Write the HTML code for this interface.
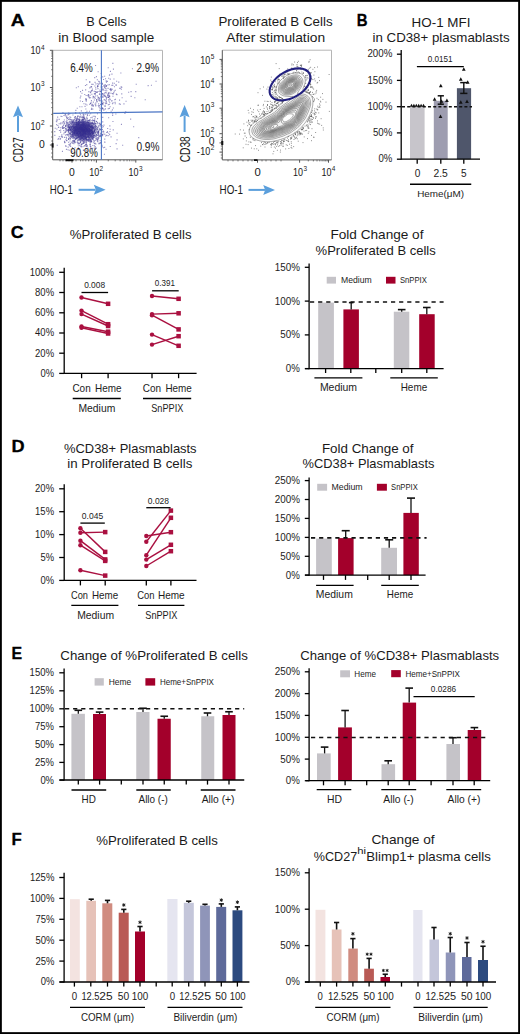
<!DOCTYPE html><html><head><meta charset="utf-8"><style>html,body{margin:0;padding:0;background:#fff}svg{display:block}text{font-family:"Liberation Sans",sans-serif}</style></head><body>
<svg width="520" height="1034" viewBox="0 0 520 1034">
<rect x="0" y="0" width="520" height="1034" fill="#fff"/>
<text x="17.75" y="25.75" font-size="17.4" font-weight="bold" fill="#000" text-anchor="middle" textLength="14" lengthAdjust="spacingAndGlyphs" stroke="#000" stroke-width="0.3">A</text>
<text x="362.1" y="26.2" font-size="17.4" font-weight="bold" fill="#000" text-anchor="middle" textLength="10.8" lengthAdjust="spacingAndGlyphs" stroke="#000" stroke-width="0.3">B</text>
<text x="17.15" y="238.3" font-size="17.4" font-weight="bold" fill="#000" text-anchor="middle" textLength="12.9" lengthAdjust="spacingAndGlyphs" stroke="#000" stroke-width="0.3">C</text>
<text x="17.95" y="452.1" font-size="17.4" font-weight="bold" fill="#000" text-anchor="middle" textLength="13.1" lengthAdjust="spacingAndGlyphs" stroke="#000" stroke-width="0.3">D</text>
<text x="16.8" y="659.2" font-size="17.4" font-weight="bold" fill="#000" text-anchor="middle" textLength="10.6" lengthAdjust="spacingAndGlyphs" stroke="#000" stroke-width="0.3">E</text>
<text x="16.62" y="844.5" font-size="17.4" font-weight="bold" fill="#000" text-anchor="middle" textLength="10.25" lengthAdjust="spacingAndGlyphs" stroke="#000" stroke-width="0.3">F</text>
<text x="106.5" y="25.75" font-size="12.8" fill="#1a1a1a" text-anchor="middle" textLength="40.3" lengthAdjust="spacingAndGlyphs">B Cells</text>
<text x="106.25" y="41.75" font-size="12.8" fill="#1a1a1a" text-anchor="middle" textLength="95.8" lengthAdjust="spacingAndGlyphs">in Blood sample</text>
<text x="275.5" y="25.9" font-size="12.8" fill="#1a1a1a" text-anchor="middle" textLength="114.2" lengthAdjust="spacingAndGlyphs">Proliferated B Cells</text>
<text x="275.65" y="41.7" font-size="12.8" fill="#1a1a1a" text-anchor="middle" textLength="98.9" lengthAdjust="spacingAndGlyphs">After stimulation</text>
<text x="441" y="26.6" font-size="12.8" fill="#1a1a1a" text-anchor="middle" textLength="58.8" lengthAdjust="spacingAndGlyphs">HO-1 MFI</text>
<text x="441.05" y="41.6" font-size="12.8" fill="#1a1a1a" text-anchor="middle" textLength="137.1" lengthAdjust="spacingAndGlyphs">in CD38+ plasmablasts</text>
<text x="130.65" y="238.8" font-size="12.8" fill="#1a1a1a" text-anchor="middle" textLength="121.7" lengthAdjust="spacingAndGlyphs">%Proliferated B cells</text>
<text x="376.95" y="239.4" font-size="12.8" fill="#1a1a1a" text-anchor="middle" textLength="93.1" lengthAdjust="spacingAndGlyphs">Fold Change of</text>
<text x="375.7" y="254.5" font-size="12.8" fill="#1a1a1a" text-anchor="middle" textLength="120.2" lengthAdjust="spacingAndGlyphs">%Proliferated B cells</text>
<text x="130.3" y="452.5" font-size="12.8" fill="#1a1a1a" text-anchor="middle" textLength="132.6" lengthAdjust="spacingAndGlyphs">%CD38+ Plasmablasts</text>
<text x="129.8" y="467.9" font-size="12.8" fill="#1a1a1a" text-anchor="middle" textLength="125" lengthAdjust="spacingAndGlyphs">in Proliferated B cells</text>
<text x="367.7" y="452.5" font-size="12.8" fill="#1a1a1a" text-anchor="middle" textLength="91.6" lengthAdjust="spacingAndGlyphs">Fold Change of</text>
<text x="368.45" y="467.8" font-size="12.8" fill="#1a1a1a" text-anchor="middle" textLength="131.9" lengthAdjust="spacingAndGlyphs">%CD38+ Plasmablasts</text>
<text x="154.12" y="659.7" font-size="12.8" fill="#1a1a1a" text-anchor="middle" textLength="187.55" lengthAdjust="spacingAndGlyphs">Change of %Proliferated B cells</text>
<text x="399.7" y="659.5" font-size="12.8" fill="#1a1a1a" text-anchor="middle" textLength="199" lengthAdjust="spacingAndGlyphs">Change of %CD38+ Plasmablasts</text>
<text x="157.05" y="845" font-size="12.8" fill="#1a1a1a" text-anchor="middle" textLength="121.5" lengthAdjust="spacingAndGlyphs">%Proliferated B cells</text>
<text x="403.05" y="844.4" font-size="12.8" fill="#1a1a1a" text-anchor="middle" textLength="63.1" lengthAdjust="spacingAndGlyphs">Change of</text>
<text x="335.5" y="860.8" font-size="12.8" fill="#1a1a1a" text-anchor="middle" textLength="43.4" lengthAdjust="spacingAndGlyphs">%CD27</text>
<text x="361.65" y="853.7" font-size="8.5" fill="#1a1a1a" text-anchor="middle" textLength="8.8" lengthAdjust="spacingAndGlyphs">hi</text>
<text x="428.55" y="860.8" font-size="12.8" fill="#1a1a1a" text-anchor="middle" textLength="124.5" lengthAdjust="spacingAndGlyphs">Blimp1+ plasma cells</text>
<rect x="410" y="106.7" width="14.6" height="52.5" fill="#c7c5cb"/>
<rect x="433.8" y="100.8" width="13.9" height="58.4" fill="#9e9db0"/>
<rect x="456.9" y="88.2" width="14.2" height="71" fill="#4f566b"/>
<line x1="402" y1="106.7" x2="472" y2="106.7" stroke="#111" stroke-width="1.6" stroke-dasharray="3 2.2"/>
<line x1="401.2" y1="50" x2="401.2" y2="159.8" stroke="#000" stroke-width="1.3"/>
<line x1="396.9" y1="54.2" x2="401.2" y2="54.2" stroke="#000" stroke-width="1.3"/>
<text x="379.84" y="57.38" font-size="10.3" fill="#1c1c1c" text-anchor="middle" textLength="24.93" lengthAdjust="spacingAndGlyphs">200%</text>
<line x1="396.9" y1="80.4" x2="401.2" y2="80.4" stroke="#000" stroke-width="1.3"/>
<text x="379.84" y="83.58" font-size="10.3" fill="#1c1c1c" text-anchor="middle" textLength="24.93" lengthAdjust="spacingAndGlyphs">150%</text>
<line x1="396.9" y1="106.7" x2="401.2" y2="106.7" stroke="#000" stroke-width="1.3"/>
<text x="379.84" y="109.88" font-size="10.3" fill="#1c1c1c" text-anchor="middle" textLength="24.93" lengthAdjust="spacingAndGlyphs">100%</text>
<line x1="396.9" y1="132.9" x2="401.2" y2="132.9" stroke="#000" stroke-width="1.3"/>
<text x="382.6" y="136.08" font-size="10.3" fill="#1c1c1c" text-anchor="middle" textLength="19.41" lengthAdjust="spacingAndGlyphs">50%</text>
<line x1="396.9" y1="159.2" x2="401.2" y2="159.2" stroke="#000" stroke-width="1.3"/>
<text x="385.36" y="162.38" font-size="10.3" fill="#1c1c1c" text-anchor="middle" textLength="13.89" lengthAdjust="spacingAndGlyphs">0%</text>
<line x1="401.2" y1="159.2" x2="480" y2="159.2" stroke="#000" stroke-width="1.3"/>
<line x1="417.2" y1="159.2" x2="417.2" y2="163.8" stroke="#000" stroke-width="1.3"/>
<line x1="440.8" y1="159.2" x2="440.8" y2="163.8" stroke="#000" stroke-width="1.3"/>
<line x1="463.8" y1="159.2" x2="463.8" y2="163.8" stroke="#000" stroke-width="1.3"/>
<text x="417.5" y="177" font-size="10" fill="#1c1c1c" text-anchor="middle" textLength="5.6" lengthAdjust="spacingAndGlyphs">0</text>
<text x="440.62" y="177" font-size="10" fill="#1c1c1c" text-anchor="middle" textLength="14.35" lengthAdjust="spacingAndGlyphs">2.5</text>
<text x="463.75" y="177" font-size="10" fill="#1c1c1c" text-anchor="middle" textLength="5.6" lengthAdjust="spacingAndGlyphs">5</text>
<line x1="410" y1="184.25" x2="471.25" y2="184.25" stroke="#000" stroke-width="1.3"/>
<text x="440.62" y="196.6" font-size="9.6" fill="#1c1c1c" text-anchor="middle" textLength="46.85" lengthAdjust="spacingAndGlyphs">Heme(μM)</text>
<line x1="416.9" y1="66.6" x2="463.8" y2="66.6" stroke="#000" stroke-width="1.3"/>
<text x="440.15" y="62.3" font-size="8.8" fill="#1c1c1c" text-anchor="middle" textLength="24.8" lengthAdjust="spacingAndGlyphs">0.0151</text>
<line x1="440.8" y1="95.8" x2="440.8" y2="104.2" stroke="#111" stroke-width="1.4"/>
<line x1="437.7" y1="95.8" x2="443.9" y2="95.8" stroke="#111" stroke-width="1.5"/>
<line x1="437.7" y1="104.2" x2="443.9" y2="104.2" stroke="#111" stroke-width="1.5"/>
<line x1="463.8" y1="82.6" x2="463.8" y2="93.4" stroke="#111" stroke-width="1.4"/>
<line x1="460.2" y1="82.6" x2="467.4" y2="82.6" stroke="#111" stroke-width="1.5"/>
<line x1="460.2" y1="93.4" x2="467.4" y2="93.4" stroke="#111" stroke-width="1.5"/>
<path d="M411.5 103.7L413.15 106.85L409.85 106.85Z" fill="#111"/>
<path d="M413.9 103.7L415.55 106.85L412.25 106.85Z" fill="#111"/>
<path d="M416.3 103.7L417.95 106.85L414.65 106.85Z" fill="#111"/>
<path d="M418.7 103.7L420.35 106.85L417.05 106.85Z" fill="#111"/>
<path d="M421.1 103.7L422.75 106.85L419.45 106.85Z" fill="#111"/>
<path d="M423.5 103.7L425.15 106.85L421.85 106.85Z" fill="#111"/>
<path d="M440.8 83.66L442.67 87.23L438.93 87.23Z" fill="#111"/>
<path d="M434.6 97.16L436.47 100.73L432.73 100.73Z" fill="#111"/>
<path d="M446.9 98.46L448.77 102.03L445.03 102.03Z" fill="#111"/>
<path d="M440.5 114.46L442.37 118.03L438.63 118.03Z" fill="#111"/>
<path d="M441.5 99.26L443.37 102.83L439.63 102.83Z" fill="#111"/>
<path d="M463.8 67.16L465.67 70.73L461.93 70.73Z" fill="#111"/>
<path d="M460.8 77.16L462.67 80.73L458.93 80.73Z" fill="#111"/>
<path d="M467.7 80.26L469.57 83.83L465.83 83.83Z" fill="#111"/>
<path d="M460.8 100.26L462.67 103.83L458.93 103.83Z" fill="#111"/>
<path d="M467 99.46L468.87 103.03L465.13 103.03Z" fill="#111"/>
<line x1="64.2" y1="267.7" x2="64.2" y2="374" stroke="#000" stroke-width="1.3"/>
<line x1="59.2" y1="272.3" x2="64.2" y2="272.3" stroke="#000" stroke-width="1.3"/>
<text x="41.9" y="275.7" font-size="11" fill="#1c1c1c" text-anchor="middle" textLength="24.4" lengthAdjust="spacingAndGlyphs">100%</text>
<line x1="59.2" y1="292.5" x2="64.2" y2="292.5" stroke="#000" stroke-width="1.3"/>
<text x="44.6" y="295.9" font-size="11" fill="#1c1c1c" text-anchor="middle" textLength="19" lengthAdjust="spacingAndGlyphs">80%</text>
<line x1="59.2" y1="312.8" x2="64.2" y2="312.8" stroke="#000" stroke-width="1.3"/>
<text x="44.6" y="316.2" font-size="11" fill="#1c1c1c" text-anchor="middle" textLength="19" lengthAdjust="spacingAndGlyphs">60%</text>
<line x1="59.2" y1="333" x2="64.2" y2="333" stroke="#000" stroke-width="1.3"/>
<text x="44.6" y="336.4" font-size="11" fill="#1c1c1c" text-anchor="middle" textLength="19" lengthAdjust="spacingAndGlyphs">40%</text>
<line x1="59.2" y1="353.2" x2="64.2" y2="353.2" stroke="#000" stroke-width="1.3"/>
<text x="44.6" y="356.6" font-size="11" fill="#1c1c1c" text-anchor="middle" textLength="19" lengthAdjust="spacingAndGlyphs">20%</text>
<line x1="59.2" y1="373.4" x2="64.2" y2="373.4" stroke="#000" stroke-width="1.3"/>
<text x="47.3" y="376.8" font-size="11" fill="#1c1c1c" text-anchor="middle" textLength="13.6" lengthAdjust="spacingAndGlyphs">0%</text>
<line x1="64.2" y1="373.4" x2="196.6" y2="373.4" stroke="#000" stroke-width="1.3"/>
<line x1="81.6" y1="373.4" x2="81.6" y2="378.2" stroke="#000" stroke-width="1.3"/>
<line x1="108.1" y1="373.4" x2="108.1" y2="378.2" stroke="#000" stroke-width="1.3"/>
<line x1="152" y1="373.4" x2="152" y2="378.2" stroke="#000" stroke-width="1.3"/>
<line x1="178.6" y1="373.4" x2="178.6" y2="378.2" stroke="#000" stroke-width="1.3"/>
<line x1="81.5" y1="297.5" x2="108.1" y2="303.8" stroke="#aa1040" stroke-width="1.45"/>
<line x1="81.5" y1="310.6" x2="108.1" y2="324.2" stroke="#aa1040" stroke-width="1.45"/>
<line x1="81.5" y1="314.1" x2="108.1" y2="326" stroke="#aa1040" stroke-width="1.45"/>
<line x1="81.5" y1="326.5" x2="108.1" y2="331.7" stroke="#aa1040" stroke-width="1.45"/>
<line x1="81.5" y1="327.7" x2="108.1" y2="333.5" stroke="#aa1040" stroke-width="1.45"/>
<circle cx="81.5" cy="297.5" r="2.2" fill="#aa1040"/>
<rect x="105.85" y="301.55" width="4.5" height="4.5" fill="#aa1040"/>
<circle cx="81.5" cy="310.6" r="2.2" fill="#aa1040"/>
<rect x="105.85" y="321.95" width="4.5" height="4.5" fill="#aa1040"/>
<circle cx="81.5" cy="314.1" r="2.2" fill="#aa1040"/>
<rect x="105.85" y="323.75" width="4.5" height="4.5" fill="#aa1040"/>
<circle cx="81.5" cy="326.5" r="2.2" fill="#aa1040"/>
<rect x="105.85" y="329.45" width="4.5" height="4.5" fill="#aa1040"/>
<circle cx="81.5" cy="327.7" r="2.2" fill="#aa1040"/>
<rect x="105.85" y="331.25" width="4.5" height="4.5" fill="#aa1040"/>
<line x1="152" y1="296" x2="178.6" y2="298.8" stroke="#aa1040" stroke-width="1.45"/>
<line x1="152" y1="314.1" x2="178.6" y2="313.3" stroke="#aa1040" stroke-width="1.45"/>
<line x1="152" y1="315.2" x2="178.6" y2="329.4" stroke="#aa1040" stroke-width="1.45"/>
<line x1="152" y1="334.6" x2="178.6" y2="345.8" stroke="#aa1040" stroke-width="1.45"/>
<line x1="152" y1="344.6" x2="178.6" y2="336.2" stroke="#aa1040" stroke-width="1.45"/>
<circle cx="152" cy="296" r="2.2" fill="#aa1040"/>
<rect x="176.35" y="296.55" width="4.5" height="4.5" fill="#aa1040"/>
<circle cx="152" cy="314.1" r="2.2" fill="#aa1040"/>
<rect x="176.35" y="311.05" width="4.5" height="4.5" fill="#aa1040"/>
<circle cx="152" cy="315.2" r="2.2" fill="#aa1040"/>
<rect x="176.35" y="327.15" width="4.5" height="4.5" fill="#aa1040"/>
<circle cx="152" cy="334.6" r="2.2" fill="#aa1040"/>
<rect x="176.35" y="343.55" width="4.5" height="4.5" fill="#aa1040"/>
<circle cx="152" cy="344.6" r="2.2" fill="#aa1040"/>
<rect x="176.35" y="333.95" width="4.5" height="4.5" fill="#aa1040"/>
<line x1="81.5" y1="292.5" x2="108.1" y2="292.5" stroke="#000" stroke-width="1.3"/>
<text x="94.6" y="288.2" font-size="8.8" fill="#1c1c1c" text-anchor="middle" textLength="20.9" lengthAdjust="spacingAndGlyphs">0.008</text>
<line x1="152.1" y1="290.8" x2="178.7" y2="290.8" stroke="#000" stroke-width="1.3"/>
<text x="164.8" y="285.9" font-size="8.8" fill="#1c1c1c" text-anchor="middle" textLength="20.1" lengthAdjust="spacingAndGlyphs">0.391</text>
<text x="81.55" y="391.5" font-size="10.8" fill="#1c1c1c" text-anchor="middle" textLength="18.3" lengthAdjust="spacingAndGlyphs">Con</text>
<text x="108.25" y="391.5" font-size="10.8" fill="#1c1c1c" text-anchor="middle" textLength="26.5" lengthAdjust="spacingAndGlyphs">Heme</text>
<line x1="72.7" y1="398.5" x2="120.8" y2="398.5" stroke="#000" stroke-width="1.3"/>
<text x="96.9" y="411.5" font-size="10.8" fill="#1c1c1c" text-anchor="middle" textLength="36.8" lengthAdjust="spacingAndGlyphs">Medium</text>
<text x="151.95" y="391.5" font-size="10.8" fill="#1c1c1c" text-anchor="middle" textLength="18.3" lengthAdjust="spacingAndGlyphs">Con</text>
<text x="178.6" y="391.5" font-size="10.8" fill="#1c1c1c" text-anchor="middle" textLength="26.4" lengthAdjust="spacingAndGlyphs">Heme</text>
<line x1="143" y1="398.5" x2="191.2" y2="398.5" stroke="#000" stroke-width="1.3"/>
<text x="167.25" y="411.5" font-size="10.8" fill="#1c1c1c" text-anchor="middle" textLength="32.1" lengthAdjust="spacingAndGlyphs">SnPPIX</text>
<rect x="318.2" y="302.6" width="15.7" height="66" fill="#c5c3c8"/>
<rect x="343.4" y="309.4" width="15.5" height="59.2" fill="#a3002b"/>
<rect x="393.8" y="311.7" width="15.5" height="56.9" fill="#c5c3c8"/>
<rect x="419.2" y="314.2" width="15.5" height="54.4" fill="#a3002b"/>
<line x1="351.2" y1="302.6" x2="351.2" y2="309.4" stroke="#111" stroke-width="1.3"/>
<line x1="348.9" y1="302.6" x2="353.5" y2="302.6" stroke="#111" stroke-width="1.6"/>
<line x1="401.7" y1="309.6" x2="401.7" y2="311.7" stroke="#111" stroke-width="1.3"/>
<line x1="397.9" y1="309.6" x2="405.5" y2="309.6" stroke="#111" stroke-width="1.6"/>
<line x1="426.8" y1="307.5" x2="426.8" y2="314.2" stroke="#111" stroke-width="1.3"/>
<line x1="423" y1="307.5" x2="430.6" y2="307.5" stroke="#111" stroke-width="1.6"/>
<line x1="310" y1="302" x2="443.6" y2="302" stroke="#111" stroke-width="1.6" stroke-dasharray="4.2 3.9"/>
<line x1="309.1" y1="263.5" x2="309.1" y2="369.2" stroke="#000" stroke-width="1.3"/>
<line x1="304.8" y1="267.3" x2="309.1" y2="267.3" stroke="#000" stroke-width="1.3"/>
<text x="287.3" y="270.7" font-size="11" fill="#1c1c1c" text-anchor="middle" textLength="25.19" lengthAdjust="spacingAndGlyphs">150%</text>
<line x1="304.8" y1="301.1" x2="309.1" y2="301.1" stroke="#000" stroke-width="1.3"/>
<text x="287.3" y="304.5" font-size="11" fill="#1c1c1c" text-anchor="middle" textLength="25.19" lengthAdjust="spacingAndGlyphs">100%</text>
<line x1="304.8" y1="334.9" x2="309.1" y2="334.9" stroke="#000" stroke-width="1.3"/>
<text x="290.09" y="338.3" font-size="11" fill="#1c1c1c" text-anchor="middle" textLength="19.61" lengthAdjust="spacingAndGlyphs">50%</text>
<line x1="304.8" y1="368.6" x2="309.1" y2="368.6" stroke="#000" stroke-width="1.3"/>
<text x="292.88" y="372" font-size="11" fill="#1c1c1c" text-anchor="middle" textLength="14.03" lengthAdjust="spacingAndGlyphs">0%</text>
<line x1="305" y1="368.6" x2="443.6" y2="368.6" stroke="#000" stroke-width="1.3"/>
<line x1="325.6" y1="368.6" x2="325.6" y2="373" stroke="#000" stroke-width="1.3"/>
<line x1="350.8" y1="368.6" x2="350.8" y2="373" stroke="#000" stroke-width="1.3"/>
<line x1="375.8" y1="368.6" x2="375.8" y2="373" stroke="#000" stroke-width="1.3"/>
<line x1="401.7" y1="368.6" x2="401.7" y2="373" stroke="#000" stroke-width="1.3"/>
<line x1="426.8" y1="368.6" x2="426.8" y2="373" stroke="#000" stroke-width="1.3"/>
<rect x="326.7" y="276.8" width="9.3" height="6.8" fill="#c5c3c8"/>
<text x="356.4" y="283.1" font-size="8.2" fill="#1c1c1c" text-anchor="middle" textLength="30.7" lengthAdjust="spacingAndGlyphs">Medium</text>
<rect x="386" y="276.8" width="9.5" height="6.8" fill="#a3002b"/>
<text x="413.4" y="283.1" font-size="8.2" fill="#1c1c1c" text-anchor="middle" textLength="26.9" lengthAdjust="spacingAndGlyphs">SnPPIX</text>
<line x1="314.4" y1="377.8" x2="362.4" y2="377.8" stroke="#000" stroke-width="1.3"/>
<line x1="390.3" y1="377.8" x2="437.8" y2="377.8" stroke="#000" stroke-width="1.3"/>
<text x="338.5" y="391.3" font-size="10.8" fill="#1c1c1c" text-anchor="middle" textLength="37.2" lengthAdjust="spacingAndGlyphs">Medium</text>
<text x="413.95" y="391.3" font-size="10.8" fill="#1c1c1c" text-anchor="middle" textLength="26.5" lengthAdjust="spacingAndGlyphs">Heme</text>
<line x1="64.2" y1="484.2" x2="64.2" y2="581" stroke="#000" stroke-width="1.3"/>
<line x1="59.2" y1="488.8" x2="64.2" y2="488.8" stroke="#000" stroke-width="1.3"/>
<text x="44.6" y="492.2" font-size="11" fill="#1c1c1c" text-anchor="middle" textLength="19" lengthAdjust="spacingAndGlyphs">20%</text>
<line x1="59.2" y1="511.7" x2="64.2" y2="511.7" stroke="#000" stroke-width="1.3"/>
<text x="44.6" y="515.1" font-size="11" fill="#1c1c1c" text-anchor="middle" textLength="19" lengthAdjust="spacingAndGlyphs">15%</text>
<line x1="59.2" y1="534.6" x2="64.2" y2="534.6" stroke="#000" stroke-width="1.3"/>
<text x="44.6" y="538" font-size="11" fill="#1c1c1c" text-anchor="middle" textLength="19" lengthAdjust="spacingAndGlyphs">10%</text>
<line x1="59.2" y1="557.5" x2="64.2" y2="557.5" stroke="#000" stroke-width="1.3"/>
<text x="47.3" y="560.9" font-size="11" fill="#1c1c1c" text-anchor="middle" textLength="13.6" lengthAdjust="spacingAndGlyphs">5%</text>
<line x1="59.2" y1="580.4" x2="64.2" y2="580.4" stroke="#000" stroke-width="1.3"/>
<text x="47.3" y="583.8" font-size="11" fill="#1c1c1c" text-anchor="middle" textLength="13.6" lengthAdjust="spacingAndGlyphs">0%</text>
<line x1="64.2" y1="580.4" x2="196.5" y2="580.4" stroke="#000" stroke-width="1.3"/>
<line x1="80.4" y1="580.4" x2="80.4" y2="585.4" stroke="#000" stroke-width="1.3"/>
<line x1="105.2" y1="580.4" x2="105.2" y2="585.4" stroke="#000" stroke-width="1.3"/>
<line x1="146.3" y1="580.4" x2="146.3" y2="585.4" stroke="#000" stroke-width="1.3"/>
<line x1="170.9" y1="580.4" x2="170.9" y2="585.4" stroke="#000" stroke-width="1.3"/>
<line x1="80.4" y1="528.3" x2="105.2" y2="551.9" stroke="#aa1040" stroke-width="1.45"/>
<line x1="80.4" y1="532.7" x2="105.2" y2="532.1" stroke="#aa1040" stroke-width="1.45"/>
<line x1="80.4" y1="540.7" x2="105.2" y2="559.4" stroke="#aa1040" stroke-width="1.45"/>
<line x1="80.4" y1="545.2" x2="105.2" y2="560.9" stroke="#aa1040" stroke-width="1.45"/>
<line x1="80.4" y1="570.2" x2="105.2" y2="575.6" stroke="#aa1040" stroke-width="1.45"/>
<circle cx="80.4" cy="528.3" r="2.2" fill="#aa1040"/>
<rect x="102.95" y="549.65" width="4.5" height="4.5" fill="#aa1040"/>
<circle cx="80.4" cy="532.7" r="2.2" fill="#aa1040"/>
<rect x="102.95" y="529.85" width="4.5" height="4.5" fill="#aa1040"/>
<circle cx="80.4" cy="540.7" r="2.2" fill="#aa1040"/>
<rect x="102.95" y="557.15" width="4.5" height="4.5" fill="#aa1040"/>
<circle cx="80.4" cy="545.2" r="2.2" fill="#aa1040"/>
<rect x="102.95" y="558.65" width="4.5" height="4.5" fill="#aa1040"/>
<circle cx="80.4" cy="570.2" r="2.2" fill="#aa1040"/>
<rect x="102.95" y="573.35" width="4.5" height="4.5" fill="#aa1040"/>
<line x1="146.3" y1="536" x2="170.9" y2="532.2" stroke="#aa1040" stroke-width="1.45"/>
<line x1="146.3" y1="541.7" x2="170.9" y2="510.6" stroke="#aa1040" stroke-width="1.45"/>
<line x1="146.3" y1="555.2" x2="170.9" y2="517.8" stroke="#aa1040" stroke-width="1.45"/>
<line x1="146.3" y1="559.6" x2="170.9" y2="544.8" stroke="#aa1040" stroke-width="1.45"/>
<line x1="146.3" y1="566" x2="170.9" y2="551.2" stroke="#aa1040" stroke-width="1.45"/>
<circle cx="146.3" cy="536" r="2.2" fill="#aa1040"/>
<rect x="168.65" y="529.95" width="4.5" height="4.5" fill="#aa1040"/>
<circle cx="146.3" cy="541.7" r="2.2" fill="#aa1040"/>
<rect x="168.65" y="508.35" width="4.5" height="4.5" fill="#aa1040"/>
<circle cx="146.3" cy="555.2" r="2.2" fill="#aa1040"/>
<rect x="168.65" y="515.55" width="4.5" height="4.5" fill="#aa1040"/>
<circle cx="146.3" cy="559.6" r="2.2" fill="#aa1040"/>
<rect x="168.65" y="542.55" width="4.5" height="4.5" fill="#aa1040"/>
<circle cx="146.3" cy="566" r="2.2" fill="#aa1040"/>
<rect x="168.65" y="548.95" width="4.5" height="4.5" fill="#aa1040"/>
<line x1="80.4" y1="523.1" x2="104.8" y2="523.1" stroke="#000" stroke-width="1.3"/>
<text x="92.5" y="518.5" font-size="8.8" fill="#1c1c1c" text-anchor="middle" textLength="21.3" lengthAdjust="spacingAndGlyphs">0.045</text>
<line x1="146.3" y1="507.7" x2="170.6" y2="507.7" stroke="#000" stroke-width="1.3"/>
<text x="158.45" y="503.7" font-size="8.8" fill="#1c1c1c" text-anchor="middle" textLength="21.2" lengthAdjust="spacingAndGlyphs">0.028</text>
<text x="79.5" y="598.7" font-size="10.8" fill="#1c1c1c" text-anchor="middle" textLength="17" lengthAdjust="spacingAndGlyphs">Con</text>
<text x="105.1" y="598.7" font-size="10.8" fill="#1c1c1c" text-anchor="middle" textLength="26.2" lengthAdjust="spacingAndGlyphs">Heme</text>
<line x1="71.3" y1="605.4" x2="118.4" y2="605.4" stroke="#000" stroke-width="1.3"/>
<text x="95.65" y="618.6" font-size="10.8" fill="#1c1c1c" text-anchor="middle" textLength="36.9" lengthAdjust="spacingAndGlyphs">Medium</text>
<text x="145.85" y="598.7" font-size="10.8" fill="#1c1c1c" text-anchor="middle" textLength="17.3" lengthAdjust="spacingAndGlyphs">Con</text>
<text x="171.35" y="598.7" font-size="10.8" fill="#1c1c1c" text-anchor="middle" textLength="26.7" lengthAdjust="spacingAndGlyphs">Heme</text>
<line x1="138" y1="605.4" x2="184.4" y2="605.4" stroke="#000" stroke-width="1.3"/>
<text x="161.35" y="618.6" font-size="10.8" fill="#1c1c1c" text-anchor="middle" textLength="32.1" lengthAdjust="spacingAndGlyphs">SnPPIX</text>
<rect x="316.1" y="538.6" width="15.7" height="36.5" fill="#c5c3c8"/>
<rect x="338.1" y="538.1" width="15.5" height="37" fill="#a3002b"/>
<rect x="381.2" y="547.8" width="15.8" height="27.3" fill="#c5c3c8"/>
<rect x="403.4" y="512.9" width="15.4" height="62.2" fill="#a3002b"/>
<line x1="345.7" y1="530.7" x2="345.7" y2="538.1" stroke="#111" stroke-width="1.3"/>
<line x1="341.7" y1="530.7" x2="349.7" y2="530.7" stroke="#111" stroke-width="1.6"/>
<line x1="389.2" y1="539.8" x2="389.2" y2="547.8" stroke="#111" stroke-width="1.3"/>
<line x1="385.2" y1="539.8" x2="393.2" y2="539.8" stroke="#111" stroke-width="1.6"/>
<line x1="411" y1="498.1" x2="411" y2="512.9" stroke="#111" stroke-width="1.3"/>
<line x1="407" y1="498.1" x2="415" y2="498.1" stroke="#111" stroke-width="1.6"/>
<line x1="311" y1="537.9" x2="426.6" y2="537.9" stroke="#111" stroke-width="1.6" stroke-dasharray="4.2 3.9"/>
<line x1="309.1" y1="477.4" x2="309.1" y2="575.7" stroke="#000" stroke-width="1.3"/>
<line x1="304.8" y1="480.6" x2="309.1" y2="480.6" stroke="#000" stroke-width="1.3"/>
<text x="287.3" y="484" font-size="11" fill="#1c1c1c" text-anchor="middle" textLength="25.19" lengthAdjust="spacingAndGlyphs">250%</text>
<line x1="304.8" y1="499.5" x2="309.1" y2="499.5" stroke="#000" stroke-width="1.3"/>
<text x="287.3" y="502.9" font-size="11" fill="#1c1c1c" text-anchor="middle" textLength="25.19" lengthAdjust="spacingAndGlyphs">200%</text>
<line x1="304.8" y1="518.4" x2="309.1" y2="518.4" stroke="#000" stroke-width="1.3"/>
<text x="287.3" y="521.8" font-size="11" fill="#1c1c1c" text-anchor="middle" textLength="25.19" lengthAdjust="spacingAndGlyphs">150%</text>
<line x1="304.8" y1="537.4" x2="309.1" y2="537.4" stroke="#000" stroke-width="1.3"/>
<text x="287.3" y="540.8" font-size="11" fill="#1c1c1c" text-anchor="middle" textLength="25.19" lengthAdjust="spacingAndGlyphs">100%</text>
<line x1="304.8" y1="556.3" x2="309.1" y2="556.3" stroke="#000" stroke-width="1.3"/>
<text x="290.09" y="559.7" font-size="11" fill="#1c1c1c" text-anchor="middle" textLength="19.61" lengthAdjust="spacingAndGlyphs">50%</text>
<line x1="304.8" y1="575.1" x2="309.1" y2="575.1" stroke="#000" stroke-width="1.3"/>
<text x="292.88" y="578.5" font-size="11" fill="#1c1c1c" text-anchor="middle" textLength="14.03" lengthAdjust="spacingAndGlyphs">0%</text>
<line x1="305" y1="575.1" x2="425.6" y2="575.1" stroke="#000" stroke-width="1.3"/>
<line x1="323.5" y1="575.1" x2="323.5" y2="579.9" stroke="#000" stroke-width="1.3"/>
<line x1="345.5" y1="575.1" x2="345.5" y2="579.9" stroke="#000" stroke-width="1.3"/>
<line x1="367.7" y1="575.1" x2="367.7" y2="579.9" stroke="#000" stroke-width="1.3"/>
<line x1="389.2" y1="575.1" x2="389.2" y2="579.9" stroke="#000" stroke-width="1.3"/>
<line x1="411" y1="575.1" x2="411" y2="579.9" stroke="#000" stroke-width="1.3"/>
<rect x="317.2" y="483.8" width="9.9" height="6.9" fill="#c5c3c8"/>
<text x="347.1" y="490.2" font-size="8.2" fill="#1c1c1c" text-anchor="middle" textLength="31.1" lengthAdjust="spacingAndGlyphs">Medium</text>
<rect x="376.9" y="483.8" width="10" height="6.9" fill="#a3002b"/>
<text x="404.4" y="490.2" font-size="8.2" fill="#1c1c1c" text-anchor="middle" textLength="26.7" lengthAdjust="spacingAndGlyphs">SnPPIX</text>
<line x1="316.1" y1="585.3" x2="353.6" y2="585.3" stroke="#000" stroke-width="1.3"/>
<line x1="381.2" y1="585.3" x2="418.8" y2="585.3" stroke="#000" stroke-width="1.3"/>
<text x="334.3" y="598.2" font-size="10.8" fill="#1c1c1c" text-anchor="middle" textLength="37" lengthAdjust="spacingAndGlyphs">Medium</text>
<text x="400" y="598.2" font-size="10.8" fill="#1c1c1c" text-anchor="middle" textLength="26.4" lengthAdjust="spacingAndGlyphs">Heme</text>
<rect x="71.4" y="713.8" width="13.5" height="66.2" fill="#c5c3c8"/>
<line x1="78.3" y1="710.3" x2="78.3" y2="713.8" stroke="#111" stroke-width="1.3"/>
<line x1="74.5" y1="710.3" x2="82.1" y2="710.3" stroke="#111" stroke-width="1.6"/>
<rect x="136.25" y="712" width="13.25" height="68" fill="#c5c3c8"/>
<line x1="143" y1="708.25" x2="143" y2="712" stroke="#111" stroke-width="1.3"/>
<line x1="139.2" y1="708.25" x2="146.8" y2="708.25" stroke="#111" stroke-width="1.6"/>
<rect x="201.25" y="716.25" width="13" height="63.75" fill="#c5c3c8"/>
<line x1="207.5" y1="713" x2="207.5" y2="716.25" stroke="#111" stroke-width="1.3"/>
<line x1="203.7" y1="713" x2="211.3" y2="713" stroke="#111" stroke-width="1.6"/>
<rect x="93" y="714" width="13" height="66" fill="#a3002b"/>
<line x1="99.6" y1="712.1" x2="99.6" y2="714" stroke="#111" stroke-width="1.3"/>
<line x1="95.8" y1="712.1" x2="103.4" y2="712.1" stroke="#111" stroke-width="1.6"/>
<rect x="157.5" y="718.75" width="13.25" height="61.25" fill="#a3002b"/>
<line x1="164.25" y1="716.25" x2="164.25" y2="718.75" stroke="#111" stroke-width="1.3"/>
<line x1="160.45" y1="716.25" x2="168.05" y2="716.25" stroke="#111" stroke-width="1.6"/>
<rect x="222.5" y="715" width="13" height="65" fill="#a3002b"/>
<line x1="229" y1="711.75" x2="229" y2="715" stroke="#111" stroke-width="1.3"/>
<line x1="225.2" y1="711.75" x2="232.8" y2="711.75" stroke="#111" stroke-width="1.6"/>
<line x1="65" y1="708.8" x2="244.2" y2="708.8" stroke="#111" stroke-width="1.6" stroke-dasharray="4.2 3.9"/>
<line x1="64.1" y1="668.5" x2="64.1" y2="780.6" stroke="#000" stroke-width="1.3"/>
<line x1="59.3" y1="672.8" x2="64.1" y2="672.8" stroke="#000" stroke-width="1.3"/>
<text x="41.8" y="676.2" font-size="11" fill="#1c1c1c" text-anchor="middle" textLength="24.4" lengthAdjust="spacingAndGlyphs">150%</text>
<line x1="59.3" y1="690.8" x2="64.1" y2="690.8" stroke="#000" stroke-width="1.3"/>
<text x="41.8" y="694.2" font-size="11" fill="#1c1c1c" text-anchor="middle" textLength="24.4" lengthAdjust="spacingAndGlyphs">125%</text>
<line x1="59.3" y1="708.8" x2="64.1" y2="708.8" stroke="#000" stroke-width="1.3"/>
<text x="41.8" y="712.2" font-size="11" fill="#1c1c1c" text-anchor="middle" textLength="24.4" lengthAdjust="spacingAndGlyphs">100%</text>
<line x1="59.3" y1="726.7" x2="64.1" y2="726.7" stroke="#000" stroke-width="1.3"/>
<text x="44.5" y="730.1" font-size="11" fill="#1c1c1c" text-anchor="middle" textLength="19" lengthAdjust="spacingAndGlyphs">75%</text>
<line x1="59.3" y1="744.6" x2="64.1" y2="744.6" stroke="#000" stroke-width="1.3"/>
<text x="44.5" y="748" font-size="11" fill="#1c1c1c" text-anchor="middle" textLength="19" lengthAdjust="spacingAndGlyphs">50%</text>
<line x1="59.3" y1="762.4" x2="64.1" y2="762.4" stroke="#000" stroke-width="1.3"/>
<text x="44.5" y="765.8" font-size="11" fill="#1c1c1c" text-anchor="middle" textLength="19" lengthAdjust="spacingAndGlyphs">25%</text>
<line x1="59.3" y1="780.1" x2="64.1" y2="780.1" stroke="#000" stroke-width="1.3"/>
<text x="47.2" y="783.5" font-size="11" fill="#1c1c1c" text-anchor="middle" textLength="13.6" lengthAdjust="spacingAndGlyphs">0%</text>
<line x1="59.5" y1="780" x2="244.25" y2="780" stroke="#000" stroke-width="1.3"/>
<line x1="78.3" y1="780" x2="78.3" y2="784.6" stroke="#000" stroke-width="1.3"/>
<line x1="99.6" y1="780" x2="99.6" y2="784.6" stroke="#000" stroke-width="1.3"/>
<line x1="121.3" y1="780" x2="121.3" y2="784.6" stroke="#000" stroke-width="1.3"/>
<line x1="143" y1="780" x2="143" y2="784.6" stroke="#000" stroke-width="1.3"/>
<line x1="164.25" y1="780" x2="164.25" y2="784.6" stroke="#000" stroke-width="1.3"/>
<line x1="186.25" y1="780" x2="186.25" y2="784.6" stroke="#000" stroke-width="1.3"/>
<line x1="207.5" y1="780" x2="207.5" y2="784.6" stroke="#000" stroke-width="1.3"/>
<line x1="229" y1="780" x2="229" y2="784.6" stroke="#000" stroke-width="1.3"/>
<rect x="94.6" y="678.2" width="9.2" height="7.4" fill="#c5c3c8"/>
<text x="120" y="684.8" font-size="8.2" fill="#1c1c1c" text-anchor="middle" textLength="22.5" lengthAdjust="spacingAndGlyphs">Heme</text>
<rect x="145.4" y="678.2" width="9.8" height="7.4" fill="#a3002b"/>
<text x="186.95" y="684.8" font-size="8.2" fill="#1c1c1c" text-anchor="middle" textLength="54" lengthAdjust="spacingAndGlyphs">Heme+SnPPIX</text>
<line x1="71.5" y1="790" x2="106.2" y2="790" stroke="#000" stroke-width="1.3"/>
<line x1="136.3" y1="790" x2="170.75" y2="790" stroke="#000" stroke-width="1.3"/>
<line x1="200.75" y1="790" x2="235.5" y2="790" stroke="#000" stroke-width="1.3"/>
<text x="88.75" y="803.1" font-size="10.8" fill="#1c1c1c" text-anchor="middle" textLength="14.3" lengthAdjust="spacingAndGlyphs">HD</text>
<text x="153.15" y="803.1" font-size="10.8" fill="#1c1c1c" text-anchor="middle" textLength="29.3" lengthAdjust="spacingAndGlyphs">Allo (-)</text>
<text x="218.1" y="803.1" font-size="10.8" fill="#1c1c1c" text-anchor="middle" textLength="32.8" lengthAdjust="spacingAndGlyphs">Allo (+)</text>
<rect x="317" y="753.4" width="13.7" height="27.3" fill="#c5c3c8"/>
<line x1="324.6" y1="747.1" x2="324.6" y2="753.4" stroke="#111" stroke-width="1.3"/>
<line x1="320.8" y1="747.1" x2="328.4" y2="747.1" stroke="#111" stroke-width="1.6"/>
<rect x="381.5" y="764.2" width="13.6" height="16.5" fill="#c5c3c8"/>
<line x1="388.2" y1="760.8" x2="388.2" y2="764.2" stroke="#111" stroke-width="1.3"/>
<line x1="384.4" y1="760.8" x2="392" y2="760.8" stroke="#111" stroke-width="1.6"/>
<rect x="446.4" y="744" width="13.6" height="36.7" fill="#c5c3c8"/>
<line x1="453" y1="737.7" x2="453" y2="744" stroke="#111" stroke-width="1.3"/>
<line x1="449.2" y1="737.7" x2="456.8" y2="737.7" stroke="#111" stroke-width="1.6"/>
<rect x="338.1" y="727.4" width="13.8" height="53.3" fill="#a3002b"/>
<line x1="345.1" y1="710.5" x2="345.1" y2="727.4" stroke="#111" stroke-width="1.3"/>
<line x1="341.3" y1="710.5" x2="348.9" y2="710.5" stroke="#111" stroke-width="1.6"/>
<rect x="402.7" y="702.6" width="13.4" height="78.1" fill="#a3002b"/>
<line x1="409.2" y1="688.1" x2="409.2" y2="702.6" stroke="#111" stroke-width="1.3"/>
<line x1="405.4" y1="688.1" x2="413" y2="688.1" stroke="#111" stroke-width="1.6"/>
<rect x="467.7" y="730" width="13.5" height="50.7" fill="#a3002b"/>
<line x1="474.4" y1="727.6" x2="474.4" y2="730" stroke="#111" stroke-width="1.3"/>
<line x1="470.6" y1="727.6" x2="478.2" y2="727.6" stroke="#111" stroke-width="1.6"/>
<line x1="311" y1="737.5" x2="488.8" y2="737.5" stroke="#111" stroke-width="1.6" stroke-dasharray="4.2 3.9"/>
<line x1="309.1" y1="668.2" x2="309.1" y2="781.3" stroke="#000" stroke-width="1.3"/>
<line x1="304.8" y1="671.8" x2="309.1" y2="671.8" stroke="#000" stroke-width="1.3"/>
<text x="287.3" y="675.2" font-size="11" fill="#1c1c1c" text-anchor="middle" textLength="25.19" lengthAdjust="spacingAndGlyphs">250%</text>
<line x1="304.8" y1="693.6" x2="309.1" y2="693.6" stroke="#000" stroke-width="1.3"/>
<text x="287.3" y="697" font-size="11" fill="#1c1c1c" text-anchor="middle" textLength="25.19" lengthAdjust="spacingAndGlyphs">200%</text>
<line x1="304.8" y1="715.4" x2="309.1" y2="715.4" stroke="#000" stroke-width="1.3"/>
<text x="287.3" y="718.8" font-size="11" fill="#1c1c1c" text-anchor="middle" textLength="25.19" lengthAdjust="spacingAndGlyphs">150%</text>
<line x1="304.8" y1="737.3" x2="309.1" y2="737.3" stroke="#000" stroke-width="1.3"/>
<text x="287.3" y="740.7" font-size="11" fill="#1c1c1c" text-anchor="middle" textLength="25.19" lengthAdjust="spacingAndGlyphs">100%</text>
<line x1="304.8" y1="759.1" x2="309.1" y2="759.1" stroke="#000" stroke-width="1.3"/>
<text x="290.09" y="762.5" font-size="11" fill="#1c1c1c" text-anchor="middle" textLength="19.61" lengthAdjust="spacingAndGlyphs">50%</text>
<line x1="304.8" y1="780.7" x2="309.1" y2="780.7" stroke="#000" stroke-width="1.3"/>
<text x="292.88" y="784.1" font-size="11" fill="#1c1c1c" text-anchor="middle" textLength="14.03" lengthAdjust="spacingAndGlyphs">0%</text>
<line x1="305.8" y1="780.7" x2="490.2" y2="780.7" stroke="#000" stroke-width="1.3"/>
<line x1="323.5" y1="780.7" x2="323.5" y2="785.3" stroke="#000" stroke-width="1.3"/>
<line x1="345.1" y1="780.7" x2="345.1" y2="785.3" stroke="#000" stroke-width="1.3"/>
<line x1="366.7" y1="780.7" x2="366.7" y2="785.3" stroke="#000" stroke-width="1.3"/>
<line x1="388.2" y1="780.7" x2="388.2" y2="785.3" stroke="#000" stroke-width="1.3"/>
<line x1="409.2" y1="780.7" x2="409.2" y2="785.3" stroke="#000" stroke-width="1.3"/>
<line x1="431.1" y1="780.7" x2="431.1" y2="785.3" stroke="#000" stroke-width="1.3"/>
<line x1="453" y1="780.7" x2="453" y2="785.3" stroke="#000" stroke-width="1.3"/>
<line x1="474.2" y1="780.7" x2="474.2" y2="785.3" stroke="#000" stroke-width="1.3"/>
<line x1="413.5" y1="696.6" x2="474.7" y2="696.6" stroke="#000" stroke-width="1.3"/>
<text x="443.45" y="692.2" font-size="8.8" fill="#1c1c1c" text-anchor="middle" textLength="25.2" lengthAdjust="spacingAndGlyphs">0.0286</text>
<rect x="340.2" y="670.3" width="9.8" height="7" fill="#c5c3c8"/>
<text x="365.2" y="676.8" font-size="8.2" fill="#1c1c1c" text-anchor="middle" textLength="21.7" lengthAdjust="spacingAndGlyphs">Heme</text>
<rect x="391.2" y="670.1" width="9.6" height="7.1" fill="#a3002b"/>
<text x="432.7" y="676.8" font-size="8.2" fill="#1c1c1c" text-anchor="middle" textLength="54.5" lengthAdjust="spacingAndGlyphs">Heme+SnPPIX</text>
<line x1="316.7" y1="789.6" x2="351.3" y2="789.6" stroke="#000" stroke-width="1.3"/>
<line x1="381.3" y1="789.6" x2="416.2" y2="789.6" stroke="#000" stroke-width="1.3"/>
<line x1="446.3" y1="789.6" x2="481.2" y2="789.6" stroke="#000" stroke-width="1.3"/>
<text x="334.6" y="803" font-size="10.8" fill="#1c1c1c" text-anchor="middle" textLength="15" lengthAdjust="spacingAndGlyphs">HD</text>
<text x="398.5" y="803" font-size="10.8" fill="#1c1c1c" text-anchor="middle" textLength="30.4" lengthAdjust="spacingAndGlyphs">Allo (-)</text>
<text x="463.95" y="803" font-size="10.8" fill="#1c1c1c" text-anchor="middle" textLength="32.7" lengthAdjust="spacingAndGlyphs">Allo (+)</text>
<rect x="70" y="899.2" width="9.8" height="82.8" fill="#f3e3e0"/>
<rect x="86.3" y="900.8" width="9.7" height="81.2" fill="#e6c2b8"/>
<line x1="91.2" y1="899.2" x2="91.2" y2="900.8" stroke="#111" stroke-width="1.6"/>
<line x1="88.6" y1="899.2" x2="93.8" y2="899.2" stroke="#111" stroke-width="1.6"/>
<rect x="102.3" y="903.3" width="10" height="78.7" fill="#d08c80"/>
<line x1="107.5" y1="900.4" x2="107.5" y2="903.3" stroke="#111" stroke-width="1.6"/>
<line x1="104.9" y1="900.4" x2="110.1" y2="900.4" stroke="#111" stroke-width="1.6"/>
<rect x="118.7" y="912.7" width="10" height="69.3" fill="#b95a55"/>
<line x1="123.8" y1="909.4" x2="123.8" y2="912.7" stroke="#111" stroke-width="1.6"/>
<line x1="121.2" y1="909.4" x2="126.4" y2="909.4" stroke="#111" stroke-width="1.6"/>
<rect x="135" y="931.5" width="10" height="50.5" fill="#a3002a"/>
<line x1="140" y1="926.5" x2="140" y2="931.5" stroke="#111" stroke-width="1.6"/>
<line x1="137.4" y1="926.5" x2="142.6" y2="926.5" stroke="#111" stroke-width="1.6"/>
<path d="M123.8 903.2L123.8 906.8M125.36 904.1L122.24 905.9M125.36 905.9L122.24 904.1" stroke="#111" stroke-width="0.9" fill="none"/>
<path d="M140 920.5L140 924.1M141.56 921.4L138.44 923.2M141.56 923.2L138.44 921.4" stroke="#111" stroke-width="0.9" fill="none"/>
<rect x="167.3" y="899" width="10.2" height="83" fill="#e5e5f0"/>
<rect x="183.8" y="902.8" width="10" height="79.2" fill="#c4c6da"/>
<line x1="188.7" y1="901.2" x2="188.7" y2="902.8" stroke="#111" stroke-width="1.6"/>
<line x1="186.1" y1="901.2" x2="191.3" y2="901.2" stroke="#111" stroke-width="1.6"/>
<rect x="200.1" y="905.6" width="9.8" height="76.4" fill="#8f95b9"/>
<line x1="205" y1="904.3" x2="205" y2="905.6" stroke="#111" stroke-width="1.6"/>
<line x1="202.4" y1="904.3" x2="207.6" y2="904.3" stroke="#111" stroke-width="1.6"/>
<rect x="216.2" y="906.9" width="10" height="75.1" fill="#5e6a9a"/>
<line x1="221.3" y1="903.9" x2="221.3" y2="906.9" stroke="#111" stroke-width="1.6"/>
<line x1="218.7" y1="903.9" x2="223.9" y2="903.9" stroke="#111" stroke-width="1.6"/>
<rect x="232.5" y="910.3" width="9.9" height="71.7" fill="#2c4a7f"/>
<line x1="237.4" y1="906.9" x2="237.4" y2="910.3" stroke="#111" stroke-width="1.6"/>
<line x1="234.8" y1="906.9" x2="240" y2="906.9" stroke="#111" stroke-width="1.6"/>
<path d="M221.3 898.3L221.3 901.9M222.86 899.2L219.74 901M222.86 901L219.74 899.2" stroke="#111" stroke-width="0.9" fill="none"/>
<path d="M237.4 900.4L237.4 904M238.96 901.3L235.84 903.1M238.96 903.1L235.84 901.3" stroke="#111" stroke-width="0.9" fill="none"/>
<line x1="64.1" y1="872.8" x2="64.1" y2="982.6" stroke="#000" stroke-width="1.3"/>
<line x1="59.3" y1="877.5" x2="64.1" y2="877.5" stroke="#000" stroke-width="1.3"/>
<text x="42.2" y="880.9" font-size="11" fill="#1c1c1c" text-anchor="middle" textLength="24.4" lengthAdjust="spacingAndGlyphs">125%</text>
<line x1="59.3" y1="898.4" x2="64.1" y2="898.4" stroke="#000" stroke-width="1.3"/>
<text x="42.2" y="901.8" font-size="11" fill="#1c1c1c" text-anchor="middle" textLength="24.4" lengthAdjust="spacingAndGlyphs">100%</text>
<line x1="59.3" y1="919.3" x2="64.1" y2="919.3" stroke="#000" stroke-width="1.3"/>
<text x="44.9" y="922.7" font-size="11" fill="#1c1c1c" text-anchor="middle" textLength="19" lengthAdjust="spacingAndGlyphs">75%</text>
<line x1="59.3" y1="940.2" x2="64.1" y2="940.2" stroke="#000" stroke-width="1.3"/>
<text x="44.9" y="943.6" font-size="11" fill="#1c1c1c" text-anchor="middle" textLength="19" lengthAdjust="spacingAndGlyphs">50%</text>
<line x1="59.3" y1="961.1" x2="64.1" y2="961.1" stroke="#000" stroke-width="1.3"/>
<text x="44.9" y="964.5" font-size="11" fill="#1c1c1c" text-anchor="middle" textLength="19" lengthAdjust="spacingAndGlyphs">25%</text>
<line x1="59.3" y1="982" x2="64.1" y2="982" stroke="#000" stroke-width="1.3"/>
<text x="47.6" y="985.4" font-size="11" fill="#1c1c1c" text-anchor="middle" textLength="13.6" lengthAdjust="spacingAndGlyphs">0%</text>
<line x1="59.5" y1="982" x2="249.4" y2="982" stroke="#000" stroke-width="1.3"/>
<line x1="74.4" y1="982" x2="74.4" y2="986.6" stroke="#000" stroke-width="1.3"/>
<line x1="90.8" y1="982" x2="90.8" y2="986.6" stroke="#000" stroke-width="1.3"/>
<line x1="107.5" y1="982" x2="107.5" y2="986.6" stroke="#000" stroke-width="1.3"/>
<line x1="123.8" y1="982" x2="123.8" y2="986.6" stroke="#000" stroke-width="1.3"/>
<line x1="140" y1="982" x2="140" y2="986.6" stroke="#000" stroke-width="1.3"/>
<line x1="156.2" y1="982" x2="156.2" y2="986.6" stroke="#000" stroke-width="1.3"/>
<line x1="172.2" y1="982" x2="172.2" y2="986.6" stroke="#000" stroke-width="1.3"/>
<line x1="188.7" y1="982" x2="188.7" y2="986.6" stroke="#000" stroke-width="1.3"/>
<line x1="205" y1="982" x2="205" y2="986.6" stroke="#000" stroke-width="1.3"/>
<line x1="221.3" y1="982" x2="221.3" y2="986.6" stroke="#000" stroke-width="1.3"/>
<line x1="237.4" y1="982" x2="237.4" y2="986.6" stroke="#000" stroke-width="1.3"/>
<text x="74.5" y="1000.2" font-size="10" fill="#1c1c1c" text-anchor="middle" textLength="5.4" lengthAdjust="spacingAndGlyphs">0</text>
<text x="90.45" y="1000.2" font-size="10" fill="#1c1c1c" text-anchor="middle" textLength="18.1" lengthAdjust="spacingAndGlyphs">12.5</text>
<text x="105.95" y="1000.2" font-size="10" fill="#1c1c1c" text-anchor="middle" textLength="13.3" lengthAdjust="spacingAndGlyphs">25</text>
<text x="123.4" y="1000.2" font-size="10" fill="#1c1c1c" text-anchor="middle" textLength="11.4" lengthAdjust="spacingAndGlyphs">50</text>
<text x="140" y="1000.2" font-size="10" fill="#1c1c1c" text-anchor="middle" textLength="16.4" lengthAdjust="spacingAndGlyphs">100</text>
<text x="172.4" y="1000.2" font-size="10" fill="#1c1c1c" text-anchor="middle" textLength="5.4" lengthAdjust="spacingAndGlyphs">0</text>
<text x="188.3" y="1000.2" font-size="10" fill="#1c1c1c" text-anchor="middle" textLength="18" lengthAdjust="spacingAndGlyphs">12.5</text>
<text x="204.2" y="1000.2" font-size="10" fill="#1c1c1c" text-anchor="middle" textLength="13.8" lengthAdjust="spacingAndGlyphs">25</text>
<text x="221.05" y="1000.2" font-size="10" fill="#1c1c1c" text-anchor="middle" textLength="11.5" lengthAdjust="spacingAndGlyphs">50</text>
<text x="237.7" y="1000.2" font-size="10" fill="#1c1c1c" text-anchor="middle" textLength="16" lengthAdjust="spacingAndGlyphs">100</text>
<line x1="70" y1="1007.3" x2="145" y2="1007.3" stroke="#000" stroke-width="1.3"/>
<line x1="167.5" y1="1007.3" x2="242.5" y2="1007.3" stroke="#000" stroke-width="1.3"/>
<text x="107.45" y="1020.8" font-size="10" fill="#1c1c1c" text-anchor="middle" textLength="53.1" lengthAdjust="spacingAndGlyphs">CORM (μm)</text>
<text x="205.4" y="1020.8" font-size="10" fill="#1c1c1c" text-anchor="middle" textLength="64" lengthAdjust="spacingAndGlyphs">Biliverdin (μm)</text>
<rect x="315.5" y="909.8" width="9.9" height="72.2" fill="#f3e3e0"/>
<rect x="331.8" y="929.5" width="9.7" height="52.5" fill="#e6c2b8"/>
<line x1="336.6" y1="922.5" x2="336.6" y2="929.5" stroke="#111" stroke-width="1.6"/>
<line x1="334" y1="922.5" x2="339.2" y2="922.5" stroke="#111" stroke-width="1.6"/>
<rect x="348.3" y="948.6" width="9.5" height="33.4" fill="#d08c80"/>
<line x1="352.9" y1="938.6" x2="352.9" y2="948.6" stroke="#111" stroke-width="1.6"/>
<line x1="350.3" y1="938.6" x2="355.5" y2="938.6" stroke="#111" stroke-width="1.6"/>
<rect x="364.2" y="968.7" width="9.7" height="13.3" fill="#b95a55"/>
<line x1="369.1" y1="958.4" x2="369.1" y2="968.7" stroke="#111" stroke-width="1.6"/>
<line x1="366.5" y1="958.4" x2="371.7" y2="958.4" stroke="#111" stroke-width="1.6"/>
<rect x="380.5" y="977" width="9.5" height="5" fill="#a3002a"/>
<line x1="385.25" y1="974.25" x2="385.25" y2="977" stroke="#111" stroke-width="1.6"/>
<line x1="382.65" y1="974.25" x2="387.85" y2="974.25" stroke="#111" stroke-width="1.6"/>
<path d="M352.9 932L352.9 935.6M354.46 932.9L351.34 934.7M354.46 934.7L351.34 932.9" stroke="#111" stroke-width="0.9" fill="none"/>
<path d="M367.2 952.6L367.2 955.8M368.59 953.4L365.81 955M368.59 955L365.81 953.4" stroke="#111" stroke-width="0.9" fill="none"/>
<path d="M371 952.6L371 955.8M372.39 953.4L369.61 955M372.39 955L369.61 953.4" stroke="#111" stroke-width="0.9" fill="none"/>
<path d="M383.35 968.9L383.35 972.1M384.74 969.7L381.96 971.3M384.74 971.3L381.96 969.7" stroke="#111" stroke-width="0.9" fill="none"/>
<path d="M387.15 968.9L387.15 972.1M388.54 969.7L385.76 971.3M388.54 971.3L385.76 969.7" stroke="#111" stroke-width="0.9" fill="none"/>
<rect x="413.25" y="910" width="9.25" height="72" fill="#e5e5f0"/>
<rect x="429.5" y="939.5" width="9.5" height="42.5" fill="#c4c6da"/>
<line x1="434" y1="927.5" x2="434" y2="939.5" stroke="#111" stroke-width="1.6"/>
<line x1="431.4" y1="927.5" x2="436.6" y2="927.5" stroke="#111" stroke-width="1.6"/>
<rect x="445.75" y="952.5" width="9.5" height="29.5" fill="#8f95b9"/>
<line x1="450.25" y1="937.5" x2="450.25" y2="952.5" stroke="#111" stroke-width="1.6"/>
<line x1="447.65" y1="937.5" x2="452.85" y2="937.5" stroke="#111" stroke-width="1.6"/>
<rect x="462" y="957" width="9.5" height="25" fill="#5e6a9a"/>
<line x1="467" y1="942.5" x2="467" y2="957" stroke="#111" stroke-width="1.6"/>
<line x1="464.4" y1="942.5" x2="469.6" y2="942.5" stroke="#111" stroke-width="1.6"/>
<rect x="478" y="960" width="10" height="22" fill="#2c4a7f"/>
<line x1="483" y1="946.25" x2="483" y2="960" stroke="#111" stroke-width="1.6"/>
<line x1="480.4" y1="946.25" x2="485.6" y2="946.25" stroke="#111" stroke-width="1.6"/>
<path d="M450.25 931.95L450.25 935.55M451.81 932.85L448.69 934.65M451.81 934.65L448.69 932.85" stroke="#111" stroke-width="0.9" fill="none"/>
<path d="M467 936.2L467 939.8M468.56 937.1L465.44 938.9M468.56 938.9L465.44 937.1" stroke="#111" stroke-width="0.9" fill="none"/>
<path d="M483 939.95L483 943.55M484.56 940.85L481.44 942.65M484.56 942.65L481.44 940.85" stroke="#111" stroke-width="0.9" fill="none"/>
<line x1="309.1" y1="868.2" x2="309.1" y2="982.6" stroke="#000" stroke-width="1.3"/>
<line x1="304.8" y1="872.8" x2="309.1" y2="872.8" stroke="#000" stroke-width="1.3"/>
<text x="287.3" y="876.2" font-size="11" fill="#1c1c1c" text-anchor="middle" textLength="25.19" lengthAdjust="spacingAndGlyphs">150%</text>
<line x1="304.8" y1="909.2" x2="309.1" y2="909.2" stroke="#000" stroke-width="1.3"/>
<text x="287.3" y="912.6" font-size="11" fill="#1c1c1c" text-anchor="middle" textLength="25.19" lengthAdjust="spacingAndGlyphs">100%</text>
<line x1="304.8" y1="945.6" x2="309.1" y2="945.6" stroke="#000" stroke-width="1.3"/>
<text x="290.09" y="949" font-size="11" fill="#1c1c1c" text-anchor="middle" textLength="19.61" lengthAdjust="spacingAndGlyphs">50%</text>
<line x1="304.8" y1="982" x2="309.1" y2="982" stroke="#000" stroke-width="1.3"/>
<text x="292.88" y="985.4" font-size="11" fill="#1c1c1c" text-anchor="middle" textLength="14.03" lengthAdjust="spacingAndGlyphs">0%</text>
<line x1="305" y1="982" x2="496" y2="982" stroke="#000" stroke-width="1.3"/>
<line x1="320.3" y1="982" x2="320.3" y2="986.6" stroke="#000" stroke-width="1.3"/>
<line x1="336.6" y1="982" x2="336.6" y2="986.6" stroke="#000" stroke-width="1.3"/>
<line x1="352.9" y1="982" x2="352.9" y2="986.6" stroke="#000" stroke-width="1.3"/>
<line x1="369.1" y1="982" x2="369.1" y2="986.6" stroke="#000" stroke-width="1.3"/>
<line x1="385.3" y1="982" x2="385.3" y2="986.6" stroke="#000" stroke-width="1.3"/>
<line x1="401.5" y1="982" x2="401.5" y2="986.6" stroke="#000" stroke-width="1.3"/>
<line x1="418" y1="982" x2="418" y2="986.6" stroke="#000" stroke-width="1.3"/>
<line x1="434" y1="982" x2="434" y2="986.6" stroke="#000" stroke-width="1.3"/>
<line x1="450.25" y1="982" x2="450.25" y2="986.6" stroke="#000" stroke-width="1.3"/>
<line x1="467" y1="982" x2="467" y2="986.6" stroke="#000" stroke-width="1.3"/>
<line x1="483" y1="982" x2="483" y2="986.6" stroke="#000" stroke-width="1.3"/>
<text x="320.15" y="1000.2" font-size="10" fill="#1c1c1c" text-anchor="middle" textLength="5.3" lengthAdjust="spacingAndGlyphs">0</text>
<text x="337.1" y="1000.2" font-size="10" fill="#1c1c1c" text-anchor="middle" textLength="18.4" lengthAdjust="spacingAndGlyphs">12.5</text>
<text x="352.3" y="1000.2" font-size="10" fill="#1c1c1c" text-anchor="middle" textLength="12.2" lengthAdjust="spacingAndGlyphs">25</text>
<text x="369.15" y="1000.2" font-size="10" fill="#1c1c1c" text-anchor="middle" textLength="11.5" lengthAdjust="spacingAndGlyphs">50</text>
<text x="385.45" y="1000.2" font-size="10" fill="#1c1c1c" text-anchor="middle" textLength="16.5" lengthAdjust="spacingAndGlyphs">100</text>
<text x="417.85" y="1000.2" font-size="10" fill="#1c1c1c" text-anchor="middle" textLength="5.3" lengthAdjust="spacingAndGlyphs">0</text>
<text x="434.8" y="1000.2" font-size="10" fill="#1c1c1c" text-anchor="middle" textLength="18.4" lengthAdjust="spacingAndGlyphs">12.5</text>
<text x="450" y="1000.2" font-size="10" fill="#1c1c1c" text-anchor="middle" textLength="12.2" lengthAdjust="spacingAndGlyphs">25</text>
<text x="466.85" y="1000.2" font-size="10" fill="#1c1c1c" text-anchor="middle" textLength="11.5" lengthAdjust="spacingAndGlyphs">50</text>
<text x="483.1" y="1000.2" font-size="10" fill="#1c1c1c" text-anchor="middle" textLength="16.4" lengthAdjust="spacingAndGlyphs">100</text>
<line x1="315.2" y1="1007.4" x2="390.5" y2="1007.4" stroke="#000" stroke-width="1.3"/>
<line x1="413.5" y1="1007.4" x2="487.7" y2="1007.4" stroke="#000" stroke-width="1.3"/>
<text x="353" y="1020.8" font-size="10" fill="#1c1c1c" text-anchor="middle" textLength="53" lengthAdjust="spacingAndGlyphs">CORM (μm)</text>
<text x="450.6" y="1020.8" font-size="10" fill="#1c1c1c" text-anchor="middle" textLength="64.8" lengthAdjust="spacingAndGlyphs">Biliverdin (μm)</text>
<defs><radialGradient id="core"><stop offset="0" stop-color="#1e1666" stop-opacity="0.8"/><stop offset="0.5" stop-color="#231a6c" stop-opacity="0.6"/><stop offset="1" stop-color="#2a2278" stop-opacity="0"/></radialGradient></defs>
<ellipse cx="83" cy="130" rx="16" ry="11.5" fill="url(#core)"/>
<path d="M83.0 131.7h1.1M79.6 128.4h1.1M79.3 133.8h1.1M83.8 129.8h1.1M72.9 130.9h1.1M69.2 127.7h1.1M84.2 137.8h1.1M82.6 126.1h1.1M75.7 124.7h1.1M82.8 129.7h1.1M83.8 125.7h1.1M93.2 137.2h1.1M78.2 131.5h1.1M83.6 130.4h1.1M82.5 143.4h1.1M84.5 132.7h1.1M78.7 120.1h1.1M73.1 123.0h1.1M79.5 126.2h1.1M80.5 139.0h1.1M79.8 127.5h1.1M81.5 129.4h1.1M91.7 127.9h1.1M80.5 126.9h1.1M73.3 136.8h1.1M80.7 121.9h1.1M76.8 119.3h1.1M81.7 135.5h1.1M75.2 131.4h1.1M84.9 130.0h1.1M83.7 123.2h1.1M74.5 132.8h1.1M69.9 126.5h1.1M84.0 137.1h1.1M82.5 121.2h1.1M91.2 136.2h1.1M78.3 133.3h1.1M90.2 132.8h1.1M78.8 123.9h1.1M72.7 122.3h1.1M75.1 130.4h1.1M81.4 127.0h1.1M82.8 126.3h1.1M79.0 125.5h1.1M93.0 135.3h1.1M79.7 126.2h1.1M81.9 137.9h1.1M85.9 131.3h1.1M90.2 140.0h1.1M89.2 140.6h1.1M73.7 129.4h1.1M97.1 140.9h1.1M89.1 131.8h1.1M70.7 119.5h1.1M81.2 130.8h1.1M81.8 138.8h1.1M82.5 138.2h1.1M75.5 119.8h1.1M85.7 137.6h1.1M89.7 123.7h1.1M79.5 132.0h1.1M80.8 130.1h1.1M77.8 126.6h1.1M93.0 132.2h1.1M91.5 127.1h1.1M83.3 139.8h1.1M75.2 131.0h1.1M73.5 132.0h1.1M95.9 134.8h1.1M85.8 127.0h1.1M83.6 139.1h1.1M91.9 136.5h1.1M78.8 122.9h1.1M90.2 147.1h1.1M84.6 138.6h1.1M94.3 124.4h1.1M78.2 130.0h1.1M80.4 140.8h1.1M80.1 125.2h1.1M71.1 127.0h1.1M77.2 125.0h1.1M78.5 122.4h1.1M86.5 126.3h1.1M75.2 130.8h1.1M92.6 128.8h1.1M84.9 129.4h1.1M78.6 121.3h1.1M90.2 140.6h1.1M85.2 121.6h1.1M80.8 144.9h1.1M86.8 129.2h1.1M70.4 131.2h1.1M89.4 144.2h1.1M80.2 122.5h1.1M84.6 129.8h1.1M81.7 127.1h1.1M91.3 125.8h1.1M86.9 145.7h1.1M73.3 124.0h1.1M84.6 127.7h1.1M84.3 123.2h1.1M84.6 134.8h1.1M86.5 145.9h1.1M93.1 133.6h1.1M102.0 134.6h1.1M84.2 129.3h1.1M73.6 140.5h1.1M79.2 129.0h1.1M76.8 133.6h1.1M82.6 132.1h1.1M78.1 130.4h1.1M94.2 132.0h1.1M77.3 134.5h1.1M82.6 114.7h1.1M90.2 139.9h1.1M87.9 131.3h1.1M91.3 130.6h1.1M74.5 129.3h1.1M87.4 130.5h1.1M73.9 132.7h1.1M84.8 120.3h1.1M97.3 133.9h1.1M73.0 141.4h1.1M72.6 131.2h1.1M86.9 118.9h1.1M80.9 120.1h1.1M89.2 124.0h1.1M80.0 137.4h1.1M74.6 126.8h1.1M97.0 118.6h1.1M78.4 124.4h1.1M87.5 131.2h1.1M77.5 139.0h1.1M84.8 124.8h1.1M72.9 127.6h1.1M83.7 124.1h1.1M80.2 127.3h1.1M83.7 133.8h1.1M81.9 138.2h1.1M86.5 129.7h1.1M78.1 134.5h1.1M84.6 128.9h1.1M90.6 132.5h1.1M81.9 125.1h1.1M73.3 137.6h1.1M85.0 121.8h1.1M81.2 127.9h1.1M86.0 133.2h1.1M82.6 123.3h1.1M86.0 133.7h1.1M70.7 123.3h1.1M70.3 125.7h1.1M66.1 130.0h1.1M78.5 136.6h1.1M82.1 130.4h1.1M91.5 123.5h1.1M79.0 116.9h1.1M81.8 130.4h1.1M82.8 135.0h1.1M81.5 134.5h1.1M76.1 124.4h1.1M90.8 137.7h1.1M90.7 137.6h1.1M76.6 124.3h1.1M85.0 135.9h1.1M89.9 127.1h1.1M99.8 125.0h1.1M94.5 126.9h1.1M86.4 128.2h1.1M88.0 137.2h1.1M87.6 135.7h1.1M80.3 124.2h1.1M77.5 135.2h1.1M71.0 121.0h1.1M90.2 117.7h1.1M81.2 133.7h1.1M88.0 125.6h1.1M87.2 127.9h1.1M81.5 125.5h1.1M70.3 129.2h1.1M78.5 133.7h1.1M84.9 126.9h1.1M69.5 122.8h1.1M83.6 127.8h1.1M85.2 133.6h1.1M79.0 122.7h1.1M96.8 137.7h1.1M77.9 123.2h1.1M80.8 129.8h1.1M74.9 131.9h1.1M81.2 135.5h1.1M81.4 135.5h1.1M94.7 129.6h1.1M94.2 143.7h1.1M88.0 132.6h1.1M88.6 134.1h1.1M76.1 127.7h1.1M78.1 126.9h1.1M81.5 135.7h1.1M73.9 127.6h1.1M88.2 137.0h1.1M87.7 132.5h1.1M85.9 127.1h1.1M81.1 137.4h1.1M83.8 131.9h1.1M82.3 138.0h1.1M87.1 134.5h1.1M102.3 131.9h1.1M88.9 128.7h1.1M75.7 127.1h1.1M72.2 131.8h1.1M69.7 126.1h1.1M82.4 124.0h1.1M74.2 131.1h1.1M91.7 132.7h1.1M81.8 123.6h1.1M82.4 125.7h1.1M69.9 119.4h1.1M92.9 136.4h1.1M89.5 135.4h1.1M84.2 140.2h1.1M86.5 134.5h1.1M80.9 126.7h1.1M82.8 130.8h1.1M88.0 126.7h1.1M91.5 128.9h1.1M88.6 135.2h1.1M73.1 124.3h1.1M84.4 134.3h1.1M83.3 137.5h1.1M89.8 124.8h1.1M90.8 138.1h1.1M91.9 133.5h1.1M74.7 122.5h1.1M80.3 116.1h1.1M86.0 142.5h1.1M82.8 124.0h1.1M83.2 127.4h1.1M84.6 133.2h1.1M100.0 142.6h1.1M96.9 129.6h1.1M88.0 130.6h1.1M86.4 130.7h1.1M66.1 124.3h1.1M81.3 122.1h1.1M76.2 122.6h1.1M90.7 129.2h1.1M82.3 126.6h1.1M81.2 125.6h1.1M90.7 141.9h1.1M85.7 139.4h1.1M85.8 128.6h1.1M80.1 136.6h1.1M80.9 129.2h1.1M85.8 134.6h1.1M85.0 131.6h1.1M67.7 125.8h1.1M87.9 130.8h1.1M82.6 127.0h1.1M83.9 133.8h1.1M89.2 125.4h1.1M80.8 124.4h1.1M81.0 136.3h1.1M91.6 134.2h1.1M90.5 135.8h1.1M89.5 138.1h1.1M77.8 118.7h1.1M86.6 122.0h1.1M89.5 126.7h1.1M82.2 129.9h1.1M74.7 123.9h1.1M85.0 128.4h1.1M83.0 134.2h1.1M76.2 129.7h1.1M77.9 124.8h1.1M65.7 137.2h1.1M70.1 136.6h1.1M78.0 121.9h1.1M60.0 138.7h1.1M82.6 124.9h1.1M88.6 139.2h1.1M91.8 138.6h1.1M72.1 135.0h1.1M79.6 132.9h1.1M73.2 142.1h1.1M69.4 141.0h1.1M84.7 128.2h1.1M71.0 137.2h1.1M88.1 137.3h1.1M94.0 131.2h1.1M78.6 130.7h1.1M97.0 133.3h1.1M75.3 120.2h1.1M70.1 133.9h1.1M85.3 133.3h1.1M77.7 116.1h1.1M76.6 130.3h1.1M62.4 112.9h1.1M76.0 126.3h1.1M68.2 126.2h1.1M90.1 133.9h1.1M72.2 138.3h1.1M82.9 130.3h1.1M82.0 138.5h1.1M84.0 118.7h1.1M75.0 129.8h1.1M80.8 110.9h1.1M79.1 130.7h1.1M73.6 131.2h1.1M77.8 136.0h1.1M76.6 125.4h1.1M79.1 143.4h1.1M85.3 125.4h1.1M77.4 132.1h1.1M112.1 115.5h1.1M87.7 135.8h1.1M96.9 141.5h1.1M98.8 143.1h1.1M82.9 133.8h1.1M86.7 129.3h1.1M77.8 147.3h1.1M78.0 134.7h1.1M91.0 133.1h1.1M62.8 127.7h1.1M68.0 127.3h1.1M76.3 138.2h1.1M87.4 140.2h1.1M82.8 141.9h1.1M87.0 131.7h1.1M85.2 148.5h1.1M96.2 126.3h1.1M82.8 131.5h1.1M78.5 133.8h1.1M84.0 138.2h1.1M92.9 132.7h1.1M84.3 139.1h1.1M73.6 134.8h1.1M62.6 127.1h1.1M99.3 135.9h1.1M85.8 141.9h1.1M74.5 131.6h1.1M65.0 126.0h1.1M85.2 129.4h1.1M81.4 144.3h1.1M81.2 119.8h1.1M93.3 131.7h1.1M86.7 133.3h1.1M90.6 126.0h1.1M58.2 127.3h1.1M78.8 131.3h1.1M63.7 122.7h1.1M69.4 134.0h1.1M76.4 133.4h1.1M60.0 132.1h1.1M85.8 124.5h1.1M74.5 132.6h1.1M103.3 134.0h1.1M63.8 120.0h1.1M81.8 140.4h1.1M87.6 124.4h1.1M92.7 137.0h1.1M82.3 119.5h1.1M72.1 126.7h1.1M93.8 135.8h1.1M72.7 123.0h1.1M97.5 131.6h1.1M85.2 125.5h1.1M83.7 117.3h1.1M77.7 143.1h1.1M89.8 142.2h1.1M91.3 120.5h1.1M85.3 140.9h1.1M72.0 129.4h1.1M68.8 134.0h1.1M87.7 122.6h1.1M82.5 128.0h1.1M92.0 130.0h1.1M85.5 145.1h1.1M82.3 130.4h1.1M81.4 127.3h1.1M80.4 129.6h1.1M67.8 129.6h1.1M104.3 134.2h1.1M71.7 134.5h1.1M88.9 130.7h1.1M94.4 149.4h1.1M97.2 123.7h1.1M73.4 123.3h1.1M85.1 121.7h1.1M68.1 139.1h1.1M79.6 122.2h1.1M63.2 130.5h1.1M87.0 128.3h1.1M89.5 135.1h1.1M69.3 122.2h1.1M78.7 131.9h1.1M86.0 124.0h1.1M77.3 131.3h1.1M94.1 120.1h1.1M60.4 116.2h1.1M75.6 126.3h1.1M75.5 129.1h1.1M101.9 129.5h1.1M87.7 133.0h1.1M88.5 122.7h1.1M82.4 146.7h1.1M98.8 123.4h1.1M62.4 122.3h1.1M68.6 127.4h1.1M74.6 139.5h1.1M74.3 142.2h1.1M78.6 145.0h1.1M83.4 130.3h1.1M70.5 126.6h1.1M68.8 129.0h1.1M86.5 135.7h1.1M101.7 146.8h1.1M97.5 139.2h1.1M78.2 116.2h1.1M79.1 120.6h1.1M89.7 135.0h1.1M92.9 124.6h1.1M83.4 138.5h1.1M93.4 128.8h1.1M91.9 131.8h1.1M92.3 145.5h1.1M98.2 131.2h1.1M69.9 134.9h1.1M73.3 136.5h1.1M73.9 130.9h1.1M70.0 129.9h1.1M72.9 140.3h1.1M66.3 117.1h1.1M93.5 124.9h1.1M80.9 124.2h1.1M96.4 123.8h1.1M76.9 128.6h1.1M78.4 130.4h1.1M71.8 131.6h1.1M97.3 141.7h1.1M69.2 127.7h1.1M60.1 132.1h1.1M78.9 129.2h1.1M84.9 135.2h1.1M82.7 123.6h1.1M83.1 150.2h1.1M89.2 141.9h1.1M109.6 129.2h1.1M80.1 135.3h1.1M73.7 141.5h1.1M77.5 128.9h1.1M61.2 136.7h1.1M90.7 130.0h1.1M107.1 128.5h1.1M61.5 127.7h1.1M83.0 136.6h1.1M85.2 127.2h1.1M92.3 137.4h1.1M87.5 148.3h1.1M79.4 139.4h1.1M87.9 127.7h1.1M99.8 129.6h1.1M64.7 132.2h1.1M101.4 135.2h1.1M54.3 135.4h1.1M103.9 154.2h1.1M73.6 133.4h1.1M80.7 154.0h1.1M70.8 127.0h1.1M77.1 116.3h1.1M65.1 135.2h1.1M65.6 146.3h1.1M94.2 118.7h1.1M88.3 129.3h1.1M87.7 140.7h1.1M82.7 136.2h1.1M77.1 131.0h1.1M85.7 133.8h1.1M90.7 126.1h1.1M65.9 149.4h1.1M82.6 139.3h1.1M66.1 122.8h1.1M112.4 121.5h1.1M83.8 145.9h1.1M107.3 95.0h1.1M94.5 93.6h1.1M109.9 71.4h1.1M90.8 91.1h1.1M101.3 87.7h1.1M99.3 110.4h1.1M105.4 112.5h1.1M100.8 86.4h1.1M99.5 97.7h1.1M75.8 87.7h1.1M80.0 91.6h1.1M94.6 104.2h1.1M98.0 106.8h1.1M98.1 81.2h1.1M92.1 104.3h1.1M105.2 92.4h1.1M121.2 87.4h1.1M97.5 91.5h1.1M108.7 84.6h1.1M89.2 81.9h1.1M106.1 103.4h1.1M94.5 82.4h1.1M99.0 105.5h1.1M96.0 99.7h1.1M90.9 86.6h1.1M83.4 103.8h1.1M102.4 109.1h1.1M98.8 100.8h1.1M101.5 108.5h1.1M105.0 96.2h1.1M93.8 93.7h1.1M96.9 101.8h1.1M96.9 86.9h1.1M116.1 81.3h1.1M100.1 91.5h1.1M100.0 104.5h1.1M79.8 101.0h1.1M96.0 101.1h1.1M105.9 82.3h1.1M79.7 97.9h1.1M93.1 96.6h1.1M109.0 96.5h1.1M98.9 98.7h1.1M106.0 97.8h1.1M113.8 83.3h1.1M92.8 102.1h1.1M113.4 79.0h1.1M106.7 81.5h1.1M101.1 95.5h1.1M100.2 96.3h1.1M107.8 97.4h1.1M85.2 104.1h1.1M103.1 86.0h1.1M112.3 85.3h1.1M97.7 99.9h1.1M81.4 106.8h1.1M95.0 91.6h1.1M108.6 101.2h1.1M101.9 84.3h1.1M79.3 106.7h1.1M105.8 85.6h1.1M100.9 95.5h1.1M88.6 97.4h1.1M110.5 89.1h1.1M90.1 92.6h1.1M84.2 94.5h1.1M118.8 103.9h1.1M111.4 74.1h1.1M128.1 92.2h1.1M131.9 68.7h1.1M93.0 97.0h1.1M109.4 89.4h1.1M119.9 104.2h1.1M94.6 104.0h1.1M77.8 86.7h1.1M100.4 104.5h1.1M136.4 71.2h1.1M104.9 84.9h1.1M105.7 101.6h1.1M112.8 93.9h1.1M133.1 126.8h1.1M135.7 84.3h1.1M120.9 124.4h1.1M116.5 148.9h1.1M116.5 133.3h1.1M148.0 68.0h1.1M147.6 85.6h1.1" stroke="#30288e" stroke-opacity="0.5" stroke-width="1.1" fill="none"/>
<path d="M85.2 144.6h1.1M75.6 126.0h1.1M78.3 127.2h1.1M76.0 124.1h1.1M79.6 132.5h1.1M81.2 128.0h1.1M81.6 130.0h1.1M83.8 131.0h1.1M76.9 116.3h1.1M89.6 136.8h1.1M83.5 140.3h1.1M71.4 142.7h1.1M98.0 135.3h1.1M87.3 125.1h1.1M88.0 125.7h1.1M79.5 135.6h1.1M81.5 124.5h1.1M77.0 127.2h1.1M82.3 128.5h1.1M80.2 117.1h1.1M80.7 125.1h1.1M74.6 118.3h1.1M87.9 131.9h1.1M90.9 136.2h1.1M85.6 129.5h1.1M76.3 130.4h1.1M78.3 124.4h1.1M81.5 129.4h1.1M82.4 128.5h1.1M76.6 120.7h1.1M78.6 137.0h1.1M85.7 137.5h1.1M88.7 132.3h1.1M71.5 135.5h1.1M80.9 129.0h1.1M78.9 127.5h1.1M73.4 130.1h1.1M83.1 115.9h1.1M83.1 131.1h1.1M76.9 140.9h1.1M85.5 132.7h1.1M78.3 124.2h1.1M83.5 132.0h1.1M81.9 137.8h1.1M79.2 134.7h1.1M79.2 126.5h1.1M83.2 132.4h1.1M78.8 121.0h1.1M81.9 125.0h1.1M89.9 136.6h1.1M89.5 131.8h1.1M94.1 121.5h1.1M75.4 133.9h1.1M67.2 134.5h1.1M83.3 115.2h1.1M75.7 130.8h1.1M86.0 140.7h1.1M76.4 134.3h1.1M85.5 133.4h1.1M82.3 128.7h1.1M88.6 132.9h1.1M91.7 126.9h1.1M68.2 117.7h1.1M83.4 132.4h1.1M84.2 135.4h1.1M89.0 128.8h1.1M86.8 132.2h1.1M82.0 133.2h1.1M94.0 121.0h1.1M63.4 115.5h1.1M74.9 116.5h1.1M85.5 137.4h1.1M80.1 133.3h1.1M89.9 134.9h1.1M81.1 138.9h1.1M87.2 129.5h1.1M95.0 125.7h1.1M74.7 136.5h1.1M81.3 127.9h1.1M81.2 122.2h1.1M87.3 131.8h1.1M84.4 138.5h1.1M98.1 135.8h1.1M85.4 131.9h1.1M76.2 119.3h1.1M87.2 125.0h1.1M72.9 124.2h1.1M75.9 134.1h1.1M81.5 138.4h1.1M82.7 139.0h1.1M97.0 132.2h1.1M85.9 131.6h1.1M88.3 126.5h1.1M77.9 137.0h1.1M77.2 123.3h1.1M74.4 133.3h1.1M91.0 132.5h1.1M82.0 134.7h1.1M72.2 123.5h1.1M90.5 135.1h1.1M85.9 139.8h1.1M73.9 137.5h1.1M68.8 121.3h1.1M80.1 134.1h1.1M81.7 124.8h1.1M70.5 129.4h1.1M91.0 137.7h1.1M79.6 132.8h1.1M80.7 146.9h1.1M89.6 130.1h1.1M75.7 137.8h1.1M77.2 126.7h1.1M87.4 123.1h1.1M74.9 129.0h1.1M76.2 122.6h1.1M74.9 138.1h1.1M71.6 135.9h1.1M85.8 129.7h1.1M77.3 122.7h1.1M69.2 127.6h1.1M82.8 122.3h1.1M75.2 136.3h1.1M88.6 134.6h1.1M80.3 124.6h1.1M74.9 128.0h1.1M71.7 126.6h1.1M80.0 133.4h1.1M82.8 125.9h1.1M82.5 128.2h1.1M82.0 125.0h1.1M77.4 124.4h1.1M82.2 132.3h1.1M75.9 131.1h1.1M83.0 131.6h1.1M78.4 136.0h1.1M84.1 125.3h1.1M75.7 126.1h1.1M74.0 130.0h1.1M79.7 131.2h1.1M84.8 129.8h1.1M81.1 127.6h1.1M71.6 131.0h1.1M84.8 131.0h1.1M64.0 127.5h1.1M78.2 134.3h1.1M96.1 121.6h1.1M73.5 125.9h1.1M83.8 122.0h1.1M88.5 122.8h1.1M80.7 133.0h1.1M87.4 133.1h1.1M80.3 125.2h1.1M80.5 135.7h1.1M82.9 129.4h1.1M87.1 125.2h1.1M85.3 134.0h1.1M82.7 129.4h1.1M82.6 116.3h1.1M94.0 120.7h1.1M88.9 125.4h1.1M85.5 126.2h1.1M86.7 140.3h1.1M81.2 136.1h1.1M84.5 129.2h1.1M76.1 125.3h1.1M78.3 134.0h1.1M98.0 133.9h1.1M82.1 135.7h1.1M76.8 124.9h1.1M77.3 133.4h1.1M80.5 132.3h1.1M75.3 134.4h1.1M80.4 125.5h1.1M75.2 122.5h1.1M82.2 134.2h1.1M80.3 129.3h1.1M79.2 131.0h1.1M88.1 136.4h1.1M86.3 128.3h1.1M85.8 143.2h1.1M80.4 122.9h1.1M91.3 127.4h1.1M76.3 132.5h1.1M68.0 126.7h1.1M82.2 128.9h1.1M78.4 131.5h1.1M97.9 137.6h1.1M93.8 137.1h1.1M83.7 136.9h1.1M80.2 132.0h1.1M87.0 127.5h1.1M89.9 130.3h1.1M77.9 122.1h1.1M68.4 129.5h1.1M87.5 134.4h1.1M80.8 131.5h1.1M67.4 114.9h1.1M85.8 122.6h1.1M71.5 136.8h1.1M86.3 130.0h1.1M82.2 130.6h1.1M83.3 124.9h1.1M86.1 129.7h1.1M84.6 132.8h1.1M73.9 128.4h1.1M77.6 129.3h1.1M77.6 123.6h1.1M75.4 134.4h1.1M74.4 121.0h1.1M75.8 125.2h1.1M79.9 138.3h1.1M79.5 132.4h1.1M76.3 133.2h1.1M77.0 127.9h1.1M79.4 128.7h1.1M101.6 127.7h1.1M85.4 123.5h1.1M80.9 129.9h1.1M85.4 126.4h1.1M98.7 129.9h1.1M96.4 135.3h1.1M88.6 133.4h1.1M83.9 129.6h1.1M89.6 146.3h1.1M75.0 129.7h1.1M100.3 134.0h1.1M83.9 127.0h1.1M90.9 134.7h1.1M78.0 127.3h1.1M86.7 136.7h1.1M88.2 136.2h1.1M79.6 126.1h1.1M72.6 120.0h1.1M92.5 123.3h1.1M90.0 135.4h1.1M88.4 131.4h1.1M79.0 125.2h1.1M78.8 139.1h1.1M89.6 133.5h1.1M76.8 123.8h1.1M95.8 134.5h1.1M88.9 128.6h1.1M87.9 120.6h1.1M87.8 124.8h1.1M76.3 138.2h1.1M71.2 134.6h1.1M81.9 135.9h1.1M87.3 133.6h1.1M81.8 117.2h1.1M80.0 127.7h1.1M85.9 130.0h1.1M96.3 132.0h1.1M86.3 122.4h1.1M69.4 124.0h1.1M77.6 131.0h1.1M72.3 119.8h1.1M75.7 135.8h1.1M72.7 120.5h1.1M87.3 130.9h1.1M75.7 136.5h1.1M82.7 131.6h1.1M89.6 126.7h1.1M72.7 121.4h1.1M74.7 131.7h1.1M76.8 132.5h1.1M80.2 128.2h1.1M66.3 125.9h1.1M97.0 139.8h1.1M91.7 126.5h1.1M71.0 127.6h1.1M81.0 130.7h1.1M81.4 120.5h1.1M77.6 125.0h1.1M78.2 137.5h1.1M98.3 136.8h1.1M65.5 128.1h1.1M91.5 122.8h1.1M78.4 127.9h1.1M85.2 134.0h1.1M90.7 126.5h1.1M58.6 123.8h1.1M92.2 127.5h1.1M74.5 138.0h1.1M60.0 127.8h1.1M73.1 137.9h1.1M72.1 132.8h1.1M73.1 128.2h1.1M97.0 122.5h1.1M89.2 131.1h1.1M76.9 118.9h1.1M70.1 146.5h1.1M102.6 131.0h1.1M80.2 139.3h1.1M82.1 121.2h1.1M78.1 119.5h1.1M82.4 112.9h1.1M89.2 129.6h1.1M76.7 128.3h1.1M75.4 129.6h1.1M95.7 148.1h1.1M72.9 135.2h1.1M76.9 124.5h1.1M81.4 136.7h1.1M60.1 130.1h1.1M76.7 136.9h1.1M74.6 126.6h1.1M91.5 138.8h1.1M86.1 137.2h1.1M72.4 128.9h1.1M97.1 128.8h1.1M106.9 131.8h1.1M65.4 128.8h1.1M78.4 134.9h1.1M65.0 125.3h1.1M90.7 132.2h1.1M74.5 147.7h1.1M87.5 132.1h1.1M69.3 133.6h1.1M95.3 138.5h1.1M78.4 125.9h1.1M76.7 134.1h1.1M79.8 130.3h1.1M84.2 127.3h1.1M69.4 145.5h1.1M70.6 136.0h1.1M89.1 137.0h1.1M84.4 136.8h1.1M81.5 130.9h1.1M84.8 136.9h1.1M108.3 133.2h1.1M78.2 136.5h1.1M74.8 128.1h1.1M89.5 151.3h1.1M94.0 130.0h1.1M79.7 133.6h1.1M83.2 133.7h1.1M58.7 136.7h1.1M88.6 120.3h1.1M101.6 145.2h1.1M85.6 139.3h1.1M71.9 122.5h1.1M69.5 145.9h1.1M60.2 123.9h1.1M74.6 135.4h1.1M81.1 130.3h1.1M86.1 144.6h1.1M92.2 133.5h1.1M82.3 135.0h1.1M95.7 126.6h1.1M71.3 132.7h1.1M87.0 139.8h1.1M56.3 129.0h1.1M57.4 139.2h1.1M93.9 145.9h1.1M78.9 128.1h1.1M88.8 115.3h1.1M77.2 123.1h1.1M66.1 121.3h1.1M93.3 133.6h1.1M69.1 128.7h1.1M86.0 130.2h1.1M72.6 125.3h1.1M91.2 141.3h1.1M77.7 127.2h1.1M76.1 119.1h1.1M78.2 127.5h1.1M90.7 141.6h1.1M67.8 125.3h1.1M91.8 131.2h1.1M72.8 121.6h1.1M66.3 140.6h1.1M85.8 125.9h1.1M100.5 129.2h1.1M88.0 134.5h1.1M89.8 144.1h1.1M93.2 126.3h1.1M82.2 116.9h1.1M79.3 129.4h1.1M76.5 129.7h1.1M85.7 139.3h1.1M64.4 121.8h1.1M87.8 125.8h1.1M64.7 115.8h1.1M87.2 139.9h1.1M69.7 121.6h1.1M86.6 130.6h1.1M97.9 131.9h1.1M92.5 135.1h1.1M86.6 139.5h1.1M90.8 130.6h1.1M86.5 124.8h1.1M77.7 134.0h1.1M89.0 132.2h1.1M75.1 136.0h1.1M70.0 138.9h1.1M81.7 135.9h1.1M88.4 139.0h1.1M78.6 140.4h1.1M72.4 143.4h1.1M91.5 117.4h1.1M71.7 137.8h1.1M74.6 133.3h1.1M67.8 125.1h1.1M67.0 122.7h1.1M85.2 112.5h1.1M87.2 126.3h1.1M66.0 117.3h1.1M75.2 113.0h1.1M95.9 131.7h1.1M63.9 141.2h1.1M84.9 128.4h1.1M69.9 129.4h1.1M73.8 133.1h1.1M79.9 141.3h1.1M78.6 134.1h1.1M73.6 141.2h1.1M72.0 134.5h1.1M78.5 133.6h1.1M95.1 140.3h1.1M88.7 125.2h1.1M86.3 117.0h1.1M77.9 133.6h1.1M75.8 135.5h1.1M91.9 132.2h1.1M73.8 127.5h1.1M68.3 126.6h1.1M79.5 125.0h1.1M82.7 119.0h1.1M110.5 136.9h1.1M76.2 133.9h1.1M90.7 140.2h1.1M68.1 138.6h1.1M74.1 121.2h1.1M58.9 130.5h1.1M83.3 114.3h1.1M73.7 127.1h1.1M77.4 131.7h1.1M99.9 124.4h1.1M92.3 133.3h1.1M74.0 119.4h1.1M88.5 137.4h1.1M83.9 132.2h1.1M90.7 132.9h1.1M75.9 138.6h1.1M85.4 128.6h1.1M62.3 128.4h1.1M73.4 155.5h1.1M56.5 119.2h1.1M55.8 121.2h1.1M56.2 121.8h1.1M68.6 127.9h1.1M72.9 126.6h1.1M68.5 130.5h1.1M91.7 127.0h1.1M94.2 116.2h1.1M59.2 136.7h1.1M67.9 131.3h1.1M94.9 146.9h1.1M73.7 138.3h1.1M99.3 128.3h1.1M64.8 114.4h1.1M92.8 120.5h1.1M73.8 141.2h1.1M85.5 138.5h1.1M88.4 135.1h1.1M65.5 115.9h1.1M77.6 145.0h1.1M86.5 131.4h1.1M99.5 123.2h1.1M92.2 119.3h1.1M68.4 144.6h1.1M61.2 136.8h1.1M81.6 125.1h1.1M89.6 131.7h1.1M101.0 145.7h1.1M81.0 130.0h1.1M62.3 123.3h1.1M56.7 145.3h1.1M54.2 131.6h1.1M79.0 122.9h1.1M84.5 135.8h1.1M54.7 128.2h1.1M95.1 123.3h1.1M81.1 128.6h1.1M92.5 97.9h1.1M97.0 85.3h1.1M85.3 98.9h1.1M82.0 101.5h1.1M92.6 106.1h1.1M120.0 88.2h1.1M91.3 105.7h1.1M102.5 104.8h1.1M112.8 108.0h1.1M105.8 99.9h1.1M88.2 96.4h1.1M101.1 101.6h1.1M93.8 100.0h1.1M85.7 79.7h1.1M107.5 94.4h1.1M103.7 99.6h1.1M87.5 113.2h1.1M91.3 94.3h1.1M112.3 63.4h1.1M100.6 104.3h1.1M109.2 98.8h1.1M89.3 87.9h1.1M101.8 83.4h1.1M99.0 93.7h1.1M94.7 93.2h1.1M84.1 118.4h1.1M107.5 88.4h1.1M89.2 104.4h1.1M101.1 104.7h1.1M101.0 103.2h1.1M89.2 82.1h1.1M95.1 87.8h1.1M101.5 102.8h1.1M107.9 95.3h1.1M108.1 99.9h1.1M107.6 96.2h1.1M110.3 90.8h1.1M90.9 109.4h1.1M94.0 97.3h1.1M101.8 93.8h1.1M96.9 113.7h1.1M118.2 82.1h1.1M87.8 94.5h1.1M123.4 103.9h1.1M86.2 84.6h1.1M105.6 89.0h1.1M106.3 81.0h1.1M88.9 111.2h1.1M113.9 86.7h1.1M91.1 108.2h1.1M102.7 94.9h1.1M115.8 94.1h1.1M105.4 86.4h1.1M84.9 85.5h1.1M99.1 107.1h1.1M99.4 91.8h1.1M103.3 110.1h1.1M95.2 106.0h1.1M107.1 95.5h1.1M81.4 93.2h1.1M112.4 96.2h1.1M111.9 93.6h1.1M112.1 83.1h1.1M114.2 99.8h1.1M86.9 114.9h1.1M94.2 77.6h1.1M115.6 85.3h1.1M110.4 89.5h1.1M124.4 113.5h1.1M98.1 103.9h1.1M109.0 95.4h1.1M130.5 91.6h1.1M101.7 86.7h1.1M98.9 94.5h1.1M119.0 88.2h1.1M92.5 96.3h1.1M114.8 90.3h1.1M89.9 103.4h1.1M104.1 76.3h1.1M87.3 95.6h1.1M138.2 137.6h1.1M103.2 102.8h1.1M121.6 97.7h1.1M150.9 85.3h1.1M105.5 149.2h1.1M130.6 96.4h1.1" stroke="#30288e" stroke-opacity="0.5" stroke-width="1.1" fill="none"/>
<path d="M80.9 134.3h1.1M83.5 128.8h1.1M86.7 127.9h1.1M82.8 128.9h1.1M68.7 130.4h1.1M73.5 133.3h1.1M64.1 123.5h1.1M71.5 124.6h1.1M91.0 126.7h1.1M78.6 133.2h1.1M73.8 130.8h1.1M89.4 138.2h1.1M88.7 127.1h1.1M81.6 129.5h1.1M93.8 130.6h1.1M84.0 127.3h1.1M89.7 133.9h1.1M87.9 130.7h1.1M92.4 120.7h1.1M81.1 127.8h1.1M85.6 130.0h1.1M82.9 129.1h1.1M82.8 133.7h1.1M83.0 136.7h1.1M70.3 127.5h1.1M84.2 127.1h1.1M84.5 130.1h1.1M88.3 129.5h1.1M83.3 133.5h1.1M90.3 125.9h1.1M82.1 131.2h1.1M67.0 126.1h1.1M76.7 132.9h1.1M92.4 138.9h1.1M81.8 131.7h1.1M82.6 124.6h1.1M92.4 136.4h1.1M77.8 125.5h1.1M80.2 136.5h1.1M95.4 128.9h1.1M93.6 127.2h1.1M69.8 129.5h1.1M77.4 128.8h1.1M74.7 128.7h1.1M85.2 137.5h1.1M87.7 133.5h1.1M91.8 137.1h1.1M72.6 122.0h1.1M87.1 137.5h1.1M79.6 129.0h1.1M86.7 127.4h1.1M74.4 130.5h1.1M82.9 129.7h1.1M84.9 126.8h1.1M76.5 124.9h1.1M70.7 130.0h1.1M75.6 129.3h1.1M84.5 145.7h1.1M98.2 126.1h1.1M82.9 131.6h1.1M82.4 125.6h1.1M82.8 122.5h1.1M58.6 119.4h1.1M74.2 140.5h1.1M83.4 128.8h1.1M87.1 123.9h1.1M77.9 121.5h1.1M82.9 126.3h1.1M79.5 127.8h1.1M84.9 128.6h1.1M81.0 144.8h1.1M83.0 135.6h1.1M69.4 124.3h1.1M88.0 141.0h1.1M81.5 138.7h1.1M82.6 117.3h1.1M86.8 129.5h1.1M82.5 129.7h1.1M81.3 135.0h1.1M76.6 129.9h1.1M94.4 126.2h1.1M83.0 143.5h1.1M81.1 127.9h1.1M73.6 132.4h1.1M91.1 128.4h1.1M97.6 132.3h1.1M83.3 124.6h1.1M76.6 127.3h1.1M84.6 126.4h1.1M84.5 124.3h1.1M87.4 122.0h1.1M68.4 135.2h1.1M81.9 131.4h1.1M87.8 125.1h1.1M74.2 127.0h1.1M83.9 133.8h1.1M91.1 130.4h1.1M80.1 129.5h1.1M89.0 124.9h1.1M70.0 126.2h1.1M80.2 132.6h1.1M76.0 127.8h1.1M93.1 137.9h1.1M80.8 137.1h1.1M94.9 127.4h1.1M80.1 132.3h1.1M85.5 134.6h1.1M82.6 132.4h1.1M75.3 118.2h1.1M71.5 136.7h1.1M89.4 129.6h1.1M85.9 139.4h1.1M81.8 133.8h1.1M82.2 123.6h1.1M82.7 123.7h1.1M69.5 130.3h1.1M74.8 134.6h1.1M76.9 125.9h1.1M86.2 127.6h1.1M97.0 127.7h1.1M84.2 134.8h1.1M71.3 132.5h1.1M89.2 128.6h1.1M93.4 131.6h1.1M90.8 129.2h1.1M75.7 128.9h1.1M76.5 122.1h1.1M82.4 126.9h1.1M82.7 131.3h1.1M77.3 123.4h1.1M82.6 131.7h1.1M84.9 125.9h1.1M81.2 126.0h1.1M72.8 133.9h1.1M80.8 126.8h1.1M81.8 126.9h1.1M81.0 126.5h1.1M84.8 142.0h1.1M87.1 134.0h1.1M85.1 128.9h1.1M87.8 128.0h1.1M87.0 123.2h1.1M71.3 126.5h1.1M85.8 137.1h1.1M92.5 128.5h1.1M95.0 124.0h1.1M77.8 130.0h1.1M90.5 127.1h1.1M87.4 124.7h1.1M85.7 124.6h1.1M82.6 118.3h1.1M78.5 131.4h1.1M89.7 131.6h1.1M88.7 138.9h1.1M88.1 128.9h1.1M85.3 132.3h1.1M89.8 134.5h1.1M84.5 134.0h1.1M75.8 133.1h1.1M90.8 127.4h1.1M78.1 127.8h1.1M86.7 126.4h1.1M91.2 135.7h1.1M77.7 121.5h1.1M83.5 143.1h1.1M79.7 139.9h1.1M83.5 137.9h1.1M75.7 130.0h1.1M70.7 130.3h1.1M81.9 120.9h1.1M86.7 136.3h1.1M91.5 124.9h1.1M81.3 128.1h1.1M80.2 127.6h1.1M88.3 123.8h1.1M92.1 122.2h1.1M97.4 132.8h1.1M67.8 124.0h1.1M88.1 141.5h1.1M77.4 131.4h1.1M65.7 134.5h1.1M97.8 132.7h1.1M73.9 117.2h1.1M85.6 132.1h1.1M80.6 126.0h1.1M70.4 123.0h1.1M92.9 140.1h1.1M82.6 131.7h1.1M79.7 134.5h1.1M100.1 133.3h1.1M88.3 140.6h1.1M85.0 128.8h1.1M83.6 126.0h1.1M78.0 134.8h1.1M93.5 141.5h1.1M78.0 123.6h1.1M80.2 133.1h1.1M85.3 138.8h1.1M77.3 126.4h1.1M78.2 128.9h1.1M85.7 129.4h1.1M92.3 128.2h1.1M72.1 125.2h1.1M72.8 128.5h1.1M70.2 130.3h1.1M83.7 142.1h1.1M82.7 140.4h1.1M79.5 136.8h1.1M79.4 130.4h1.1M79.4 127.4h1.1M84.1 119.1h1.1M89.0 125.2h1.1M87.7 131.1h1.1M93.9 122.3h1.1M90.0 136.5h1.1M88.8 139.5h1.1M92.1 127.4h1.1M83.1 122.7h1.1M89.1 130.3h1.1M88.8 130.9h1.1M76.0 122.9h1.1M79.7 140.1h1.1M82.0 122.5h1.1M75.7 129.7h1.1M84.4 123.0h1.1M98.2 130.8h1.1M83.8 127.2h1.1M82.6 120.7h1.1M85.1 131.6h1.1M79.1 130.9h1.1M84.1 140.0h1.1M77.7 128.3h1.1M91.9 136.4h1.1M82.3 131.9h1.1M91.9 131.9h1.1M78.2 125.1h1.1M79.3 131.8h1.1M79.8 134.6h1.1M92.0 139.4h1.1M89.1 129.2h1.1M68.3 136.6h1.1M88.5 126.4h1.1M82.4 130.6h1.1M75.2 121.2h1.1M85.8 133.8h1.1M82.8 139.9h1.1M90.9 132.8h1.1M90.9 123.7h1.1M83.6 129.4h1.1M86.5 130.3h1.1M79.8 135.6h1.1M90.2 131.0h1.1M83.5 136.8h1.1M81.3 128.5h1.1M77.6 135.1h1.1M69.9 132.9h1.1M94.9 135.3h1.1M85.2 136.4h1.1M96.2 130.1h1.1M87.4 124.8h1.1M96.1 138.2h1.1M80.4 127.0h1.1M83.9 132.8h1.1M76.4 137.9h1.1M77.8 139.7h1.1M74.6 127.4h1.1M88.6 126.7h1.1M91.8 132.6h1.1M77.4 122.9h1.1M94.0 123.2h1.1M81.3 140.5h1.1M91.5 122.9h1.1M84.0 130.5h1.1M88.9 126.8h1.1M100.3 126.1h1.1M86.2 134.2h1.1M83.8 129.0h1.1M73.4 131.8h1.1M84.6 119.2h1.1M82.7 131.7h1.1M97.3 140.0h1.1M65.5 125.9h1.1M91.6 148.6h1.1M79.3 134.0h1.1M101.8 125.8h1.1M94.2 130.1h1.1M76.3 127.0h1.1M96.6 127.6h1.1M98.1 132.4h1.1M72.6 132.8h1.1M63.4 133.9h1.1M88.2 139.2h1.1M84.1 135.3h1.1M77.5 121.4h1.1M92.2 134.6h1.1M79.1 118.1h1.1M88.1 133.8h1.1M76.4 124.1h1.1M89.6 129.5h1.1M92.0 123.4h1.1M93.4 135.6h1.1M72.6 121.4h1.1M74.9 135.5h1.1M83.7 138.3h1.1M79.0 119.8h1.1M70.8 126.7h1.1M78.2 149.1h1.1M90.1 146.2h1.1M99.3 136.8h1.1M93.0 132.3h1.1M85.3 130.2h1.1M66.3 118.9h1.1M68.1 129.9h1.1M90.9 132.0h1.1M74.5 134.0h1.1M79.1 127.9h1.1M83.3 135.0h1.1M76.0 131.8h1.1M89.3 123.6h1.1M81.9 128.1h1.1M90.4 139.6h1.1M76.2 156.1h1.1M76.7 108.2h1.1M88.5 120.6h1.1M75.3 110.4h1.1M78.4 131.5h1.1M72.7 135.1h1.1M76.0 119.8h1.1M78.2 131.6h1.1M77.7 128.1h1.1M82.4 126.3h1.1M72.4 136.4h1.1M80.4 122.1h1.1M102.7 126.6h1.1M92.2 120.8h1.1M83.8 130.5h1.1M72.4 130.6h1.1M81.7 131.5h1.1M90.5 123.7h1.1M67.7 130.5h1.1M91.3 126.9h1.1M72.7 134.2h1.1M87.4 129.1h1.1M72.4 133.7h1.1M91.3 136.0h1.1M88.8 124.8h1.1M82.7 137.0h1.1M91.4 137.0h1.1M94.8 152.9h1.1M82.2 119.6h1.1M104.1 147.4h1.1M76.6 135.6h1.1M81.7 143.7h1.1M85.7 138.5h1.1M74.7 134.6h1.1M93.2 123.6h1.1M75.4 130.8h1.1M74.3 140.6h1.1M75.5 130.5h1.1M75.8 121.1h1.1M83.5 117.1h1.1M81.2 134.7h1.1M88.8 140.8h1.1M88.9 129.0h1.1M77.6 137.1h1.1M79.2 132.9h1.1M98.7 143.7h1.1M84.2 142.5h1.1M95.4 136.9h1.1M92.0 137.2h1.1M99.6 140.6h1.1M77.1 125.9h1.1M85.0 133.5h1.1M76.6 142.3h1.1M64.3 113.8h1.1M67.5 130.8h1.1M73.9 122.8h1.1M85.1 127.9h1.1M90.2 131.5h1.1M68.8 127.4h1.1M85.4 131.3h1.1M84.1 131.2h1.1M83.6 124.6h1.1M71.4 121.9h1.1M109.7 146.5h1.1M100.9 133.0h1.1M65.7 129.1h1.1M83.5 134.3h1.1M88.2 136.8h1.1M86.6 132.3h1.1M105.1 136.0h1.1M91.5 133.5h1.1M68.0 142.3h1.1M89.9 129.8h1.1M71.1 128.5h1.1M69.0 124.4h1.1M65.4 129.7h1.1M92.3 130.0h1.1M65.2 113.8h1.1M68.2 114.4h1.1M89.2 121.3h1.1M69.6 127.5h1.1M86.1 128.5h1.1M102.9 147.7h1.1M66.2 123.9h1.1M94.0 131.2h1.1M87.5 134.4h1.1M76.3 134.1h1.1M87.0 139.2h1.1M98.2 143.8h1.1M86.1 128.4h1.1M68.1 113.0h1.1M87.1 120.6h1.1M57.3 125.5h1.1M78.0 124.3h1.1M82.3 134.1h1.1M69.8 138.8h1.1M93.8 131.6h1.1M103.2 131.9h1.1M87.6 137.6h1.1M73.0 126.2h1.1M93.0 127.2h1.1M100.4 135.9h1.1M63.5 124.7h1.1M73.1 132.9h1.1M72.3 127.9h1.1M72.8 127.6h1.1M87.8 128.5h1.1M70.4 127.7h1.1M90.0 130.5h1.1M62.9 121.5h1.1M76.3 118.1h1.1M80.3 135.8h1.1M92.7 132.5h1.1M66.8 135.1h1.1M89.4 129.5h1.1M91.7 126.3h1.1M87.1 123.7h1.1M83.8 121.2h1.1M80.0 142.5h1.1M56.1 124.6h1.1M71.9 135.9h1.1M87.7 136.8h1.1M74.4 124.4h1.1M79.9 114.2h1.1M75.4 121.6h1.1M74.2 135.4h1.1M88.6 132.1h1.1M96.8 135.4h1.1M86.0 150.2h1.1M69.4 128.9h1.1M78.8 137.3h1.1M65.1 145.9h1.1M80.1 126.4h1.1M94.9 125.6h1.1M75.1 139.2h1.1M89.6 145.0h1.1M85.7 120.1h1.1M91.7 129.8h1.1M90.5 134.3h1.1M57.1 117.1h1.1M68.7 150.3h1.1M109.1 134.6h1.1M103.4 125.1h1.1M100.3 143.3h1.1M91.9 127.9h1.1M74.4 141.8h1.1M73.9 132.7h1.1M116.5 139.9h1.1M59.6 139.1h1.1M86.9 115.2h1.1M85.4 144.3h1.1M79.4 145.6h1.1M95.2 133.0h1.1M91.2 131.9h1.1M64.2 142.7h1.1M98.9 129.0h1.1M93.1 127.9h1.1M92.9 137.9h1.1M94.4 128.6h1.1M71.4 151.4h1.1M70.8 130.7h1.1M61.4 116.5h1.1M78.1 130.9h1.1M89.1 120.1h1.1M86.4 126.2h1.1M72.4 115.0h1.1M64.1 142.1h1.1M113.2 92.6h1.1M91.1 87.0h1.1M107.7 108.8h1.1M119.0 100.1h1.1M109.1 96.8h1.1M95.4 83.9h1.1M99.2 99.2h1.1M95.7 92.4h1.1M105.9 86.1h1.1M106.2 90.7h1.1M107.8 104.7h1.1M110.6 90.5h1.1M114.5 102.4h1.1M91.5 90.5h1.1M102.4 97.4h1.1M90.9 100.5h1.1M94.5 94.4h1.1M86.4 111.2h1.1M99.5 91.3h1.1M92.6 105.6h1.1M89.6 91.9h1.1M97.4 83.5h1.1M97.1 86.4h1.1M85.3 109.0h1.1M98.1 97.6h1.1M96.1 92.1h1.1M111.4 85.4h1.1M90.0 97.8h1.1M99.0 83.2h1.1M101.8 93.9h1.1M103.7 95.3h1.1M120.6 86.8h1.1M88.0 95.1h1.1M105.0 78.7h1.1M97.5 98.8h1.1M102.1 101.0h1.1M121.2 93.9h1.1M101.6 104.1h1.1M108.1 92.9h1.1M92.4 105.4h1.1M108.8 108.4h1.1M104.7 100.4h1.1M104.1 95.1h1.1M105.9 98.2h1.1M88.1 91.7h1.1M96.0 99.9h1.1M95.3 89.2h1.1M102.3 108.5h1.1M110.5 93.2h1.1M104.5 106.5h1.1M108.2 97.4h1.1M97.4 88.6h1.1M116.4 94.6h1.1M107.3 85.0h1.1M102.3 103.4h1.1M92.2 109.1h1.1M95.2 105.1h1.1M99.5 83.2h1.1M93.7 91.4h1.1M85.8 99.8h1.1M108.7 104.5h1.1M109.2 102.8h1.1M96.8 79.8h1.1M97.8 105.5h1.1M112.5 102.9h1.1M105.5 81.0h1.1M82.0 90.4h1.1M110.6 111.2h1.1M104.0 87.6h1.1M120.8 89.2h1.1M100.7 73.5h1.1M112.9 69.1h1.1M100.5 94.4h1.1M105.8 112.3h1.1M95.0 65.5h1.1M91.3 84.4h1.1M114.9 99.2h1.1M115.3 114.0h1.1M97.6 71.8h1.1M89.9 87.0h1.1M105.0 88.1h1.1M109.7 79.1h1.1M108.1 78.2h1.1M125.2 111.9h1.1M113.7 91.1h1.1M135.2 91.6h1.1" stroke="#30288e" stroke-opacity="0.5" stroke-width="1.1" fill="none"/>
<path d="M76.3 130.5h1.1M93.1 128.0h1.1M85.7 123.4h1.1M88.2 136.6h1.1M73.3 129.2h1.1M85.0 124.0h1.1M79.0 126.7h1.1M79.4 136.1h1.1M76.9 117.8h1.1M82.2 122.2h1.1M83.6 130.1h1.1M83.9 130.9h1.1M74.0 122.9h1.1M88.1 131.1h1.1M77.9 128.5h1.1M74.1 124.3h1.1M91.6 131.3h1.1M68.1 131.2h1.1M88.2 124.0h1.1M94.4 132.6h1.1M82.1 129.9h1.1M79.7 124.7h1.1M88.0 135.7h1.1M87.4 137.0h1.1M67.7 133.0h1.1M99.8 129.8h1.1M86.7 135.5h1.1M86.9 125.7h1.1M75.1 139.1h1.1M84.4 121.8h1.1M68.0 119.5h1.1M89.3 126.9h1.1M88.8 137.5h1.1M93.8 135.0h1.1M75.7 127.0h1.1M77.1 137.6h1.1M81.8 136.0h1.1M80.5 127.1h1.1M80.8 127.0h1.1M78.0 122.3h1.1M72.1 133.3h1.1M88.5 135.1h1.1M86.4 146.6h1.1M73.9 128.2h1.1M82.7 131.9h1.1M80.7 133.1h1.1M88.1 139.3h1.1M90.1 122.6h1.1M88.9 134.0h1.1M94.4 130.2h1.1M89.6 130.6h1.1M70.3 123.3h1.1M89.3 135.2h1.1M83.3 133.6h1.1M71.6 129.9h1.1M86.8 122.3h1.1M78.1 128.2h1.1M77.1 133.4h1.1M72.6 136.5h1.1M72.1 133.8h1.1M83.6 122.7h1.1M66.5 120.8h1.1M79.0 120.2h1.1M75.9 120.6h1.1M82.6 128.1h1.1M84.6 122.6h1.1M91.2 125.3h1.1M73.1 132.4h1.1M88.8 133.1h1.1M82.5 134.3h1.1M81.7 123.4h1.1M94.5 132.2h1.1M94.8 116.9h1.1M83.8 124.9h1.1M83.4 129.9h1.1M78.7 119.7h1.1M83.5 129.4h1.1M89.6 137.7h1.1M83.8 123.0h1.1M89.6 140.1h1.1M80.6 123.1h1.1M75.5 131.9h1.1M81.5 134.4h1.1M74.7 125.7h1.1M94.4 123.2h1.1M81.5 132.4h1.1M94.1 135.6h1.1M79.2 138.0h1.1M85.2 114.3h1.1M82.4 130.9h1.1M83.4 126.1h1.1M72.4 129.2h1.1M70.2 117.5h1.1M99.9 135.0h1.1M82.6 127.0h1.1M74.4 125.7h1.1M79.4 135.5h1.1M80.5 128.7h1.1M81.6 127.6h1.1M77.1 128.2h1.1M90.7 141.2h1.1M89.0 134.8h1.1M87.5 140.3h1.1M74.6 125.2h1.1M78.1 125.8h1.1M90.4 122.5h1.1M75.2 127.0h1.1M79.0 119.7h1.1M73.3 134.7h1.1M83.0 123.0h1.1M79.1 127.1h1.1M81.3 124.5h1.1M87.5 129.9h1.1M83.4 127.4h1.1M70.1 137.0h1.1M82.6 124.7h1.1M77.4 129.4h1.1M77.6 140.8h1.1M75.7 133.4h1.1M80.6 129.9h1.1M83.4 127.2h1.1M75.4 129.2h1.1M75.8 133.5h1.1M61.9 126.6h1.1M74.9 126.5h1.1M93.4 131.8h1.1M68.8 127.0h1.1M82.3 136.2h1.1M92.7 137.3h1.1M82.5 123.6h1.1M75.2 123.9h1.1M81.6 130.6h1.1M78.9 129.1h1.1M83.5 125.3h1.1M67.4 129.3h1.1M79.8 142.1h1.1M78.9 128.6h1.1M84.1 131.4h1.1M70.5 120.3h1.1M85.9 118.0h1.1M86.2 128.9h1.1M91.8 125.7h1.1M90.1 127.5h1.1M71.8 122.6h1.1M80.2 134.2h1.1M82.2 127.6h1.1M86.2 118.1h1.1M77.2 127.0h1.1M91.0 130.9h1.1M75.5 124.6h1.1M85.3 137.4h1.1M76.5 135.2h1.1M85.9 137.4h1.1M62.3 128.5h1.1M95.8 135.9h1.1M88.9 132.3h1.1M97.7 127.3h1.1M93.1 127.4h1.1M81.6 128.5h1.1M71.7 141.5h1.1M71.6 122.8h1.1M79.4 119.7h1.1M76.2 135.8h1.1M88.1 122.5h1.1M80.4 130.1h1.1M92.1 133.8h1.1M84.6 127.4h1.1M83.9 123.8h1.1M72.2 129.4h1.1M84.6 132.5h1.1M76.3 126.1h1.1M82.8 117.6h1.1M88.3 122.6h1.1M102.0 134.3h1.1M98.4 125.7h1.1M86.7 141.0h1.1M95.8 139.6h1.1M87.8 137.0h1.1M80.4 131.5h1.1M80.5 125.0h1.1M92.1 138.0h1.1M83.2 130.1h1.1M79.2 127.1h1.1M71.7 121.6h1.1M82.5 122.1h1.1M82.8 130.3h1.1M88.3 128.9h1.1M82.5 136.4h1.1M82.4 134.0h1.1M82.5 131.2h1.1M74.6 128.4h1.1M83.9 141.8h1.1M79.1 127.7h1.1M79.0 123.8h1.1M71.2 124.6h1.1M87.0 130.4h1.1M71.8 131.8h1.1M94.9 132.9h1.1M76.1 133.9h1.1M68.2 128.3h1.1M83.8 128.5h1.1M86.2 130.1h1.1M81.8 141.3h1.1M95.3 144.0h1.1M80.9 131.5h1.1M78.2 124.4h1.1M90.3 129.0h1.1M76.7 122.9h1.1M82.8 129.4h1.1M67.2 123.9h1.1M81.6 129.2h1.1M87.2 129.6h1.1M78.7 128.6h1.1M84.7 133.6h1.1M78.5 136.5h1.1M79.2 137.7h1.1M79.3 126.7h1.1M83.8 123.2h1.1M74.7 132.6h1.1M84.9 125.5h1.1M82.2 129.9h1.1M85.3 138.1h1.1M74.4 130.4h1.1M81.2 117.8h1.1M75.0 124.1h1.1M81.4 124.7h1.1M94.6 123.4h1.1M93.6 130.8h1.1M88.5 124.2h1.1M67.0 118.1h1.1M83.5 131.8h1.1M81.6 129.8h1.1M78.2 137.0h1.1M73.2 125.1h1.1M79.8 126.9h1.1M85.7 130.9h1.1M83.5 126.9h1.1M91.4 135.6h1.1M87.4 130.4h1.1M80.6 121.8h1.1M75.7 125.4h1.1M82.5 123.1h1.1M90.7 131.0h1.1M90.2 141.6h1.1M76.2 127.1h1.1M86.7 125.1h1.1M83.1 141.5h1.1M80.4 141.7h1.1M76.2 128.4h1.1M76.8 132.7h1.1M98.2 134.7h1.1M78.0 124.2h1.1M83.4 135.5h1.1M66.4 130.8h1.1M81.4 126.6h1.1M75.0 130.0h1.1M75.1 112.9h1.1M80.6 144.0h1.1M84.5 132.2h1.1M81.2 138.8h1.1M68.1 132.4h1.1M77.1 129.0h1.1M101.3 135.6h1.1M80.0 132.4h1.1M89.6 119.9h1.1M71.4 123.1h1.1M78.3 132.3h1.1M74.4 127.6h1.1M75.9 126.0h1.1M65.0 126.4h1.1M84.2 133.7h1.1M67.0 118.5h1.1M84.7 126.6h1.1M85.6 128.3h1.1M72.0 122.2h1.1M109.3 125.9h1.1M68.9 138.0h1.1M102.2 121.9h1.1M74.6 130.2h1.1M85.6 125.7h1.1M106.1 132.5h1.1M79.7 121.7h1.1M72.2 140.6h1.1M82.0 130.9h1.1M67.7 124.6h1.1M104.1 142.1h1.1M92.7 116.2h1.1M81.8 125.1h1.1M69.4 116.8h1.1M82.1 134.0h1.1M70.6 135.0h1.1M94.0 140.7h1.1M69.1 137.8h1.1M69.3 144.7h1.1M80.9 128.1h1.1M73.7 132.6h1.1M95.1 136.8h1.1M82.9 121.3h1.1M83.0 119.6h1.1M74.7 117.1h1.1M78.6 121.9h1.1M83.1 126.3h1.1M93.4 120.7h1.1M79.5 128.5h1.1M94.1 143.0h1.1M81.8 131.2h1.1M83.6 121.7h1.1M77.9 132.0h1.1M86.9 126.1h1.1M87.0 122.1h1.1M85.5 140.1h1.1M65.1 131.8h1.1M93.7 148.1h1.1M71.4 121.9h1.1M91.6 148.3h1.1M88.3 136.6h1.1M65.7 131.3h1.1M67.8 125.0h1.1M78.9 123.2h1.1M83.7 131.3h1.1M90.0 139.6h1.1M64.7 128.6h1.1M85.6 146.5h1.1M72.0 131.5h1.1M85.2 122.2h1.1M80.7 139.0h1.1M69.0 119.1h1.1M72.5 126.9h1.1M84.7 125.7h1.1M73.2 120.1h1.1M78.6 129.1h1.1M66.1 140.3h1.1M88.8 130.5h1.1M99.3 124.8h1.1M83.0 139.1h1.1M57.9 127.3h1.1M81.0 134.6h1.1M82.1 137.2h1.1M92.4 138.7h1.1M73.1 129.0h1.1M79.9 139.1h1.1M80.2 129.3h1.1M74.9 130.7h1.1M80.4 129.2h1.1M75.8 138.2h1.1M81.5 137.7h1.1M85.1 138.6h1.1M80.7 130.3h1.1M68.1 139.5h1.1M86.5 151.4h1.1M102.1 135.7h1.1M77.2 135.6h1.1M99.4 136.0h1.1M106.8 132.2h1.1M86.8 132.3h1.1M61.3 134.8h1.1M84.7 125.7h1.1M75.3 138.4h1.1M86.4 126.2h1.1M70.6 131.1h1.1M66.3 122.5h1.1M79.7 139.1h1.1M74.5 142.6h1.1M82.4 124.9h1.1M97.8 131.8h1.1M80.5 127.6h1.1M107.6 135.6h1.1M76.5 130.8h1.1M90.0 126.7h1.1M80.5 125.8h1.1M92.6 123.7h1.1M79.0 122.6h1.1M63.7 132.3h1.1M83.5 125.0h1.1M77.5 124.4h1.1M68.2 122.8h1.1M74.3 134.7h1.1M67.3 130.3h1.1M83.4 139.2h1.1M65.4 130.7h1.1M92.8 133.2h1.1M86.0 123.0h1.1M89.9 133.5h1.1M84.6 131.5h1.1M84.1 126.4h1.1M96.7 138.9h1.1M82.8 150.2h1.1M86.6 132.0h1.1M89.2 135.1h1.1M75.3 133.1h1.1M87.9 128.3h1.1M71.9 147.5h1.1M115.6 143.6h1.1M73.9 131.5h1.1M73.7 134.7h1.1M66.0 138.1h1.1M92.5 133.4h1.1M106.1 135.4h1.1M85.2 123.3h1.1M81.8 132.0h1.1M84.1 136.5h1.1M70.1 130.3h1.1M69.0 133.0h1.1M82.8 142.8h1.1M72.2 127.0h1.1M61.2 135.2h1.1M69.7 143.2h1.1M77.2 142.9h1.1M77.4 129.2h1.1M81.5 127.4h1.1M75.7 123.2h1.1M83.5 131.2h1.1M75.3 128.1h1.1M67.3 127.7h1.1M73.8 129.6h1.1M81.4 135.1h1.1M96.2 128.8h1.1M82.3 119.3h1.1M81.6 137.4h1.1M69.5 133.3h1.1M69.2 113.6h1.1M67.3 130.5h1.1M73.1 133.2h1.1M90.6 123.8h1.1M80.4 138.1h1.1M90.1 113.8h1.1M65.0 132.1h1.1M79.4 123.2h1.1M80.5 146.5h1.1M71.8 121.0h1.1M73.0 133.1h1.1M72.3 122.6h1.1M78.6 136.4h1.1M83.8 132.0h1.1M89.2 133.4h1.1M76.5 132.0h1.1M84.8 137.0h1.1M84.6 126.3h1.1M81.1 128.4h1.1M86.9 130.4h1.1M94.4 143.4h1.1M70.2 130.1h1.1M100.5 136.1h1.1M88.9 129.5h1.1M80.3 129.2h1.1M72.9 130.3h1.1M98.1 133.0h1.1M62.8 125.4h1.1M98.1 138.4h1.1M73.4 143.8h1.1M67.1 127.5h1.1M79.9 135.3h1.1M91.6 134.9h1.1M71.5 142.7h1.1M65.3 139.7h1.1M58.1 138.6h1.1M74.1 126.0h1.1M78.3 143.4h1.1M67.4 149.8h1.1M85.7 112.5h1.1M73.9 133.6h1.1M69.9 143.9h1.1M64.4 142.2h1.1M78.8 138.4h1.1M56.5 120.4h1.1M72.3 125.7h1.1M109.4 131.5h1.1M70.2 128.7h1.1M89.4 133.5h1.1M69.0 125.1h1.1M60.4 122.9h1.1M83.7 131.0h1.1M91.8 128.0h1.1M64.0 137.4h1.1M104.2 139.1h1.1M67.6 147.1h1.1M112.7 129.9h1.1M78.3 149.5h1.1M61.9 151.4h1.1M62.6 128.1h1.1M95.7 121.4h1.1M86.6 136.6h1.1M67.8 134.9h1.1M92.8 142.8h1.1M70.8 128.0h1.1M62.0 137.1h1.1M82.7 124.8h1.1M111.6 100.7h1.1M100.9 117.0h1.1M86.4 105.0h1.1M99.6 108.6h1.1M79.0 113.0h1.1M99.2 100.8h1.1M108.1 117.8h1.1M102.0 96.7h1.1M96.7 92.4h1.1M90.3 103.4h1.1M88.9 98.0h1.1M98.8 81.9h1.1M109.1 74.8h1.1M104.5 105.6h1.1M101.8 103.6h1.1M95.9 76.6h1.1M109.1 93.0h1.1M104.1 93.1h1.1M108.9 75.3h1.1M100.7 78.0h1.1M111.0 100.9h1.1M85.1 89.9h1.1M104.1 86.4h1.1M99.4 90.0h1.1M100.8 87.5h1.1M103.5 96.2h1.1M103.7 85.1h1.1M94.6 98.4h1.1M97.5 97.1h1.1M101.9 89.7h1.1M103.0 89.9h1.1M91.8 89.1h1.1M100.1 100.7h1.1M104.6 90.5h1.1M95.0 96.0h1.1M105.4 102.3h1.1M111.7 89.2h1.1M89.6 95.3h1.1M111.9 103.8h1.1M85.6 95.5h1.1M84.5 106.4h1.1M104.2 95.7h1.1M102.6 93.8h1.1M103.0 79.5h1.1M95.4 102.9h1.1M115.5 84.9h1.1M104.9 108.7h1.1M105.7 93.0h1.1M91.2 104.9h1.1M90.8 102.0h1.1M97.6 86.1h1.1M112.1 113.9h1.1M102.2 76.9h1.1M96.7 95.8h1.1M114.7 103.8h1.1M110.1 88.8h1.1M105.3 96.9h1.1M85.5 99.1h1.1M109.6 106.8h1.1M94.4 86.0h1.1M80.2 96.1h1.1M120.3 73.0h1.1M107.8 93.4h1.1M107.7 67.8h1.1M104.5 109.3h1.1M125.5 101.2h1.1M104.0 96.2h1.1M102.2 117.4h1.1M92.5 84.4h1.1M130.1 119.1h1.1M111.9 109.9h1.1M105.1 103.6h1.1M134.3 97.7h1.1M91.5 90.7h1.1M98.2 84.5h1.1M107.3 97.2h1.1M85.7 101.1h1.1M102.3 88.7h1.1M85.5 100.1h1.1M101.4 90.2h1.1M102.0 107.9h1.1M122.1 145.2h1.1M144.7 99.8h1.1M109.6 99.6h1.1M104.4 142.3h1.1M155.5 81.2h1.1" stroke="#30288e" stroke-opacity="0.5" stroke-width="1.1" fill="none"/>
<line x1="52.7" y1="50.3" x2="162.5" y2="50.3" stroke="#b5b5b5" stroke-width="1"/>
<line x1="162.5" y1="50.3" x2="162.5" y2="159.8" stroke="#b5b5b5" stroke-width="1"/>
<line x1="52.7" y1="50.3" x2="52.7" y2="159.8" stroke="#555" stroke-width="1"/>
<line x1="52.7" y1="159.8" x2="162.5" y2="159.8" stroke="#555" stroke-width="1"/>
<line x1="101.4" y1="50.3" x2="101.4" y2="159.8" stroke="#4a74c4" stroke-width="1.1"/>
<line x1="53.2" y1="113.4" x2="162.5" y2="111.9" stroke="#4a74c4" stroke-width="1.1"/>
<line x1="51.2" y1="114.41" x2="52.7" y2="114.41" stroke="#555" stroke-width="0.8"/>
<line x1="51.2" y1="107.63" x2="52.7" y2="107.63" stroke="#555" stroke-width="0.8"/>
<line x1="51.2" y1="102.82" x2="52.7" y2="102.82" stroke="#555" stroke-width="0.8"/>
<line x1="51.2" y1="99.09" x2="52.7" y2="99.09" stroke="#555" stroke-width="0.8"/>
<line x1="51.2" y1="96.04" x2="52.7" y2="96.04" stroke="#555" stroke-width="0.8"/>
<line x1="51.2" y1="93.46" x2="52.7" y2="93.46" stroke="#555" stroke-width="0.8"/>
<line x1="51.2" y1="91.23" x2="52.7" y2="91.23" stroke="#555" stroke-width="0.8"/>
<line x1="51.2" y1="89.26" x2="52.7" y2="89.26" stroke="#555" stroke-width="0.8"/>
<line x1="51.2" y1="76.3" x2="52.7" y2="76.3" stroke="#555" stroke-width="0.8"/>
<line x1="51.2" y1="69.75" x2="52.7" y2="69.75" stroke="#555" stroke-width="0.8"/>
<line x1="51.2" y1="65.1" x2="52.7" y2="65.1" stroke="#555" stroke-width="0.8"/>
<line x1="51.2" y1="61.5" x2="52.7" y2="61.5" stroke="#555" stroke-width="0.8"/>
<line x1="51.2" y1="58.55" x2="52.7" y2="58.55" stroke="#555" stroke-width="0.8"/>
<line x1="51.2" y1="56.06" x2="52.7" y2="56.06" stroke="#555" stroke-width="0.8"/>
<line x1="51.2" y1="53.91" x2="52.7" y2="53.91" stroke="#555" stroke-width="0.8"/>
<line x1="51.2" y1="52" x2="52.7" y2="52" stroke="#555" stroke-width="0.8"/>
<line x1="49.9" y1="50.3" x2="52.7" y2="50.3" stroke="#555" stroke-width="1"/>
<line x1="49.9" y1="87.5" x2="52.7" y2="87.5" stroke="#555" stroke-width="1"/>
<line x1="49.9" y1="126" x2="52.7" y2="126" stroke="#555" stroke-width="1"/>
<line x1="49.9" y1="145" x2="52.7" y2="145" stroke="#555" stroke-width="1"/>
<line x1="51.2" y1="132" x2="52.7" y2="132" stroke="#555" stroke-width="0.8"/>
<line x1="51.2" y1="137" x2="52.7" y2="137" stroke="#555" stroke-width="0.8"/>
<line x1="51.2" y1="141" x2="52.7" y2="141" stroke="#555" stroke-width="0.8"/>
<line x1="51.2" y1="149" x2="52.7" y2="149" stroke="#555" stroke-width="0.8"/>
<line x1="51.2" y1="153" x2="52.7" y2="153" stroke="#555" stroke-width="0.8"/>
<line x1="51.2" y1="157" x2="52.7" y2="157" stroke="#555" stroke-width="0.8"/>
<line x1="108.26" y1="159.8" x2="108.26" y2="161.3" stroke="#555" stroke-width="0.8"/>
<line x1="115.2" y1="159.8" x2="115.2" y2="161.3" stroke="#555" stroke-width="0.8"/>
<line x1="120.12" y1="159.8" x2="120.12" y2="161.3" stroke="#555" stroke-width="0.8"/>
<line x1="123.94" y1="159.8" x2="123.94" y2="161.3" stroke="#555" stroke-width="0.8"/>
<line x1="127.06" y1="159.8" x2="127.06" y2="161.3" stroke="#555" stroke-width="0.8"/>
<line x1="129.7" y1="159.8" x2="129.7" y2="161.3" stroke="#555" stroke-width="0.8"/>
<line x1="131.98" y1="159.8" x2="131.98" y2="161.3" stroke="#555" stroke-width="0.8"/>
<line x1="134" y1="159.8" x2="134" y2="161.3" stroke="#555" stroke-width="0.8"/>
<line x1="72" y1="159.8" x2="72" y2="162.6" stroke="#555" stroke-width="1"/>
<line x1="96.4" y1="159.8" x2="96.4" y2="162.6" stroke="#555" stroke-width="1"/>
<line x1="135.8" y1="159.8" x2="135.8" y2="162.6" stroke="#555" stroke-width="1"/>
<line x1="80.6" y1="159.8" x2="80.6" y2="161.3" stroke="#555" stroke-width="0.8"/>
<line x1="82.9" y1="159.8" x2="82.9" y2="161.3" stroke="#555" stroke-width="0.8"/>
<line x1="85.8" y1="159.8" x2="85.8" y2="161.3" stroke="#555" stroke-width="0.8"/>
<line x1="88.7" y1="159.8" x2="88.7" y2="161.3" stroke="#555" stroke-width="0.8"/>
<line x1="91.5" y1="159.8" x2="91.5" y2="161.3" stroke="#555" stroke-width="0.8"/>
<line x1="94.1" y1="159.8" x2="94.1" y2="161.3" stroke="#555" stroke-width="0.8"/>
<line x1="60" y1="159.8" x2="60" y2="161.3" stroke="#555" stroke-width="0.8"/>
<line x1="63" y1="159.8" x2="63" y2="161.3" stroke="#555" stroke-width="0.8"/>
<line x1="66" y1="159.8" x2="66" y2="161.3" stroke="#555" stroke-width="0.8"/>
<line x1="69" y1="159.8" x2="69" y2="161.3" stroke="#555" stroke-width="0.8"/>
<line x1="76" y1="159.8" x2="76" y2="161.3" stroke="#555" stroke-width="0.8"/>
<rect x="51.6" y="143.2" width="2" height="4.4" fill="#111"/>
<rect x="65.6" y="159.2" width="7.9" height="2" fill="#111"/>
<text x="35.6" y="54.4" font-size="10.6" fill="#1a1a1a" text-anchor="middle" textLength="10" lengthAdjust="spacingAndGlyphs">10</text>
<text x="42.8" y="49.7" font-size="7.2" fill="#1a1a1a" text-anchor="middle" textLength="3.6" lengthAdjust="spacingAndGlyphs">4</text>
<text x="35.6" y="91" font-size="10.6" fill="#1a1a1a" text-anchor="middle" textLength="10" lengthAdjust="spacingAndGlyphs">10</text>
<text x="42.8" y="86.3" font-size="7.2" fill="#1a1a1a" text-anchor="middle" textLength="3.6" lengthAdjust="spacingAndGlyphs">3</text>
<text x="35.6" y="129.6" font-size="10.6" fill="#1a1a1a" text-anchor="middle" textLength="10" lengthAdjust="spacingAndGlyphs">10</text>
<text x="42.8" y="124.9" font-size="7.2" fill="#1a1a1a" text-anchor="middle" textLength="3.6" lengthAdjust="spacingAndGlyphs">2</text>
<text x="42" y="147.8" font-size="11.2" fill="#1a1a1a" text-anchor="middle" textLength="5.8" lengthAdjust="spacingAndGlyphs">0</text>
<text x="72" y="175.6" font-size="11.2" fill="#1a1a1a" text-anchor="middle" textLength="5.8" lengthAdjust="spacingAndGlyphs">0</text>
<text x="94.2" y="175.6" font-size="10.6" fill="#1a1a1a" text-anchor="middle" textLength="10" lengthAdjust="spacingAndGlyphs">10</text>
<text x="101.4" y="170.9" font-size="7.2" fill="#1a1a1a" text-anchor="middle" textLength="3.6" lengthAdjust="spacingAndGlyphs">2</text>
<text x="133.6" y="175.6" font-size="10.6" fill="#1a1a1a" text-anchor="middle" textLength="10" lengthAdjust="spacingAndGlyphs">10</text>
<text x="140.8" y="170.9" font-size="7.2" fill="#1a1a1a" text-anchor="middle" textLength="3.6" lengthAdjust="spacingAndGlyphs">3</text>
<text x="81.45" y="71.7" font-size="12" fill="#1a1a1a" text-anchor="middle" textLength="22.5" lengthAdjust="spacingAndGlyphs">6.4%</text>
<text x="147.9" y="71.8" font-size="12" fill="#1a1a1a" text-anchor="middle" textLength="22.6" lengthAdjust="spacingAndGlyphs">2.9%</text>
<text x="84.05" y="156.9" font-size="12" fill="#1a1a1a" text-anchor="middle" textLength="27.5" lengthAdjust="spacingAndGlyphs">90.8%</text>
<text x="147.95" y="151" font-size="12" fill="#1a1a1a" text-anchor="middle" textLength="23.1" lengthAdjust="spacingAndGlyphs">0.9%</text>
<text transform="translate(22.6 149.85) rotate(-90)" x="0" y="0" font-size="14.2" fill="#1a1a1a" text-anchor="middle" textLength="24.9" lengthAdjust="spacingAndGlyphs">CD27</text>
<path d="M18 105.6L23 117.3L18 115.3L13 117.3Z" fill="#5b9fdc"/>
<line x1="18" y1="115.5" x2="18" y2="132" stroke="#5b9fdc" stroke-width="2"/>
<text x="61.35" y="194.1" font-size="13.2" fill="#1a1a1a" text-anchor="middle" textLength="23.2" lengthAdjust="spacingAndGlyphs">HO-1</text>
<path d="M105.6 189.8L93.8 184.8L95.8 189.8L93.8 194.8Z" fill="#5b9fdc"/>
<line x1="78.6" y1="189.8" x2="95.6" y2="189.8" stroke="#5b9fdc" stroke-width="2"/>
<path d="M271.5 141.5L270.5 141.6L269.5 141.7L268.5 141.8L267.5 141.8L266.5 141.8L265.5 141.7L264.5 141.6L263.8 141.5L263.0 141.4L262.0 141.3L261.0 141.1L260.5 141.0L259.5 140.8L258.5 140.5L258.0 140.4L257.0 140.1L256.5 139.9L255.6 139.5L255.0 139.2L254.5 139.0L253.7 138.5L253.0 138.1L252.5 137.7L252.0 137.3L251.5 136.9L251.0 136.4L250.5 135.8L250.0 135.0L249.7 134.5L249.5 133.9L249.3 133.0L249.1 132.0L249.1 131.0L249.2 130.0L249.4 129.0L249.6 128.5L250.0 127.5L250.2 127.0L250.8 126.0L251.1 125.5L251.5 125.0L252.0 124.4L252.5 123.9L253.0 123.4L253.5 123.0L254.2 122.5L254.9 122.0L255.5 121.6L256.0 121.2L256.5 120.9L257.0 120.5L257.6 120.0L258.4 119.5L259.0 119.1L259.5 118.8L260.1 118.5L261.0 118.0L261.5 117.7L262.0 117.4L262.5 117.0L263.2 116.5L263.9 116.0L264.5 115.6L265.0 115.2L265.5 115.0L266.3 114.5L267.0 114.1L267.5 113.8L268.0 113.5L268.8 113.0L269.5 112.6L270.0 112.3L270.5 112.0L271.2 111.5L271.9 111.0L272.5 110.5L273.0 110.1L273.5 109.7L274.0 109.2L274.5 108.8L275.0 108.4L275.5 108.0L276.1 107.5L276.8 107.0L277.5 106.5L278.0 106.1L278.5 105.7L279.0 105.3L279.5 104.9L280.0 104.5L280.6 104.0L281.2 103.5L281.8 103.0L282.3 102.5L282.8 102.0L283.2 101.5L283.5 100.9L283.7 100.0L283.5 99.5L283.0 99.0L282.3 98.5L281.5 98.0L281.0 97.8L280.5 97.5L279.5 97.0L279.0 96.7L278.5 96.4L278.0 96.0L277.5 95.5L277.0 94.9L276.5 94.0L276.3 93.5L276.0 92.6L275.9 92.0L275.8 91.0L275.8 90.0L275.9 89.0L276.0 88.5L276.3 87.5L276.5 86.9L276.8 86.0L277.0 85.5L277.5 84.5L277.8 84.0L278.1 83.5L278.5 82.9L279.0 82.2L279.5 81.6L280.0 81.0L280.5 80.5L281.0 80.0L281.5 79.5L282.0 79.1L282.5 78.6L283.0 78.2L283.5 77.8L284.0 77.3L284.5 77.0L285.2 76.5L286.0 76.0L286.5 75.7L287.0 75.4L287.9 75.0L288.5 74.7L289.0 74.5L290.0 74.1L290.5 73.9L291.5 73.6L292.0 73.4L293.0 73.2L294.0 73.0L294.5 73.0L295.5 72.8L296.5 72.8L297.5 72.8L298.5 72.9L299.0 73.0L300.0 73.3L300.7 73.5L301.5 73.9L302.0 74.2L302.5 74.6L303.0 75.0L303.5 75.6L304.0 76.3L304.4 77.0L304.6 77.5L305.0 78.5L305.1 79.0L305.3 80.0L305.3 81.0L305.2 82.0L305.0 83.0L304.9 83.5L304.6 84.5L304.4 85.0L304.0 86.0L303.8 86.5L303.5 87.4L303.3 88.0L303.0 89.0L303.0 89.5L303.0 90.0L303.5 90.8L304.0 91.2L304.6 91.5L305.5 91.9L306.0 92.1L306.7 92.5L307.5 92.9L308.0 93.2L308.6 93.5L309.4 94.0L310.0 94.4L310.5 94.9L311.0 95.4L311.4 96.0L311.7 96.5L312.0 97.1L312.4 98.0L312.5 98.5L312.7 99.5L312.8 100.5L312.9 101.5L312.9 102.5L312.8 103.5L312.8 104.5L312.7 105.5L312.5 106.5L312.4 107.0L312.2 108.0L312.0 108.9L311.9 109.5L311.6 110.5L311.4 111.0L311.0 112.0L310.8 112.5L310.5 113.3L310.2 114.0L310.0 114.5L309.5 115.5L309.2 116.0L309.0 116.5L308.5 117.4L308.2 118.0L307.9 118.5L307.5 119.1L307.0 120.0L306.7 120.5L306.4 121.0L306.0 121.6L305.5 122.3L305.0 122.9L304.6 123.5L304.2 124.0L303.7 124.5L303.3 125.0L302.9 125.5L302.5 126.0L302.0 126.5L301.5 127.1L301.0 127.7L300.5 128.2L300.0 128.7L299.5 129.2L299.0 129.6L298.5 130.0L297.9 130.5L297.3 131.0L296.6 131.5L296.0 132.0L295.5 132.3L295.0 132.7L294.5 133.0L293.8 133.5L293.0 134.0L292.5 134.3L292.0 134.6L291.1 135.0L290.5 135.3L290.0 135.5L289.0 136.0L288.5 136.2L287.8 136.5L287.0 136.9L286.5 137.2L286.0 137.5L285.0 138.0L284.5 138.2L283.6 138.5L283.0 138.7L282.0 139.0L281.5 139.2L280.5 139.5L280.0 139.6L279.0 139.9L278.5 140.1L277.5 140.4L276.9 140.5L276.0 140.7L275.0 141.0L274.5 141.1L273.5 141.2L272.5 141.4L271.6 141.5Z" fill="#fafafa"/>
<path d="M272.5 139.1L271.5 139.2L270.5 139.3L269.5 139.4L268.5 139.5L267.5 139.5L266.5 139.5L265.5 139.5L264.5 139.4L263.5 139.3L262.5 139.1L261.9 139.0L261.0 138.8L260.0 138.6L259.5 138.4L258.5 138.1L258.0 138.0L257.0 137.5L256.5 137.3L255.5 136.7L255.0 136.3L254.5 136.0L254.0 135.5L253.5 135.0L253.0 134.4L252.5 133.5L252.3 133.0L252.0 132.1L251.9 131.5L251.9 130.5L252.0 129.5L252.1 129.0L252.5 128.0L252.8 127.5L253.0 127.0L253.5 126.3L254.0 125.7L254.5 125.3L255.0 124.8L255.5 124.4L256.1 124.0L256.7 123.5L257.4 123.0L258.0 122.5L258.5 122.1L259.0 121.7L259.5 121.4L260.2 121.0L261.0 120.5L261.5 120.3L262.0 120.0L262.9 119.5L263.5 119.1L264.0 118.8L264.5 118.4L265.1 118.0L265.9 117.5L266.5 117.1L267.0 116.8L267.5 116.5L268.4 116.0L269.0 115.7L269.5 115.4L270.2 115.0L271.0 114.6L271.5 114.3L272.0 114.0L272.8 113.5L273.5 113.0L274.0 112.7L274.5 112.3L275.0 111.8L275.5 111.4L276.0 110.9L276.5 110.4L277.0 109.9L277.5 109.5L278.1 109.0L278.7 108.5L279.3 108.0L279.9 107.5L280.5 107.0L281.0 106.6L281.5 106.3L282.0 105.9L282.6 105.5L283.3 105.0L284.0 104.5L284.5 104.2L285.0 103.8L285.5 103.5L286.3 103.0L287.0 102.5L287.5 102.2L288.0 101.8L288.5 101.4L289.0 100.9L289.5 100.5L290.0 100.0L290.5 99.5L291.0 99.0L291.6 98.5L292.1 98.0L292.6 97.5L293.0 96.8L293.0 96.5L292.0 96.5L291.5 96.5L290.5 96.5L289.8 96.5L289.0 96.4L288.0 96.3L287.0 96.2L286.0 96.2L285.0 96.1L284.5 96.0L283.5 95.8L282.8 95.5L282.0 95.1L281.5 94.9L280.8 94.5L280.1 94.0L279.6 93.5L279.2 93.0L278.9 92.5L278.6 91.5L278.5 91.0L278.4 90.0L278.4 89.0L278.5 88.1L278.6 87.5L278.8 86.5L279.0 86.0L279.4 85.0L279.7 84.5L280.0 84.0L280.5 83.4L281.0 82.8L281.5 82.2L282.0 81.7L282.5 81.2L283.0 80.7L283.5 80.2L284.0 79.7L284.5 79.2L285.0 78.8L285.5 78.4L286.0 78.0L286.8 77.5L287.5 77.1L288.0 76.9L288.9 76.5L289.5 76.2L290.2 76.0L291.0 75.7L291.7 75.5L292.5 75.3L293.5 75.1L294.4 75.0L295.0 74.9L296.0 74.9L297.0 74.9L297.5 75.0L298.5 75.3L299.1 75.5L299.9 76.0L300.5 76.4L301.0 76.9L301.5 77.5L301.8 78.0L302.1 78.5L302.5 79.3L302.7 80.0L302.9 81.0L302.9 82.0L302.7 83.0L302.5 83.8L302.3 84.5L302.0 85.2L301.7 86.0L301.4 86.5L301.0 87.3L300.6 88.0L300.3 88.5L300.0 89.0L299.5 89.7L299.0 90.5L298.7 91.0L298.4 91.5L298.0 92.3L297.6 93.0L297.5 93.5L298.0 93.9L299.0 93.9L300.0 93.9L301.0 93.9L302.0 94.0L302.5 94.0L303.5 94.2L304.5 94.4L305.0 94.6L306.0 95.0L306.5 95.3L307.0 95.6L307.6 96.0L308.2 96.5L308.7 97.0L309.1 97.5L309.5 98.2L309.9 99.0L310.0 99.5L310.3 100.5L310.5 101.5L310.5 102.0L310.6 103.0L310.6 104.0L310.6 105.0L310.5 105.5L310.2 106.5L310.0 107.2L309.7 108.0L309.5 108.5L309.1 109.5L308.9 110.0L308.6 111.0L308.4 111.5L308.0 112.5L307.8 113.0L307.5 113.6L307.1 114.5L306.9 115.0L306.5 115.8L306.2 116.5L305.9 117.0L305.5 117.8L305.1 118.5L304.8 119.0L304.5 119.5L304.0 120.1L303.5 120.8L303.0 121.4L302.5 122.0L302.2 122.5L301.8 123.0L301.4 123.5L301.0 124.0L300.5 124.6L300.0 125.2L299.5 125.8L299.0 126.4L298.5 126.9L298.0 127.3L297.5 127.8L297.0 128.1L296.5 128.5L295.8 129.0L295.1 129.5L294.5 129.9L294.0 130.2L293.5 130.6L293.0 131.0L292.3 131.5L291.6 132.0L291.0 132.4L290.5 132.7L290.0 133.0L289.0 133.5L288.5 133.7L287.7 134.0L287.0 134.3L286.5 134.5L285.5 135.0L285.0 135.2L284.4 135.5L283.5 135.9L283.0 136.1L282.0 136.4L281.5 136.6L280.5 136.9L280.0 137.1L279.0 137.4L278.5 137.5L277.5 137.8L276.9 138.0L276.0 138.3L275.2 138.5L274.5 138.7L273.5 138.9L272.9 139.0Z" fill="#f4f4f4"/>
<path d="M291.0 94.5L290.0 94.7L289.0 94.8L288.0 94.8L287.0 94.8L286.0 94.8L285.0 94.7L284.3 94.5L283.5 94.2L283.0 94.0L282.2 93.5L281.5 93.0L281.0 92.5L280.5 92.0L280.2 91.5L280.0 90.9L279.8 90.0L279.7 89.0L279.7 88.0L279.9 87.0L280.0 86.5L280.4 85.5L280.7 85.0L281.0 84.5L281.5 83.8L282.0 83.2L282.5 82.7L283.0 82.1L283.5 81.6L284.0 81.1L284.5 80.6L285.0 80.1L285.5 79.6L286.0 79.2L286.5 78.9L287.1 78.5L288.0 78.0L288.5 77.8L289.1 77.5L290.0 77.2L290.5 77.0L291.5 76.7L292.3 76.5L293.0 76.4L294.0 76.2L295.0 76.1L296.0 76.1L297.0 76.2L297.9 76.5L298.5 76.8L299.0 77.1L299.5 77.5L300.0 78.1L300.5 78.8L300.9 79.5L301.1 80.0L301.4 81.0L301.4 82.0L301.3 83.0L301.1 84.0L300.9 84.5L300.5 85.5L300.3 86.0L300.0 86.5L299.5 87.3L299.1 88.0L298.7 88.5L298.4 89.0L298.0 89.5L297.5 90.1L297.0 90.7L296.5 91.2L296.0 91.7L295.5 92.1L294.9 92.5L294.0 93.0L293.5 93.3L293.0 93.6L292.3 94.0L291.5 94.3L291.0 94.5ZM270.0 138.0L269.0 138.1L268.0 138.2L267.0 138.2L266.0 138.1L265.0 138.1L264.3 138.0L263.5 137.9L262.5 137.7L261.6 137.5L261.0 137.4L260.0 137.1L259.5 136.9L258.5 136.6L258.0 136.3L257.4 136.0L256.6 135.5L256.0 135.1L255.5 134.6L255.0 134.1L254.5 133.5L254.3 133.0L254.0 132.4L253.8 131.5L253.7 130.5L253.9 129.5L254.1 129.0L254.5 128.1L254.9 127.5L255.2 127.0L255.7 126.5L256.2 126.0L256.7 125.5L257.3 125.0L257.9 124.5L258.4 124.0L259.0 123.5L259.5 123.1L260.0 122.7L260.5 122.4L261.1 122.0L262.0 121.5L262.5 121.2L263.0 120.9L263.7 120.5L264.5 120.0L265.0 119.7L265.5 119.4L266.1 119.0L266.9 118.5L267.5 118.2L268.0 117.9L268.6 117.5L269.5 117.0L270.0 116.7L270.5 116.5L271.4 116.0L272.0 115.6L272.5 115.3L273.0 115.0L273.8 114.5L274.5 114.0L275.0 113.7L275.5 113.3L276.0 112.9L276.5 112.4L277.0 111.9L277.5 111.3L278.0 110.8L278.5 110.4L279.0 109.9L279.5 109.5L280.1 109.0L280.7 108.5L281.3 108.0L282.0 107.5L282.5 107.2L283.0 106.8L283.5 106.5L284.2 106.0L284.9 105.5L285.5 105.1L286.0 104.8L286.6 104.5L287.5 104.0L288.0 103.7L288.5 103.5L289.2 103.0L289.9 102.5L290.5 102.0L291.0 101.7L291.5 101.3L292.0 100.9L292.6 100.5L293.3 100.0L294.0 99.5L294.5 99.2L295.0 98.8L295.5 98.3L296.0 97.9L296.6 97.5L297.4 97.0L298.0 96.7L298.5 96.4L299.5 96.0L300.0 95.9L301.0 95.7L302.0 95.7L303.0 95.7L304.0 95.9L304.5 96.1L305.5 96.5L306.0 96.8L306.5 97.1L307.0 97.5L307.5 98.0L308.0 98.7L308.4 99.5L308.6 100.0L308.9 101.0L309.0 101.6L309.2 102.5L309.3 103.5L309.3 104.5L309.1 105.5L309.0 106.0L308.6 107.0L308.3 107.5L308.0 108.2L307.7 109.0L307.4 109.5L307.1 110.5L306.9 111.0L306.5 112.0L306.3 112.5L306.0 113.3L305.7 114.0L305.4 114.5L305.0 115.5L304.8 116.0L304.5 116.6L304.1 117.5L303.8 118.0L303.5 118.5L303.0 119.3L302.5 119.9L302.1 120.5L301.7 121.0L301.3 121.5L300.9 122.0L300.5 122.6L300.0 123.2L299.5 123.8L299.0 124.4L298.5 125.0L298.0 125.5L297.5 126.0L296.9 126.5L296.3 127.0L295.6 127.5L295.0 127.9L294.5 128.3L294.0 128.6L293.4 129.0L292.6 129.5L292.0 130.0L291.5 130.4L291.0 130.8L290.5 131.2L290.0 131.5L289.1 132.0L288.5 132.3L287.9 132.5L287.0 132.9L286.5 133.1L285.5 133.5L285.0 133.7L284.2 134.0L283.5 134.3L282.9 134.5L282.0 134.8L281.5 135.0L280.5 135.4L280.0 135.6L279.0 135.9L278.5 136.0L277.5 136.3L277.0 136.5L276.0 136.8L275.5 137.0L274.5 137.3L273.7 137.5L273.0 137.7L272.0 137.8L271.0 137.9L270.5 138.0Z" fill="#eeeeee"/>
<path d="M290.0 93.5L289.0 93.7L288.0 93.7L287.0 93.7L286.0 93.7L285.0 93.5L284.5 93.4L283.7 93.0L283.0 92.6L282.5 92.2L282.0 91.7L281.5 91.1L281.2 90.5L281.0 90.0L280.8 89.0L280.7 88.0L280.9 87.0L281.0 86.5L281.5 85.5L281.8 85.0L282.1 84.5L282.5 84.0L283.0 83.4L283.5 82.8L284.0 82.2L284.5 81.7L285.0 81.2L285.5 80.7L286.0 80.3L286.5 79.9L287.1 79.5L287.9 79.0L288.5 78.7L289.0 78.5L290.0 78.1L290.5 77.9L291.5 77.6L292.0 77.5L293.0 77.3L294.0 77.2L295.0 77.2L296.0 77.2L297.0 77.4L297.5 77.6L298.1 78.0L298.7 78.5L299.1 79.0L299.5 79.5L299.9 80.5L300.1 81.0L300.2 82.0L300.2 83.0L300.0 83.8L299.8 84.5L299.5 85.2L299.1 86.0L298.8 86.5L298.2 87.5L297.9 88.0L297.5 88.5L297.0 89.2L296.5 89.7L296.0 90.3L295.5 90.7L295.0 91.1L294.5 91.5L293.6 92.0L293.0 92.4L292.5 92.6L291.7 93.0L291.0 93.3L290.2 93.5ZM268.5 137.0L267.5 137.0L266.7 137.0L266.0 137.0L265.0 136.9L264.0 136.7L263.0 136.5L262.5 136.4L261.5 136.2L260.9 136.0L260.0 135.7L259.4 135.5L258.5 135.1L258.0 134.8L257.5 134.4L257.0 134.0L256.5 133.5L256.0 132.8L255.7 132.0L255.6 131.0L255.7 130.0L256.0 129.3L256.4 128.5L256.7 128.0L257.1 127.5L257.5 127.0L258.0 126.4L258.5 125.9L259.0 125.3L259.5 124.8L260.0 124.3L260.5 123.8L261.0 123.4L261.7 123.0L262.5 122.5L263.0 122.2L263.5 121.9L264.2 121.5L265.0 121.0L265.5 120.7L266.0 120.4L266.8 120.0L267.5 119.6L268.0 119.3L268.5 119.0L269.3 118.5L270.0 118.1L270.5 117.8L271.0 117.5L271.9 117.0L272.5 116.7L273.0 116.4L273.6 116.0L274.5 115.5L275.0 115.1L275.5 114.8L276.0 114.4L276.5 114.0L277.0 113.5L277.6 113.0L278.0 112.5L278.5 112.0L279.0 111.5L279.5 111.0L280.1 110.5L280.6 110.0L281.2 109.5L281.9 109.0L282.5 108.5L283.0 108.2L283.5 107.9L284.0 107.5L284.7 107.0L285.5 106.5L286.0 106.2L286.5 105.9L287.2 105.5L288.0 105.1L288.5 104.8L289.1 104.5L290.0 104.0L290.5 103.6L291.0 103.3L291.5 103.0L292.2 102.5L292.9 102.0L293.5 101.6L294.0 101.3L294.5 100.9L295.1 100.5L295.7 100.0L296.3 99.5L296.9 99.0L297.5 98.6L298.0 98.3L298.5 98.0L299.5 97.6L300.0 97.4L301.0 97.2L302.0 97.1L303.0 97.2L304.0 97.5L304.5 97.7L305.2 98.0L306.0 98.5L306.5 99.0L306.9 99.5L307.2 100.0L307.5 100.9L307.7 101.5L307.9 102.5L308.0 103.3L308.0 104.0L308.0 104.5L307.8 105.5L307.5 106.2L307.1 107.0L306.9 107.5L306.5 108.5L306.3 109.0L306.0 109.9L305.8 110.5L305.5 111.3L305.2 112.0L305.0 112.5L304.5 113.5L304.3 114.0L304.0 114.7L303.7 115.5L303.5 116.0L303.0 117.0L302.8 117.5L302.5 118.0L302.0 118.8L301.5 119.5L301.2 120.0L300.8 120.5L300.4 121.0L300.0 121.6L299.5 122.2L299.0 122.9L298.5 123.4L298.0 124.0L297.5 124.5L297.0 125.0L296.5 125.4L296.0 125.8L295.5 126.2L295.0 126.6L294.5 127.0L293.7 127.5L293.0 128.0L292.5 128.3L292.0 128.6L291.4 129.0L290.8 129.5L290.1 130.0L289.5 130.4L289.0 130.7L288.5 131.0L287.5 131.4L287.0 131.6L286.1 132.0L285.5 132.3L284.9 132.5L284.0 132.8L283.5 133.0L282.5 133.4L282.0 133.6L281.0 133.9L280.5 134.1L279.5 134.5L279.0 134.6L278.0 134.9L277.5 135.1L276.5 135.4L276.0 135.6L275.0 136.0L274.5 136.1L273.5 136.4L273.0 136.5L272.0 136.7L271.0 136.8L270.0 136.9L269.0 137.0L268.5 137.0Z" fill="#e8e8e8"/>
<path d="M290.0 92.6L289.0 92.7L288.0 92.8L287.0 92.8L286.0 92.8L285.0 92.5L284.5 92.3L283.9 92.0L283.3 91.5L282.8 91.0L282.4 90.5L282.0 89.8L281.7 89.0L281.6 88.0L281.7 87.0L282.0 86.3L282.4 85.5L282.7 85.0L283.1 84.5L283.5 83.9L284.0 83.3L284.5 82.7L285.0 82.2L285.5 81.7L286.0 81.2L286.5 80.8L287.0 80.4L287.6 80.0L288.5 79.5L289.0 79.3L289.6 79.0L290.5 78.7L291.0 78.5L292.0 78.3L293.0 78.1L294.0 78.0L295.0 78.1L296.0 78.2L296.9 78.5L297.5 78.8L298.0 79.3L298.5 79.9L298.8 80.5L299.0 81.1L299.2 82.0L299.2 83.0L299.0 83.9L298.8 84.5L298.5 85.2L298.1 86.0L297.8 86.5L297.5 87.0L297.0 87.8L296.5 88.5L296.1 89.0L295.7 89.5L295.1 90.0L294.5 90.5L294.0 90.8L293.5 91.1L292.8 91.5L292.0 91.9L291.5 92.1L290.5 92.4L290.0 92.6ZM273.0 135.5L272.0 135.7L271.0 135.9L270.0 136.0L269.0 136.0L268.0 136.0L267.0 136.0L266.0 135.9L265.0 135.8L264.0 135.6L263.4 135.5L262.5 135.3L261.5 135.0L261.0 134.9L260.1 134.5L259.5 134.2L259.0 133.9L258.5 133.5L258.0 133.0L257.5 132.2L257.3 131.5L257.4 130.5L257.5 130.0L258.0 129.0L258.5 128.2L259.0 127.5L259.3 127.0L259.7 126.5L260.0 126.0L260.5 125.4L261.0 124.8L261.5 124.4L262.0 124.0L262.7 123.5L263.5 123.0L264.0 122.7L264.5 122.4L265.2 122.0L266.0 121.6L266.5 121.3L267.0 121.0L267.9 120.5L268.5 120.1L269.0 119.8L269.5 119.5L270.3 119.0L271.0 118.6L271.5 118.3L272.1 118.0L273.0 117.5L273.5 117.2L274.0 117.0L274.8 116.5L275.5 116.0L276.0 115.6L276.5 115.2L277.0 114.8L277.5 114.4L278.0 114.0L278.5 113.5L279.0 113.0L279.5 112.5L280.0 112.0L280.5 111.5L281.0 111.0L281.6 110.5L282.1 110.0L282.8 109.5L283.5 109.0L284.0 108.7L284.5 108.3L285.0 108.0L285.7 107.5L286.4 107.0L287.0 106.6L287.5 106.4L288.2 106.0L289.0 105.6L289.5 105.3L290.1 105.0L291.0 104.5L291.5 104.2L292.0 103.8L292.5 103.5L293.3 103.0L294.0 102.5L294.5 102.2L295.0 101.8L295.5 101.5L296.2 101.0L296.8 100.5L297.5 100.0L298.0 99.6L298.5 99.3L299.2 99.0L300.0 98.7L301.0 98.5L301.5 98.5L302.0 98.5L303.0 98.6L304.0 98.9L304.5 99.1L305.1 99.5L305.7 100.0L306.0 100.5L306.5 101.5L306.6 102.0L306.8 103.0L306.8 104.0L306.6 105.0L306.4 105.5L306.0 106.5L305.8 107.0L305.5 108.0L305.4 108.5L305.1 109.5L304.9 110.0L304.6 111.0L304.4 111.5L304.0 112.3L303.7 113.0L303.5 113.5L303.0 114.5L302.8 115.0L302.5 115.7L302.2 116.5L301.9 117.0L301.5 117.8L301.1 118.5L300.8 119.0L300.4 119.5L300.0 120.2L299.5 120.9L299.0 121.5L298.6 122.0L298.2 122.5L297.7 123.0L297.2 123.5L296.7 124.0L296.2 124.5L295.6 125.0L295.0 125.5L294.5 125.9L294.0 126.3L293.5 126.6L292.9 127.0L292.1 127.5L291.5 127.9L291.0 128.2L290.5 128.5L289.8 129.0L289.0 129.5L288.5 129.8L288.0 130.0L287.0 130.5L286.5 130.7L285.8 131.0L285.0 131.4L284.5 131.6L283.5 132.0L283.0 132.1L282.0 132.5L281.5 132.6L280.5 133.0L280.0 133.2L279.0 133.5L278.5 133.7L277.5 134.0L277.0 134.1L276.0 134.5L275.5 134.7L274.7 135.0L274.0 135.2L273.1 135.5Z" fill="#e2e2e2"/>
<path d="M287.0 92.0L286.5 92.0L285.5 91.8L284.9 91.5L284.1 91.0L283.6 90.5L283.2 90.0L282.9 89.5L282.5 88.5L282.5 88.0L282.5 87.5L282.7 86.5L283.0 85.9L283.5 85.1L283.9 84.5L284.3 84.0L284.7 83.5L285.1 83.0L285.6 82.5L286.1 82.0L286.6 81.5L287.3 81.0L288.0 80.5L288.5 80.3L289.0 80.0L290.0 79.5L290.5 79.4L291.5 79.1L292.0 78.9L293.0 78.8L294.0 78.8L295.0 78.9L295.6 79.0L296.5 79.4L297.0 79.7L297.5 80.3L297.9 81.0L298.1 81.5L298.3 82.5L298.2 83.5L298.0 84.2L297.7 85.0L297.5 85.5L297.0 86.4L296.7 87.0L296.4 87.5L296.0 88.0L295.5 88.6L295.0 89.2L294.5 89.6L294.0 90.0L293.1 90.5L292.5 90.8L292.0 91.0L291.0 91.4L290.5 91.5L289.5 91.8L288.5 91.9L287.5 92.0L287.0 92.0ZM270.5 135.0L269.5 135.1L268.5 135.1L267.5 135.0L266.5 134.9L265.5 134.8L264.5 134.7L263.6 134.5L263.0 134.4L262.0 134.1L261.5 133.9L260.7 133.5L260.0 133.0L259.5 132.5L259.2 132.0L259.0 131.0L259.2 130.0L259.5 129.3L259.9 128.5L260.1 128.0L260.5 127.3L261.0 126.5L261.4 126.0L261.8 125.5L262.3 125.0L262.9 124.5L263.5 124.1L264.0 123.8L264.5 123.4L265.2 123.0L266.0 122.6L266.5 122.3L267.0 122.0L267.9 121.5L268.5 121.1L269.0 120.8L269.5 120.5L270.3 120.0L271.0 119.6L271.5 119.3L272.0 119.0L273.0 118.5L273.5 118.3L274.0 118.0L274.9 117.5L275.5 117.1L276.0 116.8L276.5 116.4L277.0 115.9L277.5 115.5L278.1 115.0L278.7 114.5L279.3 114.0L279.8 113.5L280.3 113.0L280.8 112.5L281.3 112.0L281.8 111.5L282.3 111.0L282.9 110.5L283.5 110.0L284.0 109.6L284.5 109.3L285.0 109.0L285.7 108.5L286.4 108.0L287.0 107.6L287.5 107.3L288.0 107.0L289.0 106.5L289.5 106.2L290.0 106.0L290.8 105.5L291.5 105.1L292.0 104.8L292.5 104.5L293.3 104.0L294.0 103.5L294.5 103.2L295.0 102.9L295.5 102.5L296.3 102.0L297.0 101.5L297.5 101.2L298.0 100.9L298.6 100.5L299.5 100.1L300.0 99.9L301.0 99.7L302.0 99.7L303.0 99.9L303.5 100.1L304.3 100.5L304.8 101.0L305.2 101.5L305.5 102.4L305.6 103.0L305.5 104.0L305.4 104.5L305.1 105.5L304.9 106.0L304.7 107.0L304.5 108.0L304.4 108.5L304.2 109.5L304.0 110.0L303.6 111.0L303.4 111.5L303.0 112.5L302.8 113.0L302.5 113.6L302.1 114.5L301.9 115.0L301.5 115.8L301.2 116.5L300.9 117.0L300.5 117.8L300.1 118.5L299.8 119.0L299.5 119.5L299.0 120.3L298.5 121.0L298.1 121.5L297.6 122.0L297.1 122.5L296.6 123.0L296.0 123.5L295.5 124.0L295.0 124.5L294.5 124.9L294.0 125.3L293.5 125.7L293.0 126.1L292.3 126.5L291.5 127.0L291.0 127.3L290.5 127.5L289.7 128.0L289.0 128.4L288.5 128.7L287.9 129.0L287.0 129.4L286.5 129.6L285.7 130.0L285.0 130.3L284.5 130.6L283.5 131.0L283.0 131.2L282.0 131.5L281.5 131.7L280.5 132.0L280.0 132.1L279.0 132.5L278.5 132.6L277.5 132.9L277.0 133.1L276.0 133.5L275.5 133.7L274.6 134.0L274.0 134.2L273.2 134.5L272.5 134.7L271.5 134.9L270.9 135.0Z" fill="#dcdcdc"/>
<path d="M288.5 91.1L287.5 91.1L286.5 91.1L286.0 91.0L285.0 90.5L284.5 90.1L284.0 89.5L283.7 89.0L283.5 88.5L283.4 87.5L283.5 86.8L283.8 86.0L284.1 85.5L284.5 84.9L285.0 84.2L285.5 83.5L285.9 83.0L286.4 82.5L287.0 82.0L287.5 81.6L288.0 81.3L288.5 81.0L289.4 80.5L290.0 80.2L290.6 80.0L291.5 79.7L292.5 79.5L293.0 79.5L293.6 79.5L294.5 79.6L295.5 79.9L296.0 80.2L296.5 80.6L297.0 81.3L297.2 82.0L297.3 83.0L297.2 84.0L297.0 84.6L296.7 85.5L296.4 86.0L296.0 86.8L295.5 87.5L295.2 88.0L294.7 88.5L294.2 89.0L293.5 89.5L293.0 89.8L292.5 90.0L291.5 90.4L291.0 90.6L290.0 90.8L289.0 91.0L288.5 91.1ZM271.5 134.0L270.5 134.2L269.5 134.2L268.5 134.1L267.5 134.1L266.9 134.0L266.0 133.9L265.0 133.8L264.0 133.6L263.5 133.5L262.5 133.1L262.0 132.9L261.5 132.5L261.0 132.0L260.6 131.0L260.7 130.0L261.0 129.0L261.2 128.5L261.5 127.8L261.9 127.0L262.3 126.5L262.7 126.0L263.2 125.5L263.8 125.0L264.4 124.5L265.0 124.1L265.5 123.8L266.0 123.5L266.8 123.0L267.5 122.6L268.0 122.3L268.6 122.0L269.4 121.5L270.0 121.1L270.5 120.8L271.0 120.5L271.9 120.0L272.5 119.7L273.0 119.4L273.9 119.0L274.5 118.7L275.0 118.5L275.7 118.0L276.4 117.5L277.0 117.0L277.5 116.5L278.0 116.1L278.5 115.6L279.0 115.2L279.5 114.8L280.0 114.4L280.5 114.0L281.0 113.5L281.5 113.0L282.0 112.5L282.5 111.9L283.0 111.4L283.5 110.9L284.0 110.5L284.7 110.0L285.5 109.5L286.0 109.2L286.5 108.8L287.5 108.2L288.0 107.9L288.6 107.5L289.5 107.0L290.0 106.7L290.5 106.5L291.4 106.0L292.0 105.6L292.5 105.3L293.1 105.0L293.9 104.5L294.5 104.1L295.0 103.8L295.5 103.4L296.2 103.0L297.0 102.5L297.5 102.2L298.0 101.9L298.9 101.5L299.5 101.2L300.4 101.0L301.0 100.9L302.0 101.0L302.5 101.1L303.4 101.5L303.8 102.0L304.1 102.5L304.2 103.5L304.1 104.5L304.0 105.0L303.8 106.0L303.7 107.0L303.6 108.0L303.5 108.6L303.3 109.5L303.0 110.4L302.8 111.0L302.5 111.7L302.1 112.5L301.9 113.0L301.5 113.9L301.2 114.5L301.0 115.0L300.5 116.0L300.2 116.5L300.0 117.0L299.5 117.9L299.2 118.5L298.9 119.0L298.5 119.7L298.0 120.4L297.5 121.0L297.0 121.5L296.5 122.0L296.0 122.5L295.5 123.0L295.0 123.5L294.5 123.9L294.0 124.4L293.5 124.8L293.0 125.2L292.5 125.6L291.8 126.0L291.0 126.4L290.5 126.7L289.9 127.0L289.0 127.5L288.5 127.7L287.9 128.0L287.0 128.4L286.5 128.6L285.6 129.0L285.0 129.3L284.5 129.5L283.6 130.0L283.0 130.2L282.2 130.5L281.5 130.7L280.5 131.0L280.0 131.1L279.0 131.4L278.5 131.6L277.5 131.9L277.0 132.1L276.0 132.5L275.5 132.7L274.7 133.0L274.0 133.3L273.4 133.5L272.5 133.8L271.7 134.0Z" fill="#d7d7d7"/>
<path d="M290.0 90.0L289.0 90.1L288.0 90.2L287.0 90.2L286.2 90.0L285.5 89.6L285.0 89.2L284.5 88.5L284.4 88.0L284.3 87.0L284.5 86.4L284.9 85.5L285.2 85.0L285.5 84.5L286.0 83.8L286.5 83.2L287.0 82.8L287.5 82.3L288.0 82.0L288.8 81.5L289.5 81.1L290.0 80.9L290.9 80.5L291.5 80.3L292.5 80.2L293.5 80.2L294.5 80.4L295.0 80.6L295.6 81.0L296.0 81.5L296.4 82.5L296.4 83.5L296.2 84.5L296.0 85.2L295.7 86.0L295.4 86.5L295.0 87.1L294.5 87.8L294.0 88.3L293.5 88.7L293.0 89.0L292.0 89.5L291.5 89.6L290.5 89.9L290.0 90.0ZM272.0 133.1L271.0 133.3L270.0 133.3L269.0 133.3L268.0 133.2L267.0 133.1L266.0 133.0L265.5 133.0L264.5 132.8L263.7 132.5L263.0 132.1L262.5 131.7L262.0 131.0L261.9 130.5L262.0 129.5L262.1 129.0L262.5 128.0L262.8 127.5L263.1 127.0L264.0 126.0L264.5 125.5L265.0 125.1L265.5 124.7L266.0 124.4L266.6 124.0L267.4 123.5L268.0 123.2L268.5 122.9L269.2 122.5L270.0 122.0L270.5 121.7L271.0 121.3L271.6 121.0L272.5 120.5L273.0 120.3L273.6 120.0L274.5 119.6L275.0 119.4L275.7 119.0L276.4 118.5L277.0 118.0L277.5 117.5L278.0 117.0L278.5 116.5L279.0 116.0L279.5 115.6L280.0 115.2L280.5 114.8L281.0 114.4L281.5 114.0L282.0 113.5L282.5 113.0L283.0 112.4L283.5 111.8L284.0 111.4L284.5 110.9L285.1 110.5L285.9 110.0L286.5 109.6L287.0 109.3L287.5 108.9L288.2 108.5L289.0 108.0L289.5 107.7L290.0 107.5L290.8 107.0L291.5 106.6L292.0 106.4L292.7 106.0L293.5 105.5L294.0 105.2L294.5 104.9L295.2 104.5L296.0 104.0L296.5 103.7L297.0 103.4L297.9 103.0L298.5 102.7L299.2 102.5L300.0 102.3L301.0 102.2L302.0 102.5L302.5 102.9L302.7 103.5L302.8 104.5L302.8 105.5L302.8 106.5L302.7 107.5L302.7 108.5L302.5 109.3L302.3 110.0L302.0 110.9L301.8 111.5L301.5 112.2L301.1 113.0L300.9 113.5L300.5 114.4L300.2 115.0L299.9 115.5L299.5 116.3L299.1 117.0L298.8 117.5L298.5 118.2L298.1 119.0L297.8 119.5L297.4 120.0L297.0 120.5L296.5 121.0L296.0 121.5L295.4 122.0L294.9 122.5L294.5 123.0L294.0 123.5L293.5 124.0L292.9 124.5L292.2 125.0L291.5 125.4L291.0 125.7L290.4 126.0L289.5 126.4L289.0 126.6L288.2 127.0L287.5 127.3L287.0 127.5L286.0 127.9L285.5 128.1L284.8 128.5L284.0 128.9L283.5 129.2L282.7 129.5L282.0 129.7L281.0 130.0L280.5 130.1L279.5 130.4L279.0 130.5L278.0 130.9L277.5 131.1L276.5 131.4L276.0 131.7L275.2 132.0L274.5 132.3L273.9 132.5L273.0 132.8L272.4 133.0Z" fill="#d4d4d4"/>
<path d="M290.5 89.1L289.5 89.2L288.5 89.3L287.5 89.3L286.6 89.0L286.0 88.6L285.5 88.0L285.3 87.0L285.5 86.1L285.7 85.5L286.0 85.0L286.5 84.2L287.0 83.6L287.5 83.1L288.0 82.7L288.5 82.4L289.1 82.0L290.0 81.5L290.5 81.3L291.4 81.0L292.0 80.9L293.0 80.8L293.8 81.0L294.5 81.3L295.0 81.8L295.4 82.5L295.5 83.0L295.5 84.0L295.4 84.5L295.1 85.5L294.9 86.0L294.5 86.7L294.0 87.3L293.5 87.8L293.0 88.2L292.4 88.5L291.5 88.8L290.9 89.0ZM271.0 132.5L270.0 132.5L269.3 132.5L268.5 132.4L267.5 132.3L266.5 132.2L265.5 132.0L265.0 131.9L264.1 131.5L263.6 131.0L263.3 130.5L263.2 129.5L263.4 128.5L263.6 128.0L264.0 127.4L264.5 126.8L265.0 126.3L265.5 125.8L266.0 125.4L266.5 125.0L267.3 124.5L268.0 124.1L268.5 123.8L269.0 123.5L269.7 123.0L270.5 122.5L271.0 122.1L271.5 121.8L272.1 121.5L273.0 121.1L273.5 120.9L274.4 120.5L275.0 120.3L275.6 120.0L276.4 119.5L277.0 119.0L277.5 118.5L277.9 118.0L278.4 117.5L278.9 117.0L279.4 116.5L279.9 116.0L280.5 115.6L281.0 115.2L281.5 114.8L282.0 114.4L282.5 113.9L283.0 113.4L283.5 112.8L284.0 112.2L284.5 111.7L285.0 111.3L285.5 110.9L286.2 110.5L287.0 110.0L287.5 109.7L288.0 109.4L288.6 109.0L289.4 108.5L290.0 108.2L290.5 107.9L291.2 107.5L292.0 107.1L292.5 106.8L293.1 106.5L294.0 106.0L294.5 105.7L295.0 105.4L295.8 105.0L296.5 104.6L297.0 104.4L298.0 104.0L298.5 103.9L299.5 103.8L300.5 103.9L301.0 104.3L301.4 105.0L301.5 105.5L301.7 106.5L301.8 107.5L301.7 108.5L301.6 109.5L301.5 110.0L301.1 111.0L300.9 111.5L300.6 112.5L300.3 113.0L300.0 113.8L299.7 114.5L299.4 115.0L299.0 115.7L298.5 116.5L298.3 117.0L298.0 117.5L297.5 118.5L297.2 119.0L296.9 119.5L296.4 120.0L296.0 120.5L295.4 121.0L294.9 121.5L294.4 122.0L293.9 122.5L293.5 123.0L293.0 123.5L292.4 124.0L291.8 124.5L291.0 125.0L290.5 125.2L289.8 125.5L289.0 125.8L288.5 126.0L287.5 126.4L287.0 126.6L286.1 127.0L285.5 127.3L285.0 127.5L284.1 128.0L283.5 128.4L283.0 128.6L282.0 129.0L281.5 129.1L280.5 129.3L279.7 129.5L279.0 129.7L278.2 130.0L277.5 130.3L276.9 130.5L276.0 130.9L275.5 131.1L274.7 131.5L274.0 131.8L273.4 132.0L272.5 132.3L271.5 132.4L271.0 132.5Z" fill="#d4d4d4"/>
<path d="M291.5 88.0L290.5 88.3L289.5 88.4L288.5 88.4L287.5 88.2L287.0 88.0L286.5 87.4L286.3 86.5L286.5 85.7L286.8 85.0L287.1 84.5L287.5 84.0L288.0 83.5L288.6 83.0L289.5 82.5L290.0 82.2L290.5 82.0L291.5 81.6L292.5 81.5L293.5 81.8L294.0 82.1L294.5 82.8L294.7 83.5L294.6 84.5L294.5 85.0L294.1 86.0L293.7 86.5L293.3 87.0L292.6 87.5L292.0 87.8L291.5 88.0ZM273.0 131.5L272.0 131.8L271.0 131.8L270.0 131.8L269.0 131.7L268.0 131.5L267.0 131.3L266.0 131.1L265.5 130.8L265.0 130.5L264.5 129.5L264.7 128.5L265.0 127.9L265.5 127.2L266.0 126.6L266.5 126.1L267.0 125.7L267.5 125.4L268.1 125.0L268.8 124.5L269.5 124.0L270.0 123.7L270.5 123.3L271.0 123.0L271.7 122.5L272.5 122.0L273.0 121.8L273.8 121.5L274.5 121.2L275.1 121.0L276.0 120.6L276.5 120.3L277.0 119.9L277.5 119.5L278.0 119.0L278.5 118.3L279.0 117.7L279.5 117.2L280.0 116.7L280.5 116.2L281.0 115.8L281.5 115.4L282.0 115.0L282.6 114.5L283.2 114.0L283.6 113.5L284.1 113.0L284.5 112.5L285.0 112.0L285.7 111.5L286.4 111.0L287.0 110.6L287.5 110.3L288.1 110.0L288.9 109.5L289.5 109.2L290.0 108.9L290.7 108.5L291.5 108.1L292.0 107.8L292.6 107.5L293.5 107.0L294.0 106.8L294.6 106.5L295.5 106.0L296.0 105.8L296.8 105.5L297.5 105.3L298.5 105.2L299.4 105.5L300.0 106.0L300.3 106.5L300.5 107.0L300.7 108.0L300.7 109.0L300.5 110.0L300.4 110.5L300.1 111.5L299.9 112.0L299.6 113.0L299.4 113.5L299.0 114.3L298.6 115.0L298.3 115.5L298.0 116.1L297.5 117.0L297.3 117.5L297.0 118.0L296.5 118.8L296.0 119.4L295.5 119.9L295.0 120.4L294.5 120.9L294.0 121.4L293.5 121.9L293.0 122.5L292.5 123.0L292.0 123.5L291.5 123.9L291.0 124.2L290.4 124.5L289.5 124.9L289.0 125.1L288.0 125.4L287.5 125.6L286.5 126.0L286.0 126.2L285.4 126.5L284.5 127.0L284.0 127.3L283.5 127.6L282.7 128.0L282.0 128.3L281.2 128.5L280.5 128.7L279.5 128.9L279.0 129.0L278.0 129.4L277.5 129.6L276.6 130.0L276.0 130.3L275.5 130.5L274.5 131.0L274.0 131.2L273.1 131.5Z" fill="#d8d8d8"/>
<path d="M291.5 87.1L290.5 87.4L289.5 87.5L288.5 87.3L287.8 87.0L287.5 86.5L287.5 85.5L287.7 85.0L288.0 84.5L288.5 84.0L289.2 83.5L290.0 83.0L290.5 82.8L291.4 82.5L292.0 82.4L292.7 82.5L293.4 83.0L293.6 83.5L293.6 84.5L293.5 85.1L293.0 86.0L292.5 86.5L292.0 86.8L291.5 87.1ZM273.0 131.0L272.0 131.2L271.0 131.2L270.0 131.1L269.5 131.0L268.5 130.6L268.0 130.4L267.2 130.0L266.7 129.5L266.5 128.5L267.0 127.5L267.4 127.0L267.9 126.5L268.4 126.0L269.0 125.5L269.5 125.1L270.0 124.7L270.5 124.2L271.0 123.8L271.5 123.4L272.1 123.0L273.0 122.5L273.5 122.3L274.4 122.0L275.0 121.8L275.8 121.5L276.5 121.2L277.0 120.9L277.5 120.5L278.1 120.0L278.5 119.5L279.0 118.8L279.5 118.1L279.9 117.5L280.4 117.0L280.9 116.5L281.5 116.0L282.0 115.6L282.5 115.3L283.0 114.8L283.5 114.4L284.0 113.9L284.5 113.4L285.0 112.8L285.5 112.3L286.0 111.9L286.6 111.5L287.4 111.0L288.0 110.7L288.5 110.4L289.3 110.0L290.0 109.6L290.5 109.3L291.1 109.0L292.0 108.6L292.5 108.3L293.2 108.0L294.0 107.6L294.5 107.4L295.5 107.1L296.0 106.9L297.0 106.7L298.0 106.9L298.5 107.1L299.0 107.6L299.4 108.5L299.4 109.5L299.3 110.5L299.1 111.5L299.0 112.0L298.7 113.0L298.5 113.7L298.2 114.5L297.9 115.0L297.5 115.7L297.1 116.5L296.8 117.0L296.5 117.5L296.0 118.2L295.5 118.9L295.0 119.4L294.5 119.9L294.0 120.3L293.5 120.8L293.0 121.3L292.5 121.9L292.0 122.4L291.5 122.9L291.0 123.3L290.5 123.6L289.7 124.0L289.0 124.3L288.3 124.5L287.5 124.8L286.9 125.0L286.0 125.4L285.5 125.6L284.8 126.0L284.0 126.5L283.5 126.8L283.0 127.1L282.3 127.5L281.5 127.8L280.5 128.0L280.0 128.1L279.0 128.3L278.5 128.5L277.5 128.9L277.0 129.2L276.4 129.5L275.5 130.0L275.0 130.2L274.4 130.5L273.5 130.9L273.0 131.0Z" fill="#e0e0e0"/>
<path d="M290.5 86.0L290.0 86.1L289.5 86.0L289.1 85.5L289.2 85.0L289.5 84.7L289.7 84.5L290.0 84.3L290.5 84.0L290.6 84.0L291.0 83.9L291.5 83.9L291.8 84.0L292.0 84.3L292.1 84.5L292.0 84.9L292.0 85.0L291.6 85.5L291.5 85.5L291.0 85.8L290.6 86.0L290.5 86.0ZM273.0 130.5L272.0 130.7L271.0 130.6L270.4 130.5L269.5 130.1L269.0 129.6L268.6 129.0L268.6 128.0L269.0 127.1L269.4 126.5L269.8 126.0L270.3 125.5L270.8 125.0L271.3 124.5L271.9 124.0L272.5 123.6L273.0 123.3L273.7 123.0L274.5 122.7L275.2 122.5L276.0 122.2L276.7 122.0L277.5 121.6L278.0 121.3L278.5 120.8L279.0 120.3L279.5 119.5L279.7 119.0L280.0 118.5L280.5 117.8L281.0 117.2L281.5 116.7L282.0 116.3L282.5 115.9L283.0 115.5L283.6 115.0L284.1 114.5L284.6 114.0L285.1 113.5L285.6 113.0L286.2 112.5L286.9 112.0L287.5 111.6L288.0 111.4L288.8 111.0L289.5 110.7L290.0 110.4L290.9 110.0L291.5 109.7L292.0 109.5L293.0 109.0L293.5 108.8L294.4 108.5L295.0 108.4L296.0 108.3L296.9 108.5L297.5 109.0L297.8 109.5L298.0 110.5L298.0 111.0L298.0 112.0L298.0 112.5L297.8 113.5L297.5 114.3L297.2 115.0L296.9 115.5L296.5 116.2L296.0 117.0L295.6 117.5L295.3 118.0L294.8 118.5L294.3 119.0L293.8 119.5L293.3 120.0L292.8 120.5L292.3 121.0L291.8 121.5L291.3 122.0L290.7 122.5L290.0 123.0L289.5 123.2L288.8 123.5L288.0 123.8L287.5 124.0L286.5 124.4L286.0 124.6L285.0 125.0L284.5 125.3L284.0 125.6L283.4 126.0L282.6 126.5L282.0 126.8L281.5 127.0L280.5 127.3L279.5 127.5L279.0 127.6L278.0 128.0L277.5 128.2L277.0 128.5L276.2 129.0L275.5 129.4L275.0 129.7L274.4 130.0L273.5 130.4L273.0 130.5Z" fill="#e9e9e9"/>
<path d="M272.5 130.0L271.5 130.0L271.0 129.9L270.4 129.5L270.0 129.0L269.9 128.0L270.0 127.5L270.5 126.6L271.0 126.0L271.5 125.5L272.0 125.0L272.5 124.6L273.0 124.3L273.7 124.0L274.5 123.7L275.2 123.5L276.0 123.3L277.0 123.0L277.5 122.9L278.5 122.5L279.0 122.2L279.5 121.8L280.0 121.1L280.2 120.5L280.5 119.6L280.7 119.0L281.0 118.3L281.5 117.6L282.0 117.0L282.5 116.6L283.0 116.2L283.5 115.8L284.0 115.4L284.5 115.0L285.1 114.5L285.6 114.0L286.1 113.5L286.7 113.0L287.5 112.5L288.0 112.2L288.6 112.0L289.5 111.7L290.0 111.5L291.0 111.2L292.0 110.8L292.8 110.5L293.5 110.3L294.5 110.1L295.5 110.3L296.0 110.6L296.5 111.4L296.7 112.0L296.8 113.0L296.7 114.0L296.5 114.5L296.0 115.5L295.7 116.0L295.3 116.5L295.0 117.0L294.5 117.5L294.0 118.1L293.5 118.6L293.0 119.1L292.5 119.6L292.0 120.1L291.5 120.6L291.0 121.1L290.5 121.5L289.7 122.0L289.0 122.4L288.5 122.6L287.6 123.0L287.0 123.2L286.3 123.5L285.5 123.8L284.9 124.0L284.0 124.3L283.5 124.6L282.8 125.0L282.2 125.5L281.5 125.9L281.0 126.1L280.0 126.4L279.4 126.5L278.5 126.8L278.0 127.0L277.2 127.5L276.5 127.9L276.0 128.3L275.5 128.7L275.0 129.0L274.1 129.5L273.5 129.8L272.6 130.0Z" fill="#f2f2f2"/>
<path d="M285.0 123.1L284.0 123.2L283.0 123.2L282.0 123.1L281.6 122.5L281.5 122.0L281.4 121.0L281.3 120.0L281.5 119.0L281.7 118.5L282.0 117.9L282.5 117.3L283.0 116.9L283.5 116.5L284.1 116.0L284.8 115.5L285.4 115.0L285.9 114.5L286.5 114.0L287.0 113.6L287.5 113.3L288.1 113.0L289.0 112.7L289.9 112.5L290.5 112.4L291.5 112.3L292.5 112.1L293.0 112.0L294.0 111.9L294.6 112.0L295.3 112.5L295.6 113.0L295.7 114.0L295.5 114.6L295.1 115.5L294.7 116.0L294.3 116.5L293.9 117.0L293.4 117.5L293.0 118.0L292.5 118.5L292.0 119.0L291.5 119.5L291.0 120.0L290.4 120.5L289.7 121.0L289.0 121.4L288.5 121.7L287.8 122.0L287.0 122.4L286.5 122.6L285.5 123.0L285.0 123.1ZM273.5 129.2L272.5 129.4L271.5 129.2L271.0 128.8L270.8 128.0L271.0 127.3L271.5 126.5L272.0 126.0L272.5 125.6L273.0 125.3L274.0 124.8L275.0 124.6L275.5 124.5L276.5 124.5L277.0 124.6L277.8 125.0L277.5 125.6L277.0 126.3L276.5 126.8L276.0 127.4L275.5 127.8L275.0 128.3L274.5 128.6L273.9 129.0Z" fill="#f9f9f9"/>
<path d="M286.0 121.7L285.0 121.9L284.0 121.8L283.5 121.5L283.0 121.0L282.6 120.0L282.6 119.0L283.0 118.1L283.5 117.5L284.0 117.1L284.5 116.7L285.0 116.4L285.5 116.0L286.1 115.5L286.7 115.0L287.4 114.5L288.0 114.2L288.5 114.0L289.5 113.8L290.5 113.8L291.5 113.9L292.5 114.1L293.2 114.5L293.2 115.5L293.0 116.0L292.5 116.7L292.0 117.4L291.5 118.0L291.1 118.5L290.5 119.0L290.0 119.4L289.5 119.8L289.0 120.0L288.1 120.5L287.5 120.9L287.0 121.2L286.4 121.5ZM273.0 128.1L272.6 128.0L272.5 127.8L272.5 127.5L272.5 127.4L272.9 127.0L273.0 126.9L273.5 126.7L274.0 126.7L274.2 127.0L274.0 127.5L274.0 127.5L273.5 127.9L273.3 128.0L273.0 128.1Z" fill="#ffffff"/>
<path d="M271.5 141.5L270.5 141.6L269.5 141.7L268.5 141.8L267.5 141.8L266.5 141.8L265.5 141.7L264.5 141.6L263.8 141.5L263.0 141.4L262.0 141.3L261.0 141.1L260.5 141.0L259.5 140.8L258.5 140.5L258.0 140.4L257.0 140.1L256.5 139.9L255.6 139.5L255.0 139.2L254.5 139.0L253.7 138.5L253.0 138.1L252.5 137.7L252.0 137.3L251.5 136.9L251.0 136.4L250.5 135.8L250.0 135.0L249.7 134.5L249.5 133.9L249.3 133.0L249.1 132.0L249.1 131.0L249.2 130.0L249.4 129.0L249.6 128.5L250.0 127.5L250.2 127.0L250.8 126.0L251.1 125.5L251.5 125.0L252.0 124.4L252.5 123.9L253.0 123.4L253.5 123.0L254.2 122.5L254.9 122.0L255.5 121.6L256.0 121.2L256.5 120.9L257.0 120.5L257.6 120.0L258.4 119.5L259.0 119.1L259.5 118.8L260.1 118.5L261.0 118.0L261.5 117.7L262.0 117.4L262.5 117.0L263.2 116.5L263.9 116.0L264.5 115.6L265.0 115.2L265.5 115.0L266.3 114.5L267.0 114.1L267.5 113.8L268.0 113.5L268.8 113.0L269.5 112.6L270.0 112.3L270.5 112.0L271.2 111.5L271.9 111.0L272.5 110.5L273.0 110.1L273.5 109.7L274.0 109.2L274.5 108.8L275.0 108.4L275.5 108.0L276.1 107.5L276.8 107.0L277.5 106.5L278.0 106.1L278.5 105.7L279.0 105.3L279.5 104.9L280.0 104.5L280.6 104.0L281.2 103.5L281.8 103.0L282.3 102.5L282.8 102.0L283.2 101.5L283.5 100.9L283.7 100.0L283.5 99.5L283.0 99.0L282.3 98.5L281.5 98.0L281.0 97.8L280.5 97.5L279.5 97.0L279.0 96.7L278.5 96.4L278.0 96.0L277.5 95.5L277.0 94.9L276.5 94.0L276.3 93.5L276.0 92.6L275.9 92.0L275.8 91.0L275.8 90.0L275.9 89.0L276.0 88.5L276.3 87.5L276.5 86.9L276.8 86.0L277.0 85.5L277.5 84.5L277.8 84.0L278.1 83.5L278.5 82.9L279.0 82.2L279.5 81.6L280.0 81.0L280.5 80.5L281.0 80.0L281.5 79.5L282.0 79.1L282.5 78.6L283.0 78.2L283.5 77.8L284.0 77.3L284.5 77.0L285.2 76.5L286.0 76.0L286.5 75.7L287.0 75.4L287.9 75.0L288.5 74.7L289.0 74.5L290.0 74.1L290.5 73.9L291.5 73.6L292.0 73.4L293.0 73.2L294.0 73.0L294.5 73.0L295.5 72.8L296.5 72.8L297.5 72.8L298.5 72.9L299.0 73.0L300.0 73.3L300.7 73.5L301.5 73.9L302.0 74.2L302.5 74.6L303.0 75.0L303.5 75.6L304.0 76.3L304.4 77.0L304.6 77.5L305.0 78.5L305.1 79.0L305.3 80.0L305.3 81.0L305.2 82.0L305.0 83.0L304.9 83.5L304.6 84.5L304.4 85.0L304.0 86.0L303.8 86.5L303.5 87.4L303.3 88.0L303.0 89.0L303.0 89.5L303.0 90.0L303.5 90.8L304.0 91.2L304.6 91.5L305.5 91.9L306.0 92.1L306.7 92.5L307.5 92.9L308.0 93.2L308.6 93.5L309.4 94.0L310.0 94.4L310.5 94.9L311.0 95.4L311.4 96.0L311.7 96.5L312.0 97.1L312.4 98.0L312.5 98.5L312.7 99.5L312.8 100.5L312.9 101.5L312.9 102.5L312.8 103.5L312.8 104.5L312.7 105.5L312.5 106.5L312.4 107.0L312.2 108.0L312.0 108.9L311.9 109.5L311.6 110.5L311.4 111.0L311.0 112.0L310.8 112.5L310.5 113.3L310.2 114.0L310.0 114.5L309.5 115.5L309.2 116.0L309.0 116.5L308.5 117.4L308.2 118.0L307.9 118.5L307.5 119.1L307.0 120.0L306.7 120.5L306.4 121.0L306.0 121.6L305.5 122.3L305.0 122.9L304.6 123.5L304.2 124.0L303.7 124.5L303.3 125.0L302.9 125.5L302.5 126.0L302.0 126.5L301.5 127.1L301.0 127.7L300.5 128.2L300.0 128.7L299.5 129.2L299.0 129.6L298.5 130.0L297.9 130.5L297.3 131.0L296.6 131.5L296.0 132.0L295.5 132.3L295.0 132.7L294.5 133.0L293.8 133.5L293.0 134.0L292.5 134.3L292.0 134.6L291.1 135.0L290.5 135.3L290.0 135.5L289.0 136.0L288.5 136.2L287.8 136.5L287.0 136.9L286.5 137.2L286.0 137.5L285.0 138.0L284.5 138.2L283.6 138.5L283.0 138.7L282.0 139.0L281.5 139.2L280.5 139.5L280.0 139.6L279.0 139.9L278.5 140.1L277.5 140.4L276.9 140.5L276.0 140.7L275.0 141.0L274.5 141.1L273.5 141.2L272.5 141.4L271.6 141.5ZM272.5 139.1L271.5 139.2L270.5 139.3L269.5 139.4L268.5 139.5L267.5 139.5L266.5 139.5L265.5 139.5L264.5 139.4L263.5 139.3L262.5 139.1L261.9 139.0L261.0 138.8L260.0 138.6L259.5 138.4L258.5 138.1L258.0 138.0L257.0 137.5L256.5 137.3L255.5 136.7L255.0 136.3L254.5 136.0L254.0 135.5L253.5 135.0L253.0 134.4L252.5 133.5L252.3 133.0L252.0 132.1L251.9 131.5L251.9 130.5L252.0 129.5L252.1 129.0L252.5 128.0L252.8 127.5L253.0 127.0L253.5 126.3L254.0 125.7L254.5 125.3L255.0 124.8L255.5 124.4L256.1 124.0L256.7 123.5L257.4 123.0L258.0 122.5L258.5 122.1L259.0 121.7L259.5 121.4L260.2 121.0L261.0 120.5L261.5 120.3L262.0 120.0L262.9 119.5L263.5 119.1L264.0 118.8L264.5 118.4L265.1 118.0L265.9 117.5L266.5 117.1L267.0 116.8L267.5 116.5L268.4 116.0L269.0 115.7L269.5 115.4L270.2 115.0L271.0 114.6L271.5 114.3L272.0 114.0L272.8 113.5L273.5 113.0L274.0 112.7L274.5 112.3L275.0 111.8L275.5 111.4L276.0 110.9L276.5 110.4L277.0 109.9L277.5 109.5L278.1 109.0L278.7 108.5L279.3 108.0L279.9 107.5L280.5 107.0L281.0 106.6L281.5 106.3L282.0 105.9L282.6 105.5L283.3 105.0L284.0 104.5L284.5 104.2L285.0 103.8L285.5 103.5L286.3 103.0L287.0 102.5L287.5 102.2L288.0 101.8L288.5 101.4L289.0 100.9L289.5 100.5L290.0 100.0L290.5 99.5L291.0 99.0L291.6 98.5L292.1 98.0L292.6 97.5L293.0 96.8L293.0 96.5L292.0 96.5L291.5 96.5L290.5 96.5L289.8 96.5L289.0 96.4L288.0 96.3L287.0 96.2L286.0 96.2L285.0 96.1L284.5 96.0L283.5 95.8L282.8 95.5L282.0 95.1L281.5 94.9L280.8 94.5L280.1 94.0L279.6 93.5L279.2 93.0L278.9 92.5L278.6 91.5L278.5 91.0L278.4 90.0L278.4 89.0L278.5 88.1L278.6 87.5L278.8 86.5L279.0 86.0L279.4 85.0L279.7 84.5L280.0 84.0L280.5 83.4L281.0 82.8L281.5 82.2L282.0 81.7L282.5 81.2L283.0 80.7L283.5 80.2L284.0 79.7L284.5 79.2L285.0 78.8L285.5 78.4L286.0 78.0L286.8 77.5L287.5 77.1L288.0 76.9L288.9 76.5L289.5 76.2L290.2 76.0L291.0 75.7L291.7 75.5L292.5 75.3L293.5 75.1L294.4 75.0L295.0 74.9L296.0 74.9L297.0 74.9L297.5 75.0L298.5 75.3L299.1 75.5L299.9 76.0L300.5 76.4L301.0 76.9L301.5 77.5L301.8 78.0L302.1 78.5L302.5 79.3L302.7 80.0L302.9 81.0L302.9 82.0L302.7 83.0L302.5 83.8L302.3 84.5L302.0 85.2L301.7 86.0L301.4 86.5L301.0 87.3L300.6 88.0L300.3 88.5L300.0 89.0L299.5 89.7L299.0 90.5L298.7 91.0L298.4 91.5L298.0 92.3L297.6 93.0L297.5 93.5L298.0 93.9L299.0 93.9L300.0 93.9L301.0 93.9L302.0 94.0L302.5 94.0L303.5 94.2L304.5 94.4L305.0 94.6L306.0 95.0L306.5 95.3L307.0 95.6L307.6 96.0L308.2 96.5L308.7 97.0L309.1 97.5L309.5 98.2L309.9 99.0L310.0 99.5L310.3 100.5L310.5 101.5L310.5 102.0L310.6 103.0L310.6 104.0L310.6 105.0L310.5 105.5L310.2 106.5L310.0 107.2L309.7 108.0L309.5 108.5L309.1 109.5L308.9 110.0L308.6 111.0L308.4 111.5L308.0 112.5L307.8 113.0L307.5 113.6L307.1 114.5L306.9 115.0L306.5 115.8L306.2 116.5L305.9 117.0L305.5 117.8L305.1 118.5L304.8 119.0L304.5 119.5L304.0 120.1L303.5 120.8L303.0 121.4L302.5 122.0L302.2 122.5L301.8 123.0L301.4 123.5L301.0 124.0L300.5 124.6L300.0 125.2L299.5 125.8L299.0 126.4L298.5 126.9L298.0 127.3L297.5 127.8L297.0 128.1L296.5 128.5L295.8 129.0L295.1 129.5L294.5 129.9L294.0 130.2L293.5 130.6L293.0 131.0L292.3 131.5L291.6 132.0L291.0 132.4L290.5 132.7L290.0 133.0L289.0 133.5L288.5 133.7L287.7 134.0L287.0 134.3L286.5 134.5L285.5 135.0L285.0 135.2L284.4 135.5L283.5 135.9L283.0 136.1L282.0 136.4L281.5 136.6L280.5 136.9L280.0 137.1L279.0 137.4L278.5 137.5L277.5 137.8L276.9 138.0L276.0 138.3L275.2 138.5L274.5 138.7L273.5 138.9L272.9 139.0ZM291.0 94.5L290.0 94.7L289.0 94.8L288.0 94.8L287.0 94.8L286.0 94.8L285.0 94.7L284.3 94.5L283.5 94.2L283.0 94.0L282.2 93.5L281.5 93.0L281.0 92.5L280.5 92.0L280.2 91.5L280.0 90.9L279.8 90.0L279.7 89.0L279.7 88.0L279.9 87.0L280.0 86.5L280.4 85.5L280.7 85.0L281.0 84.5L281.5 83.8L282.0 83.2L282.5 82.7L283.0 82.1L283.5 81.6L284.0 81.1L284.5 80.6L285.0 80.1L285.5 79.6L286.0 79.2L286.5 78.9L287.1 78.5L288.0 78.0L288.5 77.8L289.1 77.5L290.0 77.2L290.5 77.0L291.5 76.7L292.3 76.5L293.0 76.4L294.0 76.2L295.0 76.1L296.0 76.1L297.0 76.2L297.9 76.5L298.5 76.8L299.0 77.1L299.5 77.5L300.0 78.1L300.5 78.8L300.9 79.5L301.1 80.0L301.4 81.0L301.4 82.0L301.3 83.0L301.1 84.0L300.9 84.5L300.5 85.5L300.3 86.0L300.0 86.5L299.5 87.3L299.1 88.0L298.7 88.5L298.4 89.0L298.0 89.5L297.5 90.1L297.0 90.7L296.5 91.2L296.0 91.7L295.5 92.1L294.9 92.5L294.0 93.0L293.5 93.3L293.0 93.6L292.3 94.0L291.5 94.3L291.0 94.5ZM270.0 138.0L269.0 138.1L268.0 138.2L267.0 138.2L266.0 138.1L265.0 138.1L264.3 138.0L263.5 137.9L262.5 137.7L261.6 137.5L261.0 137.4L260.0 137.1L259.5 136.9L258.5 136.6L258.0 136.3L257.4 136.0L256.6 135.5L256.0 135.1L255.5 134.6L255.0 134.1L254.5 133.5L254.3 133.0L254.0 132.4L253.8 131.5L253.7 130.5L253.9 129.5L254.1 129.0L254.5 128.1L254.9 127.5L255.2 127.0L255.7 126.5L256.2 126.0L256.7 125.5L257.3 125.0L257.9 124.5L258.4 124.0L259.0 123.5L259.5 123.1L260.0 122.7L260.5 122.4L261.1 122.0L262.0 121.5L262.5 121.2L263.0 120.9L263.7 120.5L264.5 120.0L265.0 119.7L265.5 119.4L266.1 119.0L266.9 118.5L267.5 118.2L268.0 117.9L268.6 117.5L269.5 117.0L270.0 116.7L270.5 116.5L271.4 116.0L272.0 115.6L272.5 115.3L273.0 115.0L273.8 114.5L274.5 114.0L275.0 113.7L275.5 113.3L276.0 112.9L276.5 112.4L277.0 111.9L277.5 111.3L278.0 110.8L278.5 110.4L279.0 109.9L279.5 109.5L280.1 109.0L280.7 108.5L281.3 108.0L282.0 107.5L282.5 107.2L283.0 106.8L283.5 106.5L284.2 106.0L284.9 105.5L285.5 105.1L286.0 104.8L286.6 104.5L287.5 104.0L288.0 103.7L288.5 103.5L289.2 103.0L289.9 102.5L290.5 102.0L291.0 101.7L291.5 101.3L292.0 100.9L292.6 100.5L293.3 100.0L294.0 99.5L294.5 99.2L295.0 98.8L295.5 98.3L296.0 97.9L296.6 97.5L297.4 97.0L298.0 96.7L298.5 96.4L299.5 96.0L300.0 95.9L301.0 95.7L302.0 95.7L303.0 95.7L304.0 95.9L304.5 96.1L305.5 96.5L306.0 96.8L306.5 97.1L307.0 97.5L307.5 98.0L308.0 98.7L308.4 99.5L308.6 100.0L308.9 101.0L309.0 101.6L309.2 102.5L309.3 103.5L309.3 104.5L309.1 105.5L309.0 106.0L308.6 107.0L308.3 107.5L308.0 108.2L307.7 109.0L307.4 109.5L307.1 110.5L306.9 111.0L306.5 112.0L306.3 112.5L306.0 113.3L305.7 114.0L305.4 114.5L305.0 115.5L304.8 116.0L304.5 116.6L304.1 117.5L303.8 118.0L303.5 118.5L303.0 119.3L302.5 119.9L302.1 120.5L301.7 121.0L301.3 121.5L300.9 122.0L300.5 122.6L300.0 123.2L299.5 123.8L299.0 124.4L298.5 125.0L298.0 125.5L297.5 126.0L296.9 126.5L296.3 127.0L295.6 127.5L295.0 127.9L294.5 128.3L294.0 128.6L293.4 129.0L292.6 129.5L292.0 130.0L291.5 130.4L291.0 130.8L290.5 131.2L290.0 131.5L289.1 132.0L288.5 132.3L287.9 132.5L287.0 132.9L286.5 133.1L285.5 133.5L285.0 133.7L284.2 134.0L283.5 134.3L282.9 134.5L282.0 134.8L281.5 135.0L280.5 135.4L280.0 135.6L279.0 135.9L278.5 136.0L277.5 136.3L277.0 136.5L276.0 136.8L275.5 137.0L274.5 137.3L273.7 137.5L273.0 137.7L272.0 137.8L271.0 137.9L270.5 138.0ZM290.0 93.5L289.0 93.7L288.0 93.7L287.0 93.7L286.0 93.7L285.0 93.5L284.5 93.4L283.7 93.0L283.0 92.6L282.5 92.2L282.0 91.7L281.5 91.1L281.2 90.5L281.0 90.0L280.8 89.0L280.7 88.0L280.9 87.0L281.0 86.5L281.5 85.5L281.8 85.0L282.1 84.5L282.5 84.0L283.0 83.4L283.5 82.8L284.0 82.2L284.5 81.7L285.0 81.2L285.5 80.7L286.0 80.3L286.5 79.9L287.1 79.5L287.9 79.0L288.5 78.7L289.0 78.5L290.0 78.1L290.5 77.9L291.5 77.6L292.0 77.5L293.0 77.3L294.0 77.2L295.0 77.2L296.0 77.2L297.0 77.4L297.5 77.6L298.1 78.0L298.7 78.5L299.1 79.0L299.5 79.5L299.9 80.5L300.1 81.0L300.2 82.0L300.2 83.0L300.0 83.8L299.8 84.5L299.5 85.2L299.1 86.0L298.8 86.5L298.2 87.5L297.9 88.0L297.5 88.5L297.0 89.2L296.5 89.7L296.0 90.3L295.5 90.7L295.0 91.1L294.5 91.5L293.6 92.0L293.0 92.4L292.5 92.6L291.7 93.0L291.0 93.3L290.2 93.5ZM268.5 137.0L267.5 137.0L266.7 137.0L266.0 137.0L265.0 136.9L264.0 136.7L263.0 136.5L262.5 136.4L261.5 136.2L260.9 136.0L260.0 135.7L259.4 135.5L258.5 135.1L258.0 134.8L257.5 134.4L257.0 134.0L256.5 133.5L256.0 132.8L255.7 132.0L255.6 131.0L255.7 130.0L256.0 129.3L256.4 128.5L256.7 128.0L257.1 127.5L257.5 127.0L258.0 126.4L258.5 125.9L259.0 125.3L259.5 124.8L260.0 124.3L260.5 123.8L261.0 123.4L261.7 123.0L262.5 122.5L263.0 122.2L263.5 121.9L264.2 121.5L265.0 121.0L265.5 120.7L266.0 120.4L266.8 120.0L267.5 119.6L268.0 119.3L268.5 119.0L269.3 118.5L270.0 118.1L270.5 117.8L271.0 117.5L271.9 117.0L272.5 116.7L273.0 116.4L273.6 116.0L274.5 115.5L275.0 115.1L275.5 114.8L276.0 114.4L276.5 114.0L277.0 113.5L277.6 113.0L278.0 112.5L278.5 112.0L279.0 111.5L279.5 111.0L280.1 110.5L280.6 110.0L281.2 109.5L281.9 109.0L282.5 108.5L283.0 108.2L283.5 107.9L284.0 107.5L284.7 107.0L285.5 106.5L286.0 106.2L286.5 105.9L287.2 105.5L288.0 105.1L288.5 104.8L289.1 104.5L290.0 104.0L290.5 103.6L291.0 103.3L291.5 103.0L292.2 102.5L292.9 102.0L293.5 101.6L294.0 101.3L294.5 100.9L295.1 100.5L295.7 100.0L296.3 99.5L296.9 99.0L297.5 98.6L298.0 98.3L298.5 98.0L299.5 97.6L300.0 97.4L301.0 97.2L302.0 97.1L303.0 97.2L304.0 97.5L304.5 97.7L305.2 98.0L306.0 98.5L306.5 99.0L306.9 99.5L307.2 100.0L307.5 100.9L307.7 101.5L307.9 102.5L308.0 103.3L308.0 104.0L308.0 104.5L307.8 105.5L307.5 106.2L307.1 107.0L306.9 107.5L306.5 108.5L306.3 109.0L306.0 109.9L305.8 110.5L305.5 111.3L305.2 112.0L305.0 112.5L304.5 113.5L304.3 114.0L304.0 114.7L303.7 115.5L303.5 116.0L303.0 117.0L302.8 117.5L302.5 118.0L302.0 118.8L301.5 119.5L301.2 120.0L300.8 120.5L300.4 121.0L300.0 121.6L299.5 122.2L299.0 122.9L298.5 123.4L298.0 124.0L297.5 124.5L297.0 125.0L296.5 125.4L296.0 125.8L295.5 126.2L295.0 126.6L294.5 127.0L293.7 127.5L293.0 128.0L292.5 128.3L292.0 128.6L291.4 129.0L290.8 129.5L290.1 130.0L289.5 130.4L289.0 130.7L288.5 131.0L287.5 131.4L287.0 131.6L286.1 132.0L285.5 132.3L284.9 132.5L284.0 132.8L283.5 133.0L282.5 133.4L282.0 133.6L281.0 133.9L280.5 134.1L279.5 134.5L279.0 134.6L278.0 134.9L277.5 135.1L276.5 135.4L276.0 135.6L275.0 136.0L274.5 136.1L273.5 136.4L273.0 136.5L272.0 136.7L271.0 136.8L270.0 136.9L269.0 137.0L268.5 137.0ZM290.0 92.6L289.0 92.7L288.0 92.8L287.0 92.8L286.0 92.8L285.0 92.5L284.5 92.3L283.9 92.0L283.3 91.5L282.8 91.0L282.4 90.5L282.0 89.8L281.7 89.0L281.6 88.0L281.7 87.0L282.0 86.3L282.4 85.5L282.7 85.0L283.1 84.5L283.5 83.9L284.0 83.3L284.5 82.7L285.0 82.2L285.5 81.7L286.0 81.2L286.5 80.8L287.0 80.4L287.6 80.0L288.5 79.5L289.0 79.3L289.6 79.0L290.5 78.7L291.0 78.5L292.0 78.3L293.0 78.1L294.0 78.0L295.0 78.1L296.0 78.2L296.9 78.5L297.5 78.8L298.0 79.3L298.5 79.9L298.8 80.5L299.0 81.1L299.2 82.0L299.2 83.0L299.0 83.9L298.8 84.5L298.5 85.2L298.1 86.0L297.8 86.5L297.5 87.0L297.0 87.8L296.5 88.5L296.1 89.0L295.7 89.5L295.1 90.0L294.5 90.5L294.0 90.8L293.5 91.1L292.8 91.5L292.0 91.9L291.5 92.1L290.5 92.4L290.0 92.6ZM273.0 135.5L272.0 135.7L271.0 135.9L270.0 136.0L269.0 136.0L268.0 136.0L267.0 136.0L266.0 135.9L265.0 135.8L264.0 135.6L263.4 135.5L262.5 135.3L261.5 135.0L261.0 134.9L260.1 134.5L259.5 134.2L259.0 133.9L258.5 133.5L258.0 133.0L257.5 132.2L257.3 131.5L257.4 130.5L257.5 130.0L258.0 129.0L258.5 128.2L259.0 127.5L259.3 127.0L259.7 126.5L260.0 126.0L260.5 125.4L261.0 124.8L261.5 124.4L262.0 124.0L262.7 123.5L263.5 123.0L264.0 122.7L264.5 122.4L265.2 122.0L266.0 121.6L266.5 121.3L267.0 121.0L267.9 120.5L268.5 120.1L269.0 119.8L269.5 119.5L270.3 119.0L271.0 118.6L271.5 118.3L272.1 118.0L273.0 117.5L273.5 117.2L274.0 117.0L274.8 116.5L275.5 116.0L276.0 115.6L276.5 115.2L277.0 114.8L277.5 114.4L278.0 114.0L278.5 113.5L279.0 113.0L279.5 112.5L280.0 112.0L280.5 111.5L281.0 111.0L281.6 110.5L282.1 110.0L282.8 109.5L283.5 109.0L284.0 108.7L284.5 108.3L285.0 108.0L285.7 107.5L286.4 107.0L287.0 106.6L287.5 106.4L288.2 106.0L289.0 105.6L289.5 105.3L290.1 105.0L291.0 104.5L291.5 104.2L292.0 103.8L292.5 103.5L293.3 103.0L294.0 102.5L294.5 102.2L295.0 101.8L295.5 101.5L296.2 101.0L296.8 100.5L297.5 100.0L298.0 99.6L298.5 99.3L299.2 99.0L300.0 98.7L301.0 98.5L301.5 98.5L302.0 98.5L303.0 98.6L304.0 98.9L304.5 99.1L305.1 99.5L305.7 100.0L306.0 100.5L306.5 101.5L306.6 102.0L306.8 103.0L306.8 104.0L306.6 105.0L306.4 105.5L306.0 106.5L305.8 107.0L305.5 108.0L305.4 108.5L305.1 109.5L304.9 110.0L304.6 111.0L304.4 111.5L304.0 112.3L303.7 113.0L303.5 113.5L303.0 114.5L302.8 115.0L302.5 115.7L302.2 116.5L301.9 117.0L301.5 117.8L301.1 118.5L300.8 119.0L300.4 119.5L300.0 120.2L299.5 120.9L299.0 121.5L298.6 122.0L298.2 122.5L297.7 123.0L297.2 123.5L296.7 124.0L296.2 124.5L295.6 125.0L295.0 125.5L294.5 125.9L294.0 126.3L293.5 126.6L292.9 127.0L292.1 127.5L291.5 127.9L291.0 128.2L290.5 128.5L289.8 129.0L289.0 129.5L288.5 129.8L288.0 130.0L287.0 130.5L286.5 130.7L285.8 131.0L285.0 131.4L284.5 131.6L283.5 132.0L283.0 132.1L282.0 132.5L281.5 132.6L280.5 133.0L280.0 133.2L279.0 133.5L278.5 133.7L277.5 134.0L277.0 134.1L276.0 134.5L275.5 134.7L274.7 135.0L274.0 135.2L273.1 135.5ZM287.0 92.0L286.5 92.0L285.5 91.8L284.9 91.5L284.1 91.0L283.6 90.5L283.2 90.0L282.9 89.5L282.5 88.5L282.5 88.0L282.5 87.5L282.7 86.5L283.0 85.9L283.5 85.1L283.9 84.5L284.3 84.0L284.7 83.5L285.1 83.0L285.6 82.5L286.1 82.0L286.6 81.5L287.3 81.0L288.0 80.5L288.5 80.3L289.0 80.0L290.0 79.5L290.5 79.4L291.5 79.1L292.0 78.9L293.0 78.8L294.0 78.8L295.0 78.9L295.6 79.0L296.5 79.4L297.0 79.7L297.5 80.3L297.9 81.0L298.1 81.5L298.3 82.5L298.2 83.5L298.0 84.2L297.7 85.0L297.5 85.5L297.0 86.4L296.7 87.0L296.4 87.5L296.0 88.0L295.5 88.6L295.0 89.2L294.5 89.6L294.0 90.0L293.1 90.5L292.5 90.8L292.0 91.0L291.0 91.4L290.5 91.5L289.5 91.8L288.5 91.9L287.5 92.0L287.0 92.0ZM270.5 135.0L269.5 135.1L268.5 135.1L267.5 135.0L266.5 134.9L265.5 134.8L264.5 134.7L263.6 134.5L263.0 134.4L262.0 134.1L261.5 133.9L260.7 133.5L260.0 133.0L259.5 132.5L259.2 132.0L259.0 131.0L259.2 130.0L259.5 129.3L259.9 128.5L260.1 128.0L260.5 127.3L261.0 126.5L261.4 126.0L261.8 125.5L262.3 125.0L262.9 124.5L263.5 124.1L264.0 123.8L264.5 123.4L265.2 123.0L266.0 122.6L266.5 122.3L267.0 122.0L267.9 121.5L268.5 121.1L269.0 120.8L269.5 120.5L270.3 120.0L271.0 119.6L271.5 119.3L272.0 119.0L273.0 118.5L273.5 118.3L274.0 118.0L274.9 117.5L275.5 117.1L276.0 116.8L276.5 116.4L277.0 115.9L277.5 115.5L278.1 115.0L278.7 114.5L279.3 114.0L279.8 113.5L280.3 113.0L280.8 112.5L281.3 112.0L281.8 111.5L282.3 111.0L282.9 110.5L283.5 110.0L284.0 109.6L284.5 109.3L285.0 109.0L285.7 108.5L286.4 108.0L287.0 107.6L287.5 107.3L288.0 107.0L289.0 106.5L289.5 106.2L290.0 106.0L290.8 105.5L291.5 105.1L292.0 104.8L292.5 104.5L293.3 104.0L294.0 103.5L294.5 103.2L295.0 102.9L295.5 102.5L296.3 102.0L297.0 101.5L297.5 101.2L298.0 100.9L298.6 100.5L299.5 100.1L300.0 99.9L301.0 99.7L302.0 99.7L303.0 99.9L303.5 100.1L304.3 100.5L304.8 101.0L305.2 101.5L305.5 102.4L305.6 103.0L305.5 104.0L305.4 104.5L305.1 105.5L304.9 106.0L304.7 107.0L304.5 108.0L304.4 108.5L304.2 109.5L304.0 110.0L303.6 111.0L303.4 111.5L303.0 112.5L302.8 113.0L302.5 113.6L302.1 114.5L301.9 115.0L301.5 115.8L301.2 116.5L300.9 117.0L300.5 117.8L300.1 118.5L299.8 119.0L299.5 119.5L299.0 120.3L298.5 121.0L298.1 121.5L297.6 122.0L297.1 122.5L296.6 123.0L296.0 123.5L295.5 124.0L295.0 124.5L294.5 124.9L294.0 125.3L293.5 125.7L293.0 126.1L292.3 126.5L291.5 127.0L291.0 127.3L290.5 127.5L289.7 128.0L289.0 128.4L288.5 128.7L287.9 129.0L287.0 129.4L286.5 129.6L285.7 130.0L285.0 130.3L284.5 130.6L283.5 131.0L283.0 131.2L282.0 131.5L281.5 131.7L280.5 132.0L280.0 132.1L279.0 132.5L278.5 132.6L277.5 132.9L277.0 133.1L276.0 133.5L275.5 133.7L274.6 134.0L274.0 134.2L273.2 134.5L272.5 134.7L271.5 134.9L270.9 135.0ZM288.5 91.1L287.5 91.1L286.5 91.1L286.0 91.0L285.0 90.5L284.5 90.1L284.0 89.5L283.7 89.0L283.5 88.5L283.4 87.5L283.5 86.8L283.8 86.0L284.1 85.5L284.5 84.9L285.0 84.2L285.5 83.5L285.9 83.0L286.4 82.5L287.0 82.0L287.5 81.6L288.0 81.3L288.5 81.0L289.4 80.5L290.0 80.2L290.6 80.0L291.5 79.7L292.5 79.5L293.0 79.5L293.6 79.5L294.5 79.6L295.5 79.9L296.0 80.2L296.5 80.6L297.0 81.3L297.2 82.0L297.3 83.0L297.2 84.0L297.0 84.6L296.7 85.5L296.4 86.0L296.0 86.8L295.5 87.5L295.2 88.0L294.7 88.5L294.2 89.0L293.5 89.5L293.0 89.8L292.5 90.0L291.5 90.4L291.0 90.6L290.0 90.8L289.0 91.0L288.5 91.1ZM271.5 134.0L270.5 134.2L269.5 134.2L268.5 134.1L267.5 134.1L266.9 134.0L266.0 133.9L265.0 133.8L264.0 133.6L263.5 133.5L262.5 133.1L262.0 132.9L261.5 132.5L261.0 132.0L260.6 131.0L260.7 130.0L261.0 129.0L261.2 128.5L261.5 127.8L261.9 127.0L262.3 126.5L262.7 126.0L263.2 125.5L263.8 125.0L264.4 124.5L265.0 124.1L265.5 123.8L266.0 123.5L266.8 123.0L267.5 122.6L268.0 122.3L268.6 122.0L269.4 121.5L270.0 121.1L270.5 120.8L271.0 120.5L271.9 120.0L272.5 119.7L273.0 119.4L273.9 119.0L274.5 118.7L275.0 118.5L275.7 118.0L276.4 117.5L277.0 117.0L277.5 116.5L278.0 116.1L278.5 115.6L279.0 115.2L279.5 114.8L280.0 114.4L280.5 114.0L281.0 113.5L281.5 113.0L282.0 112.5L282.5 111.9L283.0 111.4L283.5 110.9L284.0 110.5L284.7 110.0L285.5 109.5L286.0 109.2L286.5 108.8L287.5 108.2L288.0 107.9L288.6 107.5L289.5 107.0L290.0 106.7L290.5 106.5L291.4 106.0L292.0 105.6L292.5 105.3L293.1 105.0L293.9 104.5L294.5 104.1L295.0 103.8L295.5 103.4L296.2 103.0L297.0 102.5L297.5 102.2L298.0 101.9L298.9 101.5L299.5 101.2L300.4 101.0L301.0 100.9L302.0 101.0L302.5 101.1L303.4 101.5L303.8 102.0L304.1 102.5L304.2 103.5L304.1 104.5L304.0 105.0L303.8 106.0L303.7 107.0L303.6 108.0L303.5 108.6L303.3 109.5L303.0 110.4L302.8 111.0L302.5 111.7L302.1 112.5L301.9 113.0L301.5 113.9L301.2 114.5L301.0 115.0L300.5 116.0L300.2 116.5L300.0 117.0L299.5 117.9L299.2 118.5L298.9 119.0L298.5 119.7L298.0 120.4L297.5 121.0L297.0 121.5L296.5 122.0L296.0 122.5L295.5 123.0L295.0 123.5L294.5 123.9L294.0 124.4L293.5 124.8L293.0 125.2L292.5 125.6L291.8 126.0L291.0 126.4L290.5 126.7L289.9 127.0L289.0 127.5L288.5 127.7L287.9 128.0L287.0 128.4L286.5 128.6L285.6 129.0L285.0 129.3L284.5 129.5L283.6 130.0L283.0 130.2L282.2 130.5L281.5 130.7L280.5 131.0L280.0 131.1L279.0 131.4L278.5 131.6L277.5 131.9L277.0 132.1L276.0 132.5L275.5 132.7L274.7 133.0L274.0 133.3L273.4 133.5L272.5 133.8L271.7 134.0ZM290.0 90.0L289.0 90.1L288.0 90.2L287.0 90.2L286.2 90.0L285.5 89.6L285.0 89.2L284.5 88.5L284.4 88.0L284.3 87.0L284.5 86.4L284.9 85.5L285.2 85.0L285.5 84.5L286.0 83.8L286.5 83.2L287.0 82.8L287.5 82.3L288.0 82.0L288.8 81.5L289.5 81.1L290.0 80.9L290.9 80.5L291.5 80.3L292.5 80.2L293.5 80.2L294.5 80.4L295.0 80.6L295.6 81.0L296.0 81.5L296.4 82.5L296.4 83.5L296.2 84.5L296.0 85.2L295.7 86.0L295.4 86.5L295.0 87.1L294.5 87.8L294.0 88.3L293.5 88.7L293.0 89.0L292.0 89.5L291.5 89.6L290.5 89.9L290.0 90.0ZM272.0 133.1L271.0 133.3L270.0 133.3L269.0 133.3L268.0 133.2L267.0 133.1L266.0 133.0L265.5 133.0L264.5 132.8L263.7 132.5L263.0 132.1L262.5 131.7L262.0 131.0L261.9 130.5L262.0 129.5L262.1 129.0L262.5 128.0L262.8 127.5L263.1 127.0L264.0 126.0L264.5 125.5L265.0 125.1L265.5 124.7L266.0 124.4L266.6 124.0L267.4 123.5L268.0 123.2L268.5 122.9L269.2 122.5L270.0 122.0L270.5 121.7L271.0 121.3L271.6 121.0L272.5 120.5L273.0 120.3L273.6 120.0L274.5 119.6L275.0 119.4L275.7 119.0L276.4 118.5L277.0 118.0L277.5 117.5L278.0 117.0L278.5 116.5L279.0 116.0L279.5 115.6L280.0 115.2L280.5 114.8L281.0 114.4L281.5 114.0L282.0 113.5L282.5 113.0L283.0 112.4L283.5 111.8L284.0 111.4L284.5 110.9L285.1 110.5L285.9 110.0L286.5 109.6L287.0 109.3L287.5 108.9L288.2 108.5L289.0 108.0L289.5 107.7L290.0 107.5L290.8 107.0L291.5 106.6L292.0 106.4L292.7 106.0L293.5 105.5L294.0 105.2L294.5 104.9L295.2 104.5L296.0 104.0L296.5 103.7L297.0 103.4L297.9 103.0L298.5 102.7L299.2 102.5L300.0 102.3L301.0 102.2L302.0 102.5L302.5 102.9L302.7 103.5L302.8 104.5L302.8 105.5L302.8 106.5L302.7 107.5L302.7 108.5L302.5 109.3L302.3 110.0L302.0 110.9L301.8 111.5L301.5 112.2L301.1 113.0L300.9 113.5L300.5 114.4L300.2 115.0L299.9 115.5L299.5 116.3L299.1 117.0L298.8 117.5L298.5 118.2L298.1 119.0L297.8 119.5L297.4 120.0L297.0 120.5L296.5 121.0L296.0 121.5L295.4 122.0L294.9 122.5L294.5 123.0L294.0 123.5L293.5 124.0L292.9 124.5L292.2 125.0L291.5 125.4L291.0 125.7L290.4 126.0L289.5 126.4L289.0 126.6L288.2 127.0L287.5 127.3L287.0 127.5L286.0 127.9L285.5 128.1L284.8 128.5L284.0 128.9L283.5 129.2L282.7 129.5L282.0 129.7L281.0 130.0L280.5 130.1L279.5 130.4L279.0 130.5L278.0 130.9L277.5 131.1L276.5 131.4L276.0 131.7L275.2 132.0L274.5 132.3L273.9 132.5L273.0 132.8L272.4 133.0ZM290.5 89.1L289.5 89.2L288.5 89.3L287.5 89.3L286.6 89.0L286.0 88.6L285.5 88.0L285.3 87.0L285.5 86.1L285.7 85.5L286.0 85.0L286.5 84.2L287.0 83.6L287.5 83.1L288.0 82.7L288.5 82.4L289.1 82.0L290.0 81.5L290.5 81.3L291.4 81.0L292.0 80.9L293.0 80.8L293.8 81.0L294.5 81.3L295.0 81.8L295.4 82.5L295.5 83.0L295.5 84.0L295.4 84.5L295.1 85.5L294.9 86.0L294.5 86.7L294.0 87.3L293.5 87.8L293.0 88.2L292.4 88.5L291.5 88.8L290.9 89.0ZM271.0 132.5L270.0 132.5L269.3 132.5L268.5 132.4L267.5 132.3L266.5 132.2L265.5 132.0L265.0 131.9L264.1 131.5L263.6 131.0L263.3 130.5L263.2 129.5L263.4 128.5L263.6 128.0L264.0 127.4L264.5 126.8L265.0 126.3L265.5 125.8L266.0 125.4L266.5 125.0L267.3 124.5L268.0 124.1L268.5 123.8L269.0 123.5L269.7 123.0L270.5 122.5L271.0 122.1L271.5 121.8L272.1 121.5L273.0 121.1L273.5 120.9L274.4 120.5L275.0 120.3L275.6 120.0L276.4 119.5L277.0 119.0L277.5 118.5L277.9 118.0L278.4 117.5L278.9 117.0L279.4 116.5L279.9 116.0L280.5 115.6L281.0 115.2L281.5 114.8L282.0 114.4L282.5 113.9L283.0 113.4L283.5 112.8L284.0 112.2L284.5 111.7L285.0 111.3L285.5 110.9L286.2 110.5L287.0 110.0L287.5 109.7L288.0 109.4L288.6 109.0L289.4 108.5L290.0 108.2L290.5 107.9L291.2 107.5L292.0 107.1L292.5 106.8L293.1 106.5L294.0 106.0L294.5 105.7L295.0 105.4L295.8 105.0L296.5 104.6L297.0 104.4L298.0 104.0L298.5 103.9L299.5 103.8L300.5 103.9L301.0 104.3L301.4 105.0L301.5 105.5L301.7 106.5L301.8 107.5L301.7 108.5L301.6 109.5L301.5 110.0L301.1 111.0L300.9 111.5L300.6 112.5L300.3 113.0L300.0 113.8L299.7 114.5L299.4 115.0L299.0 115.7L298.5 116.5L298.3 117.0L298.0 117.5L297.5 118.5L297.2 119.0L296.9 119.5L296.4 120.0L296.0 120.5L295.4 121.0L294.9 121.5L294.4 122.0L293.9 122.5L293.5 123.0L293.0 123.5L292.4 124.0L291.8 124.5L291.0 125.0L290.5 125.2L289.8 125.5L289.0 125.8L288.5 126.0L287.5 126.4L287.0 126.6L286.1 127.0L285.5 127.3L285.0 127.5L284.1 128.0L283.5 128.4L283.0 128.6L282.0 129.0L281.5 129.1L280.5 129.3L279.7 129.5L279.0 129.7L278.2 130.0L277.5 130.3L276.9 130.5L276.0 130.9L275.5 131.1L274.7 131.5L274.0 131.8L273.4 132.0L272.5 132.3L271.5 132.4L271.0 132.5ZM291.5 88.0L290.5 88.3L289.5 88.4L288.5 88.4L287.5 88.2L287.0 88.0L286.5 87.4L286.3 86.5L286.5 85.7L286.8 85.0L287.1 84.5L287.5 84.0L288.0 83.5L288.6 83.0L289.5 82.5L290.0 82.2L290.5 82.0L291.5 81.6L292.5 81.5L293.5 81.8L294.0 82.1L294.5 82.8L294.7 83.5L294.6 84.5L294.5 85.0L294.1 86.0L293.7 86.5L293.3 87.0L292.6 87.5L292.0 87.8L291.5 88.0ZM273.0 131.5L272.0 131.8L271.0 131.8L270.0 131.8L269.0 131.7L268.0 131.5L267.0 131.3L266.0 131.1L265.5 130.8L265.0 130.5L264.5 129.5L264.7 128.5L265.0 127.9L265.5 127.2L266.0 126.6L266.5 126.1L267.0 125.7L267.5 125.4L268.1 125.0L268.8 124.5L269.5 124.0L270.0 123.7L270.5 123.3L271.0 123.0L271.7 122.5L272.5 122.0L273.0 121.8L273.8 121.5L274.5 121.2L275.1 121.0L276.0 120.6L276.5 120.3L277.0 119.9L277.5 119.5L278.0 119.0L278.5 118.3L279.0 117.7L279.5 117.2L280.0 116.7L280.5 116.2L281.0 115.8L281.5 115.4L282.0 115.0L282.6 114.5L283.2 114.0L283.6 113.5L284.1 113.0L284.5 112.5L285.0 112.0L285.7 111.5L286.4 111.0L287.0 110.6L287.5 110.3L288.1 110.0L288.9 109.5L289.5 109.2L290.0 108.9L290.7 108.5L291.5 108.1L292.0 107.8L292.6 107.5L293.5 107.0L294.0 106.8L294.6 106.5L295.5 106.0L296.0 105.8L296.8 105.5L297.5 105.3L298.5 105.2L299.4 105.5L300.0 106.0L300.3 106.5L300.5 107.0L300.7 108.0L300.7 109.0L300.5 110.0L300.4 110.5L300.1 111.5L299.9 112.0L299.6 113.0L299.4 113.5L299.0 114.3L298.6 115.0L298.3 115.5L298.0 116.1L297.5 117.0L297.3 117.5L297.0 118.0L296.5 118.8L296.0 119.4L295.5 119.9L295.0 120.4L294.5 120.9L294.0 121.4L293.5 121.9L293.0 122.5L292.5 123.0L292.0 123.5L291.5 123.9L291.0 124.2L290.4 124.5L289.5 124.9L289.0 125.1L288.0 125.4L287.5 125.6L286.5 126.0L286.0 126.2L285.4 126.5L284.5 127.0L284.0 127.3L283.5 127.6L282.7 128.0L282.0 128.3L281.2 128.5L280.5 128.7L279.5 128.9L279.0 129.0L278.0 129.4L277.5 129.6L276.6 130.0L276.0 130.3L275.5 130.5L274.5 131.0L274.0 131.2L273.1 131.5ZM291.5 87.1L290.5 87.4L289.5 87.5L288.5 87.3L287.8 87.0L287.5 86.5L287.5 85.5L287.7 85.0L288.0 84.5L288.5 84.0L289.2 83.5L290.0 83.0L290.5 82.8L291.4 82.5L292.0 82.4L292.7 82.5L293.4 83.0L293.6 83.5L293.6 84.5L293.5 85.1L293.0 86.0L292.5 86.5L292.0 86.8L291.5 87.1ZM273.0 131.0L272.0 131.2L271.0 131.2L270.0 131.1L269.5 131.0L268.5 130.6L268.0 130.4L267.2 130.0L266.7 129.5L266.5 128.5L267.0 127.5L267.4 127.0L267.9 126.5L268.4 126.0L269.0 125.5L269.5 125.1L270.0 124.7L270.5 124.2L271.0 123.8L271.5 123.4L272.1 123.0L273.0 122.5L273.5 122.3L274.4 122.0L275.0 121.8L275.8 121.5L276.5 121.2L277.0 120.9L277.5 120.5L278.1 120.0L278.5 119.5L279.0 118.8L279.5 118.1L279.9 117.5L280.4 117.0L280.9 116.5L281.5 116.0L282.0 115.6L282.5 115.3L283.0 114.8L283.5 114.4L284.0 113.9L284.5 113.4L285.0 112.8L285.5 112.3L286.0 111.9L286.6 111.5L287.4 111.0L288.0 110.7L288.5 110.4L289.3 110.0L290.0 109.6L290.5 109.3L291.1 109.0L292.0 108.6L292.5 108.3L293.2 108.0L294.0 107.6L294.5 107.4L295.5 107.1L296.0 106.9L297.0 106.7L298.0 106.9L298.5 107.1L299.0 107.6L299.4 108.5L299.4 109.5L299.3 110.5L299.1 111.5L299.0 112.0L298.7 113.0L298.5 113.7L298.2 114.5L297.9 115.0L297.5 115.7L297.1 116.5L296.8 117.0L296.5 117.5L296.0 118.2L295.5 118.9L295.0 119.4L294.5 119.9L294.0 120.3L293.5 120.8L293.0 121.3L292.5 121.9L292.0 122.4L291.5 122.9L291.0 123.3L290.5 123.6L289.7 124.0L289.0 124.3L288.3 124.5L287.5 124.8L286.9 125.0L286.0 125.4L285.5 125.6L284.8 126.0L284.0 126.5L283.5 126.8L283.0 127.1L282.3 127.5L281.5 127.8L280.5 128.0L280.0 128.1L279.0 128.3L278.5 128.5L277.5 128.9L277.0 129.2L276.4 129.5L275.5 130.0L275.0 130.2L274.4 130.5L273.5 130.9L273.0 131.0ZM290.5 86.0L290.0 86.1L289.5 86.0L289.1 85.5L289.2 85.0L289.5 84.7L289.7 84.5L290.0 84.3L290.5 84.0L290.6 84.0L291.0 83.9L291.5 83.9L291.8 84.0L292.0 84.3L292.1 84.5L292.0 84.9L292.0 85.0L291.6 85.5L291.5 85.5L291.0 85.8L290.6 86.0L290.5 86.0ZM273.0 130.5L272.0 130.7L271.0 130.6L270.4 130.5L269.5 130.1L269.0 129.6L268.6 129.0L268.6 128.0L269.0 127.1L269.4 126.5L269.8 126.0L270.3 125.5L270.8 125.0L271.3 124.5L271.9 124.0L272.5 123.6L273.0 123.3L273.7 123.0L274.5 122.7L275.2 122.5L276.0 122.2L276.7 122.0L277.5 121.6L278.0 121.3L278.5 120.8L279.0 120.3L279.5 119.5L279.7 119.0L280.0 118.5L280.5 117.8L281.0 117.2L281.5 116.7L282.0 116.3L282.5 115.9L283.0 115.5L283.6 115.0L284.1 114.5L284.6 114.0L285.1 113.5L285.6 113.0L286.2 112.5L286.9 112.0L287.5 111.6L288.0 111.4L288.8 111.0L289.5 110.7L290.0 110.4L290.9 110.0L291.5 109.7L292.0 109.5L293.0 109.0L293.5 108.8L294.4 108.5L295.0 108.4L296.0 108.3L296.9 108.5L297.5 109.0L297.8 109.5L298.0 110.5L298.0 111.0L298.0 112.0L298.0 112.5L297.8 113.5L297.5 114.3L297.2 115.0L296.9 115.5L296.5 116.2L296.0 117.0L295.6 117.5L295.3 118.0L294.8 118.5L294.3 119.0L293.8 119.5L293.3 120.0L292.8 120.5L292.3 121.0L291.8 121.5L291.3 122.0L290.7 122.5L290.0 123.0L289.5 123.2L288.8 123.5L288.0 123.8L287.5 124.0L286.5 124.4L286.0 124.6L285.0 125.0L284.5 125.3L284.0 125.6L283.4 126.0L282.6 126.5L282.0 126.8L281.5 127.0L280.5 127.3L279.5 127.5L279.0 127.6L278.0 128.0L277.5 128.2L277.0 128.5L276.2 129.0L275.5 129.4L275.0 129.7L274.4 130.0L273.5 130.4L273.0 130.5ZM272.5 130.0L271.5 130.0L271.0 129.9L270.4 129.5L270.0 129.0L269.9 128.0L270.0 127.5L270.5 126.6L271.0 126.0L271.5 125.5L272.0 125.0L272.5 124.6L273.0 124.3L273.7 124.0L274.5 123.7L275.2 123.5L276.0 123.3L277.0 123.0L277.5 122.9L278.5 122.5L279.0 122.2L279.5 121.8L280.0 121.1L280.2 120.5L280.5 119.6L280.7 119.0L281.0 118.3L281.5 117.6L282.0 117.0L282.5 116.6L283.0 116.2L283.5 115.8L284.0 115.4L284.5 115.0L285.1 114.5L285.6 114.0L286.1 113.5L286.7 113.0L287.5 112.5L288.0 112.2L288.6 112.0L289.5 111.7L290.0 111.5L291.0 111.2L292.0 110.8L292.8 110.5L293.5 110.3L294.5 110.1L295.5 110.3L296.0 110.6L296.5 111.4L296.7 112.0L296.8 113.0L296.7 114.0L296.5 114.5L296.0 115.5L295.7 116.0L295.3 116.5L295.0 117.0L294.5 117.5L294.0 118.1L293.5 118.6L293.0 119.1L292.5 119.6L292.0 120.1L291.5 120.6L291.0 121.1L290.5 121.5L289.7 122.0L289.0 122.4L288.5 122.6L287.6 123.0L287.0 123.2L286.3 123.5L285.5 123.8L284.9 124.0L284.0 124.3L283.5 124.6L282.8 125.0L282.2 125.5L281.5 125.9L281.0 126.1L280.0 126.4L279.4 126.5L278.5 126.8L278.0 127.0L277.2 127.5L276.5 127.9L276.0 128.3L275.5 128.7L275.0 129.0L274.1 129.5L273.5 129.8L272.6 130.0ZM285.0 123.1L284.0 123.2L283.0 123.2L282.0 123.1L281.6 122.5L281.5 122.0L281.4 121.0L281.3 120.0L281.5 119.0L281.7 118.5L282.0 117.9L282.5 117.3L283.0 116.9L283.5 116.5L284.1 116.0L284.8 115.5L285.4 115.0L285.9 114.5L286.5 114.0L287.0 113.6L287.5 113.3L288.1 113.0L289.0 112.7L289.9 112.5L290.5 112.4L291.5 112.3L292.5 112.1L293.0 112.0L294.0 111.9L294.6 112.0L295.3 112.5L295.6 113.0L295.7 114.0L295.5 114.6L295.1 115.5L294.7 116.0L294.3 116.5L293.9 117.0L293.4 117.5L293.0 118.0L292.5 118.5L292.0 119.0L291.5 119.5L291.0 120.0L290.4 120.5L289.7 121.0L289.0 121.4L288.5 121.7L287.8 122.0L287.0 122.4L286.5 122.6L285.5 123.0L285.0 123.1ZM273.5 129.2L272.5 129.4L271.5 129.2L271.0 128.8L270.8 128.0L271.0 127.3L271.5 126.5L272.0 126.0L272.5 125.6L273.0 125.3L274.0 124.8L275.0 124.6L275.5 124.5L276.5 124.5L277.0 124.6L277.8 125.0L277.5 125.6L277.0 126.3L276.5 126.8L276.0 127.4L275.5 127.8L275.0 128.3L274.5 128.6L273.9 129.0ZM286.0 121.7L285.0 121.9L284.0 121.8L283.5 121.5L283.0 121.0L282.6 120.0L282.6 119.0L283.0 118.1L283.5 117.5L284.0 117.1L284.5 116.7L285.0 116.4L285.5 116.0L286.1 115.5L286.7 115.0L287.4 114.5L288.0 114.2L288.5 114.0L289.5 113.8L290.5 113.8L291.5 113.9L292.5 114.1L293.2 114.5L293.2 115.5L293.0 116.0L292.5 116.7L292.0 117.4L291.5 118.0L291.1 118.5L290.5 119.0L290.0 119.4L289.5 119.8L289.0 120.0L288.1 120.5L287.5 120.9L287.0 121.2L286.4 121.5ZM273.0 128.1L272.6 128.0L272.5 127.8L272.5 127.5L272.5 127.4L272.9 127.0L273.0 126.9L273.5 126.7L274.0 126.7L274.2 127.0L274.0 127.5L274.0 127.5L273.5 127.9L273.3 128.0L273.0 128.1Z" stroke="#404040" stroke-width=".45" fill="none"/>
<path d="M278.4 83.8h.8M291.5 65.0h.8M247.7 144.6h.8M319.1 80.6h.8M308.5 118.3h.8M276.5 107.3h.8M305.9 125.1h.8M269.1 108.1h.8M282.8 143.0h.8M307.3 87.7h.8M310.7 122.6h.8M276.5 103.4h.8M305.5 77.0h.8M316.9 109.8h.8M310.1 73.4h.8M320.3 97.2h.8M276.9 150.3h.8M295.2 134.0h.8M300.8 129.5h.8M263.9 115.9h.8M288.7 73.8h.8M242.8 147.8h.8M265.1 142.7h.8M259.8 109.5h.8M269.4 108.7h.8M253.8 120.4h.8M312.0 119.5h.8M282.2 101.6h.8M271.1 104.6h.8M252.6 139.7h.8M244.7 133.2h.8M283.6 141.4h.8M248.5 141.9h.8M308.3 92.5h.8M267.1 109.3h.8M320.4 102.0h.8M278.8 76.0h.8M270.8 147.2h.8M252.5 116.8h.8M276.5 100.3h.8M298.5 133.1h.8M308.5 62.3h.8M263.9 142.2h.8M286.6 72.0h.8M301.2 129.8h.8M248.8 129.7h.8M306.6 78.9h.8M270.9 144.9h.8M294.9 138.6h.8M271.3 81.5h.8M280.8 142.0h.8M307.9 69.3h.8M257.3 110.1h.8M270.1 112.4h.8M283.5 76.8h.8M269.5 91.4h.8M311.2 116.4h.8M270.1 88.2h.8M309.3 76.6h.8M306.3 75.4h.8M291.6 63.9h.8M274.6 104.3h.8M312.6 113.2h.8M274.7 96.8h.8M304.2 86.3h.8M297.4 66.3h.8M309.1 92.8h.8M275.2 144.8h.8M282.0 103.0h.8M309.1 117.4h.8M246.5 122.2h.8M262.1 144.5h.8M310.4 87.5h.8M301.8 129.4h.8M302.6 73.3h.8M319.7 105.2h.8M307.6 85.1h.8M310.9 72.8h.8M312.0 122.1h.8M271.9 110.6h.8M286.9 145.4h.8M315.9 116.8h.8M285.8 144.8h.8M261.3 114.2h.8M273.9 84.4h.8M275.9 100.8h.8M305.9 71.5h.8M273.1 142.7h.8M273.4 151.4h.8M307.2 138.6h.8M255.2 145.6h.8M280.1 99.6h.8M252.4 120.2h.8M291.2 68.3h.8M291.6 68.1h.8M277.5 143.1h.8M311.2 116.4h.8M310.7 121.6h.8M270.4 86.5h.8M288.3 141.6h.8M296.4 66.2h.8M297.9 61.3h.8M272.4 105.8h.8M316.3 90.4h.8M280.7 103.8h.8M248.9 124.5h.8M271.4 89.5h.8M274.5 143.8h.8M299.3 133.8h.8M275.5 108.1h.8M313.9 113.8h.8M248.5 112.9h.8M270.8 94.6h.8M292.7 135.9h.8M275.6 89.8h.8M317.0 120.9h.8M299.8 133.4h.8M320.7 118.7h.8M299.2 132.0h.8M267.2 142.7h.8M281.5 101.6h.8M290.9 138.6h.8M300.4 133.1h.8M308.7 93.4h.8M310.1 116.4h.8M322.5 99.4h.8M271.9 143.7h.8M282.1 101.8h.8M296.0 70.4h.8M279.0 74.2h.8M278.1 104.8h.8M305.0 87.3h.8M270.9 145.1h.8M277.0 80.9h.8M310.6 118.8h.8M301.7 129.0h.8M311.8 117.0h.8M272.6 153.8h.8M290.7 147.5h.8M276.6 106.7h.8M284.7 74.0h.8M328.9 111.4h.8M277.4 102.9h.8M318.4 112.9h.8M264.5 144.5h.8M267.1 105.4h.8M277.7 101.2h.8M282.8 146.3h.8M287.1 140.9h.8M311.2 114.7h.8M274.3 86.8h.8M311.7 87.1h.8M307.4 87.1h.8M280.8 145.0h.8M282.7 100.2h.8M300.0 65.3h.8M275.4 94.2h.8M248.3 120.5h.8M282.5 146.2h.8M308.6 78.1h.8M267.4 142.9h.8M313.9 114.8h.8M303.1 128.7h.8M313.4 101.0h.8M305.3 83.4h.8M301.5 72.0h.8M308.5 131.8h.8M296.9 138.8h.8M274.1 86.2h.8M280.1 141.6h.8M262.8 111.8h.8M310.3 72.7h.8M285.3 148.9h.8M270.9 77.1h.8M310.1 83.8h.8M269.1 112.5h.8M296.4 71.0h.8M266.6 111.6h.8M282.3 99.1h.8M247.8 110.4h.8M270.2 85.8h.8M310.7 119.6h.8M306.2 88.8h.8M281.4 143.1h.8M313.4 137.0h.8M258.1 150.3h.8M279.4 101.2h.8M312.8 94.2h.8M243.9 133.2h.8M301.3 64.9h.8M309.6 116.6h.8M305.5 90.9h.8M307.0 92.5h.8M276.1 97.0h.8M275.5 97.6h.8M271.9 92.6h.8M328.7 74.5h.8M272.0 107.5h.8M307.9 120.8h.8M317.8 107.4h.8M271.8 89.7h.8M277.1 144.8h.8M304.6 126.1h.8M276.3 98.8h.8M276.7 141.9h.8M296.6 64.5h.8M249.9 137.3h.8M276.3 146.4h.8M311.2 112.4h.8M283.6 77.1h.8M308.0 90.5h.8M275.8 86.9h.8M294.3 62.0h.8M278.3 102.7h.8M288.2 141.2h.8M297.8 141.2h.8M284.5 74.2h.8M287.4 68.9h.8M267.1 104.6h.8M262.6 116.8h.8M309.7 59.7h.8M273.0 96.0h.8M255.6 119.5h.8M317.4 106.2h.8M283.2 141.5h.8M266.7 101.3h.8M314.3 78.9h.8M291.5 68.7h.8M255.1 117.9h.8M305.9 92.4h.8M310.3 67.3h.8M288.1 136.6h.8M315.7 91.7h.8M312.5 88.1h.8M276.3 103.7h.8M259.7 88.8h.8M311.6 128.7h.8M298.8 131.4h.8M304.5 86.7h.8M310.9 78.4h.8M270.3 144.4h.8M291.3 138.2h.8M275.7 87.2h.8M314.4 108.8h.8M314.8 80.9h.8M309.0 118.7h.8M307.9 128.0h.8M291.4 137.1h.8M310.4 84.6h.8M255.9 121.7h.8M296.9 133.1h.8M307.4 90.3h.8M280.1 74.1h.8M271.2 109.9h.8M319.3 124.1h.8M305.8 80.0h.8M302.8 73.5h.8M293.6 72.2h.8M245.6 144.3h.8M291.5 148.2h.8M258.0 105.2h.8M256.3 116.9h.8M325.6 102.1h.8M310.9 116.3h.8M303.8 136.9h.8M250.2 108.3h.8M271.1 143.3h.8M262.6 144.7h.8M268.4 111.0h.8M275.3 105.6h.8M309.2 93.4h.8M309.8 77.4h.8M310.6 115.9h.8M264.0 112.0h.8M315.3 132.5h.8M305.1 75.5h.8M272.4 104.8h.8M280.1 97.5h.8M275.0 100.8h.8M309.5 122.3h.8M274.6 141.4h.8M273.2 82.0h.8M294.4 137.8h.8M263.7 108.4h.8M269.3 106.6h.8M274.6 102.1h.8M272.1 89.3h.8M319.9 101.2h.8M277.4 97.9h.8M243.1 130.1h.8M250.0 125.3h.8M279.9 152.1h.8M272.3 105.8h.8M308.1 83.5h.8M251.2 114.4h.8M265.5 143.9h.8M308.7 61.4h.8M316.7 83.0h.8M254.5 121.0h.8M254.9 120.2h.8M297.4 66.8h.8M262.7 114.0h.8M257.5 105.3h.8M257.6 92.7h.8M296.6 73.0h.8M267.1 113.5h.8M315.8 112.8h.8M272.0 97.9h.8M289.1 144.2h.8M288.5 74.0h.8M317.1 123.2h.8M269.9 101.3h.8M273.4 87.9h.8M317.4 109.7h.8M278.5 106.1h.8M278.4 146.4h.8M286.2 140.4h.8M308.7 124.0h.8M311.0 140.7h.8M319.2 106.8h.8M316.6 98.3h.8M294.6 134.0h.8M300.9 69.6h.8M265.8 113.6h.8M307.3 75.6h.8M275.1 143.9h.8M274.5 92.6h.8M251.0 125.3h.8M272.2 94.8h.8M267.7 101.5h.8M311.2 135.4h.8M301.7 128.9h.8M253.9 117.8h.8M263.0 104.4h.8M288.5 148.5h.8M251.5 111.8h.8M305.5 91.3h.8M256.4 148.8h.8M264.1 112.4h.8M282.4 140.5h.8M263.0 87.0h.8M314.0 99.0h.8M304.3 89.5h.8M305.3 130.6h.8M310.5 120.4h.8M263.1 110.8h.8M248.2 120.2h.8M276.9 83.1h.8M303.0 72.7h.8M293.3 146.6h.8M296.6 132.4h.8M279.0 96.9h.8M243.5 123.9h.8M293.6 139.5h.8M260.6 118.3h.8M274.4 105.0h.8M288.2 74.7h.8M306.5 125.8h.8M248.5 123.7h.8M301.3 68.4h.8M273.8 108.3h.8M297.5 69.2h.8M283.0 78.5h.8M276.0 99.6h.8M312.1 110.8h.8M283.5 75.4h.8M276.9 98.1h.8M263.3 143.3h.8M263.2 114.6h.8M245.9 140.9h.8M276.0 142.9h.8M270.2 104.1h.8M313.9 113.2h.8M265.9 106.9h.8M308.5 128.2h.8M317.0 67.0h.8M257.8 118.0h.8M249.5 122.6h.8M297.1 132.1h.8M275.1 148.1h.8M266.5 89.1h.8M255.7 121.8h.8M278.8 68.6h.8M280.6 143.6h.8M276.3 105.5h.8M273.7 91.2h.8M308.1 126.0h.8M300.1 134.6h.8M315.7 93.0h.8M310.6 87.0h.8M260.4 146.1h.8M295.1 72.7h.8M307.2 121.2h.8M275.2 92.5h.8M290.8 141.7h.8M311.6 86.9h.8M316.4 109.0h.8M254.8 115.9h.8M284.3 139.3h.8M275.8 108.4h.8M257.0 120.5h.8M298.7 134.9h.8M307.8 133.3h.8M306.9 124.9h.8M312.6 79.6h.8M283.2 101.3h.8M314.8 114.3h.8M254.0 121.7h.8M284.3 74.4h.8M310.5 94.6h.8M273.5 94.0h.8M312.8 97.7h.8M307.9 89.5h.8M309.9 91.5h.8M283.0 140.0h.8M256.2 116.4h.8M253.3 116.5h.8M308.8 120.2h.8M258.4 111.6h.8M300.1 133.2h.8M290.9 143.3h.8M253.1 109.7h.8M311.6 79.2h.8M276.8 103.5h.8M264.4 113.9h.8M261.2 142.6h.8M280.1 143.7h.8M277.3 99.4h.8M292.7 73.0h.8M307.7 127.9h.8M251.0 148.1h.8M234.8 134.0h.8M306.3 130.4h.8M270.9 107.1h.8M264.5 101.2h.8M310.2 84.8h.8M319.5 107.4h.8M282.6 143.9h.8M277.0 102.8h.8M267.2 105.0h.8M302.6 142.6h.8M287.1 138.1h.8M322.9 130.0h.8M268.7 142.3h.8M302.2 129.7h.8M278.6 81.0h.8M272.1 88.2h.8M250.3 142.0h.8M252.3 120.8h.8M306.6 91.5h.8M271.8 87.1h.8M252.6 122.0h.8M306.8 77.7h.8M274.0 102.3h.8M275.7 63.6h.8M269.0 94.4h.8M246.1 137.7h.8M263.6 114.1h.8M264.2 114.7h.8M314.5 94.0h.8M277.9 79.0h.8M274.1 108.6h.8M277.5 79.3h.8M251.4 121.3h.8M309.0 82.0h.8M280.8 142.2h.8M315.0 118.4h.8M286.7 74.3h.8M253.8 148.8h.8M284.5 140.0h.8M300.4 67.4h.8M312.7 117.7h.8M287.5 73.6h.8M266.4 143.6h.8M321.3 125.4h.8M281.1 140.4h.8M264.3 111.7h.8M299.9 65.4h.8M253.9 121.6h.8M279.4 145.5h.8M275.7 90.4h.8M297.9 72.0h.8M276.6 142.1h.8M252.7 138.5h.8M261.7 113.6h.8M305.5 70.5h.8M302.3 127.3h.8M273.5 85.5h.8M266.9 108.1h.8M322.2 93.6h.8M270.3 88.2h.8M274.9 81.7h.8M278.0 79.5h.8M274.2 101.7h.8M295.8 137.9h.8M300.7 133.2h.8M253.6 140.2h.8M310.5 86.6h.8M309.9 92.4h.8M278.4 141.3h.8M271.5 84.4h.8M271.0 111.1h.8M288.1 139.8h.8M293.3 135.1h.8M295.1 134.2h.8M274.2 90.3h.8M277.4 142.3h.8M297.2 62.6h.8M281.9 102.3h.8M283.7 141.4h.8M314.5 71.7h.8M310.2 124.6h.8M280.8 99.4h.8M313.5 75.1h.8M281.8 75.8h.8M260.3 115.7h.8M270.0 110.9h.8M281.5 76.4h.8M305.0 77.2h.8M244.7 136.0h.8M303.6 131.1h.8M297.5 134.4h.8M283.3 74.1h.8M290.3 139.2h.8M239.0 134.1h.8M250.7 120.2h.8M271.4 111.1h.8M265.1 113.5h.8M273.4 144.3h.8M307.3 126.7h.8M301.6 133.6h.8M259.1 114.0h.8M298.9 132.9h.8M310.9 115.8h.8M280.0 150.1h.8M322.8 127.9h.8M317.3 82.4h.8M259.3 116.7h.8M262.8 105.7h.8M293.1 64.8h.8M312.8 94.5h.8M282.2 98.5h.8M306.9 122.0h.8M279.0 79.7h.8M282.7 77.1h.8M308.1 119.6h.8M273.3 105.9h.8M314.1 100.0h.8M313.2 118.1h.8M272.1 98.2h.8M262.1 95.4h.8M319.2 103.9h.8M262.4 112.2h.8M303.2 128.1h.8M271.6 102.6h.8M272.5 86.8h.8M317.9 99.6h.8M295.2 134.7h.8M307.8 73.8h.8M318.4 77.4h.8M312.1 92.4h.8M297.6 131.6h.8M256.4 116.2h.8M270.4 80.1h.8M315.0 112.3h.8M318.0 123.8h.8M278.6 98.9h.8M272.1 109.5h.8M239.9 129.8h.8M314.3 67.6h.8M271.8 108.9h.8M248.1 121.8h.8M290.9 145.7h.8M313.3 101.6h.8M252.8 112.4h.8M274.9 101.6h.8M290.1 138.1h.8M281.8 73.5h.8M269.1 106.9h.8M302.8 127.3h.8M309.3 68.2h.8M309.0 92.6h.8M301.0 66.4h.8M301.2 65.5h.8M279.5 97.5h.8M254.6 140.6h.8M267.6 87.1h.8M274.3 86.7h.8M256.5 117.7h.8M312.1 96.5h.8M250.6 142.4h.8M309.2 121.1h.8M271.7 89.9h.8M314.0 110.9h.8M263.5 114.9h.8M274.6 96.2h.8M312.5 69.3h.8M295.8 137.3h.8M299.1 72.8h.8M277.0 98.4h.8M270.9 107.6h.8M273.7 141.5h.8M271.7 143.9h.8M296.8 135.7h.8M290.6 137.6h.8M313.5 137.5h.8M264.6 147.0h.8M300.2 68.9h.8M313.3 89.1h.8M294.0 136.8h.8M301.7 134.5h.8M294.6 133.0h.8M242.9 138.9h.8M279.6 99.6h.8M278.8 82.7h.8M281.0 98.1h.8M273.9 147.0h.8M293.1 135.9h.8M247.3 125.7h.8M315.3 116.9h.8" stroke="#555" stroke-width=".8" fill="none"/>
<ellipse cx="290.0" cy="84.4" rx="22.3" ry="13.3" transform="rotate(-30 290 84.4)" fill="none" stroke="#22207f" stroke-width="2.1"/>
<line x1="222.3" y1="50.2" x2="331.5" y2="50.2" stroke="#b5b5b5" stroke-width="1"/>
<line x1="331.5" y1="50.2" x2="331.5" y2="159.9" stroke="#b5b5b5" stroke-width="1"/>
<line x1="222.3" y1="50.2" x2="222.3" y2="159.9" stroke="#555" stroke-width="1"/>
<line x1="222.3" y1="159.9" x2="331.5" y2="159.9" stroke="#555" stroke-width="1"/>
<line x1="220.8" y1="126.02" x2="222.3" y2="126.02" stroke="#555" stroke-width="0.8"/>
<line x1="220.8" y1="121.53" x2="222.3" y2="121.53" stroke="#555" stroke-width="0.8"/>
<line x1="220.8" y1="118.35" x2="222.3" y2="118.35" stroke="#555" stroke-width="0.8"/>
<line x1="220.8" y1="115.88" x2="222.3" y2="115.88" stroke="#555" stroke-width="0.8"/>
<line x1="220.8" y1="113.86" x2="222.3" y2="113.86" stroke="#555" stroke-width="0.8"/>
<line x1="220.8" y1="112.15" x2="222.3" y2="112.15" stroke="#555" stroke-width="0.8"/>
<line x1="220.8" y1="110.67" x2="222.3" y2="110.67" stroke="#555" stroke-width="0.8"/>
<line x1="220.8" y1="109.37" x2="222.3" y2="109.37" stroke="#555" stroke-width="0.8"/>
<line x1="220.8" y1="100.92" x2="222.3" y2="100.92" stroke="#555" stroke-width="0.8"/>
<line x1="220.8" y1="96.65" x2="222.3" y2="96.65" stroke="#555" stroke-width="0.8"/>
<line x1="220.8" y1="93.63" x2="222.3" y2="93.63" stroke="#555" stroke-width="0.8"/>
<line x1="220.8" y1="91.28" x2="222.3" y2="91.28" stroke="#555" stroke-width="0.8"/>
<line x1="220.8" y1="89.37" x2="222.3" y2="89.37" stroke="#555" stroke-width="0.8"/>
<line x1="220.8" y1="87.75" x2="222.3" y2="87.75" stroke="#555" stroke-width="0.8"/>
<line x1="220.8" y1="86.35" x2="222.3" y2="86.35" stroke="#555" stroke-width="0.8"/>
<line x1="220.8" y1="85.11" x2="222.3" y2="85.11" stroke="#555" stroke-width="0.8"/>
<line x1="220.8" y1="76.59" x2="222.3" y2="76.59" stroke="#555" stroke-width="0.8"/>
<line x1="220.8" y1="72.26" x2="222.3" y2="72.26" stroke="#555" stroke-width="0.8"/>
<line x1="220.8" y1="69.19" x2="222.3" y2="69.19" stroke="#555" stroke-width="0.8"/>
<line x1="220.8" y1="66.81" x2="222.3" y2="66.81" stroke="#555" stroke-width="0.8"/>
<line x1="220.8" y1="64.86" x2="222.3" y2="64.86" stroke="#555" stroke-width="0.8"/>
<line x1="220.8" y1="63.21" x2="222.3" y2="63.21" stroke="#555" stroke-width="0.8"/>
<line x1="220.8" y1="61.78" x2="222.3" y2="61.78" stroke="#555" stroke-width="0.8"/>
<line x1="220.8" y1="60.53" x2="222.3" y2="60.53" stroke="#555" stroke-width="0.8"/>
<line x1="219.5" y1="59.4" x2="222.3" y2="59.4" stroke="#555" stroke-width="1"/>
<line x1="219.5" y1="84" x2="222.3" y2="84" stroke="#555" stroke-width="1"/>
<line x1="219.5" y1="108.2" x2="222.3" y2="108.2" stroke="#555" stroke-width="1"/>
<line x1="219.5" y1="133.7" x2="222.3" y2="133.7" stroke="#555" stroke-width="1"/>
<line x1="219.5" y1="142.9" x2="222.3" y2="142.9" stroke="#555" stroke-width="1"/>
<line x1="219.5" y1="152.1" x2="222.3" y2="152.1" stroke="#555" stroke-width="1"/>
<line x1="220.8" y1="137.5" x2="222.3" y2="137.5" stroke="#555" stroke-width="0.8"/>
<line x1="220.8" y1="140" x2="222.3" y2="140" stroke="#555" stroke-width="0.8"/>
<line x1="220.8" y1="146" x2="222.3" y2="146" stroke="#555" stroke-width="0.8"/>
<line x1="220.8" y1="149" x2="222.3" y2="149" stroke="#555" stroke-width="0.8"/>
<line x1="220.8" y1="155" x2="222.3" y2="155" stroke="#555" stroke-width="0.8"/>
<line x1="220.8" y1="158" x2="222.3" y2="158" stroke="#555" stroke-width="0.8"/>
<line x1="308.3" y1="159.9" x2="308.3" y2="161.4" stroke="#555" stroke-width="0.8"/>
<line x1="313.39" y1="159.9" x2="313.39" y2="161.4" stroke="#555" stroke-width="0.8"/>
<line x1="317" y1="159.9" x2="317" y2="161.4" stroke="#555" stroke-width="0.8"/>
<line x1="319.8" y1="159.9" x2="319.8" y2="161.4" stroke="#555" stroke-width="0.8"/>
<line x1="322.09" y1="159.9" x2="322.09" y2="161.4" stroke="#555" stroke-width="0.8"/>
<line x1="324.02" y1="159.9" x2="324.02" y2="161.4" stroke="#555" stroke-width="0.8"/>
<line x1="325.7" y1="159.9" x2="325.7" y2="161.4" stroke="#555" stroke-width="0.8"/>
<line x1="327.18" y1="159.9" x2="327.18" y2="161.4" stroke="#555" stroke-width="0.8"/>
<line x1="257.5" y1="159.9" x2="257.5" y2="162.7" stroke="#555" stroke-width="1"/>
<line x1="299.6" y1="159.9" x2="299.6" y2="162.7" stroke="#555" stroke-width="1"/>
<line x1="328.5" y1="159.9" x2="328.5" y2="162.7" stroke="#555" stroke-width="1"/>
<line x1="228" y1="159.9" x2="228" y2="161.4" stroke="#555" stroke-width="0.8"/>
<line x1="233" y1="159.9" x2="233" y2="161.4" stroke="#555" stroke-width="0.8"/>
<line x1="238" y1="159.9" x2="238" y2="161.4" stroke="#555" stroke-width="0.8"/>
<line x1="243" y1="159.9" x2="243" y2="161.4" stroke="#555" stroke-width="0.8"/>
<line x1="248" y1="159.9" x2="248" y2="161.4" stroke="#555" stroke-width="0.8"/>
<line x1="252" y1="159.9" x2="252" y2="161.4" stroke="#555" stroke-width="0.8"/>
<line x1="262" y1="159.9" x2="262" y2="161.4" stroke="#555" stroke-width="0.8"/>
<line x1="266" y1="159.9" x2="266" y2="161.4" stroke="#555" stroke-width="0.8"/>
<line x1="271" y1="159.9" x2="271" y2="161.4" stroke="#555" stroke-width="0.8"/>
<line x1="276" y1="159.9" x2="276" y2="161.4" stroke="#555" stroke-width="0.8"/>
<line x1="281" y1="159.9" x2="281" y2="161.4" stroke="#555" stroke-width="0.8"/>
<rect x="221.2" y="141" width="2.1" height="4" fill="#111"/>
<rect x="254" y="159.2" width="3.5" height="1.8" fill="#111"/>
<text x="205.3" y="63.5" font-size="10.6" fill="#1a1a1a" text-anchor="middle" textLength="10" lengthAdjust="spacingAndGlyphs">10</text>
<text x="212.5" y="58.8" font-size="7.2" fill="#1a1a1a" text-anchor="middle" textLength="3.6" lengthAdjust="spacingAndGlyphs">5</text>
<text x="205.3" y="87.9" font-size="10.6" fill="#1a1a1a" text-anchor="middle" textLength="10" lengthAdjust="spacingAndGlyphs">10</text>
<text x="212.5" y="83.2" font-size="7.2" fill="#1a1a1a" text-anchor="middle" textLength="3.6" lengthAdjust="spacingAndGlyphs">4</text>
<text x="205.3" y="111.9" font-size="10.6" fill="#1a1a1a" text-anchor="middle" textLength="10" lengthAdjust="spacingAndGlyphs">10</text>
<text x="212.5" y="107.2" font-size="7.2" fill="#1a1a1a" text-anchor="middle" textLength="3.6" lengthAdjust="spacingAndGlyphs">3</text>
<text x="205.3" y="137.1" font-size="10.6" fill="#1a1a1a" text-anchor="middle" textLength="10" lengthAdjust="spacingAndGlyphs">10</text>
<text x="212.5" y="132.4" font-size="7.2" fill="#1a1a1a" text-anchor="middle" textLength="3.6" lengthAdjust="spacingAndGlyphs">2</text>
<text x="211.6" y="145.4" font-size="11.2" fill="#1a1a1a" text-anchor="middle" textLength="5.8" lengthAdjust="spacingAndGlyphs">0</text>
<text x="198.25" y="155" font-size="11.2" fill="#1a1a1a" text-anchor="middle" textLength="3.1" lengthAdjust="spacingAndGlyphs">-</text>
<text x="205.3" y="155" font-size="10.6" fill="#1a1a1a" text-anchor="middle" textLength="10" lengthAdjust="spacingAndGlyphs">10</text>
<text x="212.5" y="150.3" font-size="7.2" fill="#1a1a1a" text-anchor="middle" textLength="3.6" lengthAdjust="spacingAndGlyphs">2</text>
<text x="257.55" y="175.8" font-size="11.2" fill="#1a1a1a" text-anchor="middle" textLength="6.3" lengthAdjust="spacingAndGlyphs">0</text>
<text x="298.1" y="175.6" font-size="10.6" fill="#1a1a1a" text-anchor="middle" textLength="10" lengthAdjust="spacingAndGlyphs">10</text>
<text x="305.3" y="170.9" font-size="7.2" fill="#1a1a1a" text-anchor="middle" textLength="3.6" lengthAdjust="spacingAndGlyphs">3</text>
<text x="326.4" y="175.6" font-size="10.6" fill="#1a1a1a" text-anchor="middle" textLength="10" lengthAdjust="spacingAndGlyphs">10</text>
<text x="333.6" y="170.9" font-size="7.2" fill="#1a1a1a" text-anchor="middle" textLength="3.6" lengthAdjust="spacingAndGlyphs">4</text>
<text transform="translate(189.5 149.25) rotate(-90)" x="0" y="0" font-size="14.2" fill="#1a1a1a" text-anchor="middle" textLength="26.1" lengthAdjust="spacingAndGlyphs">CD38</text>
<path d="M184.6 105L189.6 117.3L184.6 115.3L179.6 117.3Z" fill="#5b9fdc"/>
<line x1="184.6" y1="115.5" x2="184.6" y2="132" stroke="#5b9fdc" stroke-width="2"/>
<text x="231.3" y="194.2" font-size="13.2" fill="#1a1a1a" text-anchor="middle" textLength="23.5" lengthAdjust="spacingAndGlyphs">HO-1</text>
<path d="M275 189.9L263.2 184.9L265.2 189.9L263.2 194.9Z" fill="#5b9fdc"/>
<line x1="248.5" y1="189.9" x2="265" y2="189.9" stroke="#5b9fdc" stroke-width="2"/>
<rect x="0.9" y="0.9" width="518.2" height="1032.2" fill="none" stroke="#000" stroke-width="1.9"/>
</svg></body></html>
